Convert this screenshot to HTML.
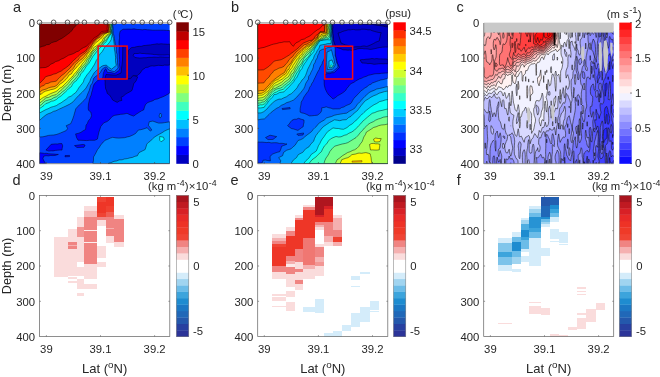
<!DOCTYPE html><html><head><meta charset="utf-8"><title>fig</title><style>html,body{margin:0;padding:0;background:#fff}svg{display:block;will-change:transform}</style></head><body><svg width="660" height="377" viewBox="0 0 660 377" font-family="'Liberation Sans', sans-serif" fill="#262626"><rect width="660" height="377" fill="#fff"/><g><clipPath id="ca"><rect x="39.5" y="23.0" width="130.3" height="140.5"/></clipPath><g clip-path="url(#ca)"><rect x="39.5" y="23.0" width="130.3" height="140.5" fill="#0040ff"/><path d="M169.8 30.6 166.6 30.4 163.7 30.2 160.8 30.2 157.9 30.2 155.4 30.2 152.6 30.2 149.9 29.9 147.6 29.8 144.8 29.4 142.5 29.8 139.5 29.5 137.1 29.5 134 28.8 131.3 29.2 128.4 29.1 126.1 29.2 123.1 29.2 120.1 31.2 119.4 34.7 119.6 38.1 119.1 41.1 119 43.8 119.4 46.6 119.2 49.1 119.1 52 119.3 54.3 119.5 56.8 119.6 59.4 119.7 62.4 119.5 64.8 119.9 67.4 119.6 70 117.2 71.7 114.6 73.5 111.2 72.6 107.4 72.5 105.8 68.8 104.6 69.9 103.3 73.5 102.8 78 101.2 79.4 97.9 80.2 96 82.3 94.1 84.1 93 87.3 92.5 90 91.7 92.3 91.2 95 90 97.6 89.4 100 88.5 103.9 88.2 108.1 88.5 110.3 90.8 112 91.6 115.7 90.5 118.4 88.3 120.9 87.4 123.4 86 125.3 85.6 129.4 83 130.9 80.8 132.4 78.2 133.4 75.6 133.9 76.5 137.4 78 140.2 81 140.3 83.9 140.4 86.7 140.6 89.4 140.3 91.9 140.3 94.7 140.3 97.4 139.1 98.1 135.8 98.9 132.1 100 129 100.7 126.6 103.8 122.8 107 121.6 109.2 119.9 112.3 116.4 114.8 115.3 117.5 114.9 120.7 114.3 123.7 114.1 127 113.3 130.3 114.9 133.7 116.1 136.1 114.3 139.2 112.3 141.6 110.8 143.7 109.9 144.5 107 145.6 104.4 147.8 102.5 150.4 101.6 153 100.7 154.9 99.4 157.8 98.9 160.4 97.7 162.9 96.8 165 95.8 167.5 94.4 169.8 93Z" fill="#0000ff" stroke="#000" stroke-width="0.45" stroke-linejoin="round" /><path d="M51.2 144.3 53.3 144.1 55.4 143.9 57.4 144 59.6 143.6 61.9 143.6 62.7 145.9 62.2 148.2 62 150.1 59.9 150 57.6 150.2 55.4 150.4 53.1 150.9 51.1 150.8 48.9 151.1 45.9 150.1Z" fill="#0000ff" stroke="#000" stroke-width="0.45" stroke-linejoin="round" /><path d="M39.5 152.8 41.7 153 44.4 153.4 46.3 153.3 48.6 153.7 51 153.9 53.7 154 56.2 154.3 58.4 154.4 55.3 155.4 53 155.6 50.7 155.5 48.5 155.9 46 155.7 43.7 156.2 42.9 158.7 44.5 162 45.8 163.5 43.8 163.7 41.6 163.6 39.5 163.7Z" fill="#0000ff" stroke="#000" stroke-width="0.45" stroke-linejoin="round" /><path d="M74.5 145.6 83 144.4 85.1 145 84 147.3 77 147.5Z" fill="#0000ff" stroke="#000" stroke-width="0.45" stroke-linejoin="round" /><path d="M65 155.6 69.5 155.4 69.5 156.6 65 156.8Z" fill="#0000ff" stroke="#000" stroke-width="0.45" stroke-linejoin="round" /><path d="M104.8 79.5 105.2 82 105.1 84 105.4 86.2 105.6 88.7 106.6 90.8 107.3 93.5 109.6 95.1 111.1 97.3 112.7 100.1 115 101.3 117.2 102.4 119.2 101.1 121.9 100.4 121.1 97.3 123.4 96.1 125.7 94.1 127.6 93 130 91.7 132 90.4 132.6 88.2 133.3 85.8 133.6 83.9 136.1 80.9 136.8 79.1 137.7 76.9 135.4 76 133.2 75.1 131.3 74.5 129.2 75 127.2 75.4 127.1 79.3 125.2 79.5 122.9 79.1 120.7 79.1 118.7 79.5 116.4 79.4 113.9 79.3 112 79.3Z" fill="#0000bf" stroke="#000" stroke-width="0.45" stroke-linejoin="round" /><path d="M105.2 77.5 106 74.5 110 74.8 116 75.2 121 73 122.5 60 122.8 46 127.1 46 127.1 79 105 79Z" fill="#0000bf" stroke="#000" stroke-width="0.45" stroke-linejoin="round" /><path d="M169.8 44 167.5 44.3 165.5 44.1 163.6 44 161.1 43.8 158.9 44.1 157 43.8 155 44.2 152.5 44.5 150.5 44.9 148.3 45.1 145.9 45.4 143.6 45.6 141.1 46.4 139.3 46.3 136.4 46.7 134.5 47.3 131.7 47.5 130 48.8 128.6 50.3 128 52.2 127.9 54.3 127 56 127.6 58.1 127.5 60.3 127.5 62.3 127 64.2 127.1 66.4 127.6 68.8 127.5 70.9 127.4 73.1 127.6 75.3 127.5 76.9 127.2 79 131 78.2 132.7 75.8 134.9 75.7 137.2 75.7 138.6 74.4 140.1 73.3 142.3 69.8 144.2 68.7 145.8 67.4 148 67.3 149.9 66.2 152.2 65.8 154 66.1 156 65.7 158.2 65.3 160 65.4 162.7 65.6 164.6 65.1 167.3 65.2 169.8 65Z" fill="#0000bf" stroke="#000" stroke-width="0.45" stroke-linejoin="round" /><path d="M169.8 55 167.5 54.8 164.7 55 162.5 55 159.9 55 158 54.9 156 54.6 154.1 54.6 152.1 54.2 150.2 54.1 147.8 53.9 146.1 53.8 144.1 53.5 141.8 53.5 140 53.1 138.1 53.5 135.9 53.5 134 53.6 133.2 55.4 134.9 57.5 137.4 57.8 139.6 58 142 57.9 144.1 57.7 146 57.8 148.1 57.4 149.9 57.3 151.9 57.3 153.9 57.1 156.1 57.2 158.2 57.3 160.1 56.9 162.5 57 164.9 57.2 167.5 57.2 169.8 57.2Z" fill="#0000ff" stroke="#000" stroke-width="0.45" stroke-linejoin="round" /><path d="M39.5 23 112.6 23 112.7 25.8 113.2 28.4 113 30.7 113.4 33.6 114.1 36.4 114.4 38.6 114.9 41.7 115.3 44.1 116.3 46.4 116.3 49.6 116.4 52 117.1 54.4 117.1 57.5 117.5 59.9 117.5 62.6 117.8 65.2 118.1 68.1 116.4 69.7 114.3 71.7 111.5 70.9 108.8 70 106.3 66.8 103.6 68.1 101.8 69.6 100.4 72.5 98.6 74.5 95.9 76.2 93.8 78.1 93 80.6 92.3 83.1 90.7 85.2 90.1 87.5 89.3 90.3 87.7 94 86.2 98.1 83.9 100.4 82.1 102.5 79.3 104.9 77.6 106.8 75.8 108.8 74.5 113.2 73.9 115.5 73 118.2 72 120.8 70.7 123.7 66.2 125.7 67.6 128.5 66.2 130.6 63.3 131.8 60.7 132.9 58.7 133.7 56.1 134.6 53.7 135 50.7 135.2 48.5 135.4 46 136.1 42.9 136.8 39.5 137Z" fill="#0080ff" stroke="#000" stroke-width="0.45" stroke-linejoin="round" /><path d="M92.8 163.5 93.5 160.4 93.5 157 94.9 154.7 96.2 152.3 97.4 149.8 99.4 147.2 101.1 144.3 102.9 142.7 104.9 140.3 107.7 139.3 110.3 138.1 112.7 137.3 115.9 137.9 118.9 138.1 121.7 137.9 124.5 137.7 127.4 136.9 129.7 136.4 132.9 135 135.5 133.5 138.4 130 140.8 129.7 143.8 128.9 147.1 127.7 150.3 131.1 151.8 130.1 150.1 127.4 148.3 125.3 149.3 121.7 152.9 121.1 155.9 122.2 158.7 123.1 162 123 164.8 122.6 169.8 121.8 169.8 163.5Z" fill="#0080ff" stroke="#000" stroke-width="0.45" stroke-linejoin="round" /><path d="M160.3 113 161.6 114.5 161.3 117 160 118 159 116Z" fill="#0080ff" stroke="#000" stroke-width="0.45" stroke-linejoin="round" /><path d="M39.5 23 112.2 23 112.3 25.4 112.1 28.2 112.4 30.8 112.5 33.5 112.8 36.5 113.6 38.6 113.8 41.5 114.2 44.2 114.3 46.8 114.5 49.5 115 52.1 115.3 55 115.6 57.3 115.5 60.5 115.8 63.1 116.3 65.4 113.6 67.5 111.7 69.2 108.6 67.3 106.4 65.1 103.1 65.6 100.6 67 99 68.6 96.8 70.2 94.1 72.9 92.5 75.6 90.7 78.8 89.9 81.3 88.3 83.9 86 88.1 84.2 90.1 82.2 92.2 78.9 95.3 75.9 98.5 73 101.9 69.8 104.1 65.8 106.1 63.4 107.2 61 108.3 58.6 109.4 55.9 110.8 53.3 111.4 51.1 112.8 48.3 113.7 46 114.9 43.6 116.8 41.7 118.4 39.5 120.5Z" fill="#00bfff" stroke="#000" stroke-width="0.45" stroke-linejoin="round" /><path d="M108 163.5 111.1 162.6 114 161.3 116.5 161 119.1 159.9 122.1 159.8 124.3 159 127.3 158.6 129.8 157.9 132.5 157.4 134.9 156.3 137.3 155.8 139 152.6 142.1 151.1 145.1 149.6 146 146.9 146.8 144.1 148.3 142.5 150.3 141.2 152.5 138.8 155 136.7 157.2 135.4 159.6 134.1 161.9 132.8 164.5 131.1 167.1 129.8 169.8 128.8 169.8 163.5Z" fill="#00bfff" stroke="#000" stroke-width="0.45" stroke-linejoin="round" /><path d="M39.5 23 111.8 23 111.8 25.9 111.7 28.3 111.4 31 112 34.3 111.7 36.6 111.1 39.8 109.7 42.1 107.6 44.7 104.8 47.2 102.2 51.6 100.5 53.4 99 55.4 98.2 58.1 96.3 60.3 95.2 62.9 94.2 64.9 92.4 67.7 91.2 69.6 89 72.5 87.2 74.6 85.6 77 84.2 79.2 83.4 81.9 82 83.8 80.4 85.8 78.6 88.1 77.6 89.9 75.6 92.7 73.3 94.3 71.2 96.1 68.4 97.2 66.3 99.2 63.6 101 61.1 102.8 58.4 104.2 56.4 105.6 53.6 106.5 51 107.2 48.1 108.7 46 109.5 43 111.1 39.5 113Z" fill="#00ffff" stroke="#000" stroke-width="0.45" stroke-linejoin="round" /><path d="M159.7 136.5 163.5 137.2 164.3 139.5 161.2 141.8 159.7 140.3Z" fill="#00ffff" stroke="#000" stroke-width="0.45" stroke-linejoin="round" /><path d="M39.5 23 111.4 23 111.6 26.3 111.7 28.7 111.2 32 111 33.7 108.2 38 105.8 42.2 103.8 43.6 102.4 45.9 100.1 47.7 98.1 50 96.4 51.9 94.4 54.6 92.9 56.4 91.4 59 90.1 61.3 89 63.2 87.1 65.3 85.8 67 84.4 69.4 82.7 72.1 80.6 73.8 79.8 76.5 78.1 78 76.3 80.8 74.1 82.1 72.4 84.6 71.4 86.6 69.1 88.2 67.3 90.1 65.7 91.7 63.1 94 61.4 95.7 58.4 97.6 56.4 99.5 53.4 100.9 51.3 101.2 48.9 102.6 45.8 103.6 44 105.4 41.5 107.3 39.5 108.5Z" fill="#40ffbf" stroke="#000" stroke-width="0.45" stroke-linejoin="round" /><path d="M39.5 23 110.9 23 111 25.9 110.6 28.6 111 30.5 110.8 33.4 108.3 36.8 105.7 40.3 103.5 41.9 101.9 44.5 99.7 45.9 97.6 47.9 96.3 49.7 93.6 52.2 92.1 54.6 90.7 57 88.9 59.7 87.9 62.4 86.2 64.5 84.3 66.8 82.3 68.5 81.4 71.1 79 72.7 78 75.7 76.2 77.4 74.5 79.8 72.5 81.4 71 83.5 69.7 85 67.8 86.7 66.4 88.5 64.1 90.6 62.4 91.7 60.2 93.9 58.4 95.1 56.4 96.8 53.9 97.6 51.2 99.3 48.6 100 45.6 100.9 43.6 102.3 41.6 104.6 39.5 105.8Z" fill="#80ff80" stroke="#000" stroke-width="0.45" stroke-linejoin="round" /><path d="M39.5 23 110.5 23 110.1 25.4 110.6 28 110 30.8 110.6 33.4 107.2 35.9 104.8 38.1 103.9 41.1 101.8 42.7 99.9 44.6 97.8 46.2 96.3 47.9 94.3 49.9 92.2 51.6 91 54.2 89.4 57.4 87.2 59.5 86.3 61.7 84.6 64.3 82.8 65.8 80.6 68.4 79.1 70.8 77.7 72 76.2 74.6 74.4 76.4 72.1 78.8 70.2 80.9 68.4 83.4 66.3 85.4 63.6 87.6 62.1 89.5 60.4 90.8 58.2 92.6 56.2 94.6 53.8 95.2 51.4 96 48.7 97.4 45.6 97.9 43.7 100.1 41.5 101.6 39.5 103.3Z" fill="#bfff40" stroke="#000" stroke-width="0.45" stroke-linejoin="round" /><path d="M39.5 23 110 23 109.5 26.4 109.8 29.4 110 32.9 107.2 34.7 104.3 37.2 102.9 39.2 102.1 41.3 99.1 43.6 97 45.6 93.6 47.7 92.7 50.2 90.8 52.3 89.4 54.6 87.9 57 85.7 59.6 84.3 61.7 82.3 63.8 81 66 79.3 67.7 77.6 70.3 75.8 72.4 74 74.3 73 76.1 70.8 77.9 69.6 79.2 67.5 81.4 66.3 82.8 63.9 85 62.2 87 59.7 88.2 58 90 56 91.6 53.9 92.3 50.7 93.6 48.5 94.7 46.3 96 43.4 97.4 41.6 98.6 39.5 100.3Z" fill="#ffff00" stroke="#000" stroke-width="0.45" stroke-linejoin="round" /><path d="M39.5 23 109.6 23 109.7 25.8 109.9 29 109.9 32 107.1 32.9 104.2 34.5 102 37.7 100.4 38.9 97.7 41.4 95.8 42.5 94.1 44.7 92.6 46.6 91.2 49.3 89.3 51.9 87.2 54.5 86.3 56.9 84 59.2 81.9 61.6 79.9 63.7 77.8 65.7 75.8 68.2 74.1 69.7 72.6 71.8 71.4 73.9 69 75 67.9 77.1 65.9 79.5 64.3 81 62.3 82.7 59.6 84.4 58 86.6 55.8 88.2 53.8 89.1 50.8 89.7 48.6 90.4 45.7 91.1 43.8 92 41.2 94.1 39.5 95Z" fill="#ffbf00" stroke="#000" stroke-width="0.45" stroke-linejoin="round" /><path d="M39.5 23 109.1 23 109.3 26.4 108.8 28.7 109.4 31.6 104.6 33.5 101.6 35.4 100.2 37.2 97.6 38.7 96 40.4 93.8 42.9 92.2 44.7 90.7 47.7 89.2 49.6 87.5 52.7 85.7 54.5 84.2 56.6 82 58.9 79.6 60.5 78 62.3 75.6 64.3 74.2 67 73 68.7 71 70.7 69.1 71.9 67.4 74.1 65.8 75.8 63.6 78 62.2 79.8 59.7 81.6 58.2 83.7 55.9 86 53.8 86.7 50.9 87.2 48.5 87.9 46.3 89 42.4 90.2 39.5 92Z" fill="#ff8000" stroke="#000" stroke-width="0.45" stroke-linejoin="round" /><path d="M39.5 23 108.6 23 108.6 26.3 108.7 29.2 108.1 32.2 105.1 32.9 101.6 33.9 100.1 35.7 98 37.7 96.1 38.8 94.1 41.2 92.8 42.9 91.2 45.5 89.2 48.2 87.3 50.2 85.7 52.6 83.6 54.2 81.7 55.8 79.6 57.6 78.2 59.9 76.2 61.3 74 63.6 71.8 65.7 70.4 67.8 67.9 70.1 66.3 71.6 63.8 74.1 62 75.2 59.9 77.2 58.1 79 56.4 81.1 53.2 81.7 50.9 82 48.1 83.4 45.9 83.6 43.9 85.4 41.5 86.3 39.5 88Z" fill="#ff4000" stroke="#000" stroke-width="0.45" stroke-linejoin="round" /><path d="M39.5 23 108.2 23 108.1 25.7 108.4 28.4 107.6 32 105.2 32.2 102.4 32.7 99.6 34.5 97.7 36.9 96.3 38.3 93.9 40.1 92.6 41.8 90.9 43.7 88.9 45.6 88 47.5 86.1 50.1 84.4 51.9 82 53.1 79.9 54.6 78.1 56.3 75.8 58.6 73.9 60.1 72.2 61.8 70 64.4 68.2 65.9 65.8 67.8 63.6 69.2 61.3 71 58.1 72.4 56.1 73.6 53.4 74.2 51.2 75.2 48.4 75.9 45.6 76.7 44.2 78.7 42 81 39.5 83.5Z" fill="#ff0000" stroke="#000" stroke-width="0.45" stroke-linejoin="round" /><path d="M39.5 23 107.7 23 107.3 25.9 107.1 28.9 107.4 31 104.5 31.2 101.6 31.5 100.3 33.3 98.3 35.2 95.8 37 93.8 38.2 92.2 40.5 90.1 42.5 88.4 44.3 86.4 46.4 83.4 47.7 80.7 49.3 78.9 51 76.3 51.9 73.8 53.5 71.3 54.4 68.4 55.3 66.4 56.6 63.3 58.4 61.1 59.2 58.8 60.7 55.6 61.6 53.6 63 50.8 64.2 48.6 66.2 45.7 67.5 42.4 67.7 39.5 68Z" fill="#bf0000" stroke="#000" stroke-width="0.45" stroke-linejoin="round" /><path d="M39.5 23 79.8 23 76.8 24.4 75.4 26.2 73.4 28.2 71.6 30.9 69.9 32.6 67.2 34.6 63.8 37.1 61.3 38.7 59.3 39.6 56.3 41.4 54 41.9 51.4 42.8 49.2 44.5 46.7 44.7 44.5 45.9 42.2 46.4 39.5 47.5Z" fill="#800000" stroke="#000" stroke-width="0.45" stroke-linejoin="round" /></g><rect x="98.1" y="46.1" width="29" height="32.9" fill="none" stroke="#f80810" stroke-width="1.5"/><rect x="39.0" y="21.5" width="131.3" height="2.4" fill="#fff"/><path d="M39.5 22.9H169.8" stroke="#3a3a3a" stroke-width="0.6"/><circle cx="39.5" cy="22.3" r="2.3" fill="none" stroke="#333" stroke-width="0.8"/><circle cx="53.6" cy="22.3" r="2.3" fill="none" stroke="#333" stroke-width="0.8"/><circle cx="67.5" cy="22.3" r="2.3" fill="none" stroke="#333" stroke-width="0.8"/><circle cx="76.8" cy="22.3" r="2.3" fill="none" stroke="#333" stroke-width="0.8"/><circle cx="84.4" cy="22.3" r="2.3" fill="none" stroke="#333" stroke-width="0.8"/><circle cx="97.0" cy="22.3" r="2.3" fill="none" stroke="#333" stroke-width="0.8"/><circle cx="105.8" cy="22.3" r="2.3" fill="none" stroke="#333" stroke-width="0.8"/><circle cx="114.3" cy="22.3" r="2.3" fill="none" stroke="#333" stroke-width="0.8"/><circle cx="123.8" cy="22.3" r="2.3" fill="none" stroke="#333" stroke-width="0.8"/><circle cx="133.2" cy="22.3" r="2.3" fill="none" stroke="#333" stroke-width="0.8"/><circle cx="142.2" cy="22.3" r="2.3" fill="none" stroke="#333" stroke-width="0.8"/><circle cx="151.5" cy="22.3" r="2.3" fill="none" stroke="#333" stroke-width="0.8"/><circle cx="160.4" cy="22.3" r="2.3" fill="none" stroke="#333" stroke-width="0.8"/><circle cx="169.7" cy="22.3" r="2.3" fill="none" stroke="#333" stroke-width="0.8"/></g><g><clipPath id="cb"><rect x="257.7" y="23.0" width="130.10000000000002" height="140.5"/></clipPath><g clip-path="url(#cb)"><rect x="257.7" y="23.0" width="130.10000000000002" height="140.5" fill="#0066ff"/><path d="M331.8 23 331.5 25 331.6 27 331.7 29.2 331.8 31.4 331.9 33.6 331.7 35.8 331.7 37.8 331.9 39.8 331.8 41.7 332.2 44.3 330.8 46.1 330.1 48.2 328.5 49.7 327.5 52.2 326.4 54 325.8 56 324.6 57.9 323.7 60.1 322.4 62 322.1 63.9 320.8 65.9 319.8 67.6 319.2 69.6 317.9 71.6 316.7 74 315.8 75.9 315 77.6 314 79.6 313.1 81.8 311.8 83.5 311.1 85.4 309.7 87.3 309.1 89.2 308.3 91.1 306.9 92.8 305.1 95.3 303.9 97 302.8 99.5 301.2 102.1 301 104.1 300.7 105.9 300.2 108.2 300.1 110.3 300.1 112.1 301.8 112.9 304 113.3 306.6 114.4 309.5 115.9 311.6 115.8 314.5 115.5 317.4 115.2 319.4 113.7 320.9 112.3 321.7 110.3 321.7 107.8 324.5 107.4 326.2 106.8 328.9 107.8 331.1 108.2 332.9 109 335.1 108.9 337.8 108.9 339.8 108.8 341.6 107.5 343.9 107 346 105.6 348.1 104.8 350.2 103.9 351.6 102.4 352.7 100.3 353.8 98.6 355.1 96.9 356.6 95.7 358.2 93.8 359.3 92.8 361 90.8 362.8 89.6 364.8 88 367.2 86.7 368.7 85 370.9 84.3 372.5 82.9 374.4 82.3 376.6 81.4 378.4 80.8 380.9 79.9 383.2 79.6 385.6 78.9 387.5 78.4 387.9 76.3 388 74.1 387.7 72.5 387.6 70.4 387.8 68.5 387.7 65.9 387.9 64.3 388 62.3 387.5 59.8 387.9 58.2 388.1 55.9 388 53.9 387.7 51.8 387.9 49.8 388.1 47.9 387.7 45.9 387.6 43.3 387.6 41.5 387.5 39.7 388 37.1 387.6 35.2 387.6 33.5 387.7 31.5 387.8 29.4 388 27.4 387.8 25.1 387.8 23Z" fill="#0030ff" stroke="#000" stroke-width="0.45" stroke-linejoin="round" /><path d="M332.2 23 332.4 25.1 332.5 27.2 332.5 29.5 332.7 31.4 333.1 33.7 333 35.8 333.2 38.1 333.7 40.1 333.9 42 333.8 44.1 334 46.3 334.1 48.6 334.5 50.3 334.8 52.5 335.2 54.4 335.7 56.6 335.9 58.5 336.9 60.9 337.3 63.3 338.6 65.5 339.3 67.7 337.5 69.3 335.7 71.1 334.1 72.8 332 72.7 329.8 73.6 327.7 73.6 325.5 74 325 77.4 324 80 324.2 81.8 324.2 84.1 324.5 85.9 325.1 88.3 326 90.4 327.1 92.6 328.7 94.9 330 96 331.7 97.7 333.1 99.1 335.5 97.5 337.8 95.6 339.9 94.5 342.4 93 344.2 91.7 345.8 90.2 346.9 88.3 348.5 86.5 349.6 84.8 351.8 83.2 353.8 82.4 355.6 81.1 357.1 80.2 359.5 78.9 361.5 78.3 363.8 77.1 366.1 76.4 368.4 75.3 370.7 74.8 373 74.2 375 73.8 377 73.7 379 73.7 381.3 73.3 383.3 73.2 385.5 73 387.8 73 388 71.3 387.5 68.8 387.9 66.8 388 64.8 387.9 63.1 388 60.7 387.6 59.1 387.6 56.7 387.7 55.1 387.5 52.7 387.5 50.9 387.9 48.8 388 47 387.9 44.9 387.9 43.3 387.8 40.8 387.8 39 387.8 37 387.5 34.8 387.8 33.1 388 31.2 387.8 29.3 387.7 27 387.9 25.2 387.8 23Z" fill="#0000ff" stroke="#000" stroke-width="0.45" stroke-linejoin="round" /><path d="M332.6 23 332.6 25.1 333.1 27.5 332.7 29.2 332.8 31.5 332.9 33.6 333.4 35.6 333.5 37.9 333.2 40 334.2 42.3 335 44.8 336 46.8 338.4 48 340.6 48.5 342.9 49.8 345.6 49.9 347.9 50.2 349.9 50 352.4 50.5 354.1 49.8 356.1 49.4 357.9 48.7 360 48.5 362.1 48.4 363.9 48.8 365.8 48.8 368 49 370 49.4 372.1 49.2 374.1 48.8 375.9 48.4 377.9 47.9 379.9 47.5 382.3 47.2 385.5 47 387.9 47.1 387.9 45 387.9 42.7 387.5 40.8 387.6 38.8 387.6 37 387.6 35.3 387.9 33 387.9 30.9 388.1 29.2 387.9 27 388 25.1 387.8 23Z" fill="#0000c8" stroke="#000" stroke-width="0.45" stroke-linejoin="round" /><path d="M338 33 340.4 32.6 342.2 31.6 344.4 30.9 345.8 30.6 348.2 29.8 350.3 29.9 351.7 29.6 353.6 29.4 355.6 29.9 357.9 29.9 360.2 29.8 361.7 29.2 364.1 29.2 366.2 29.4 368 29.9 370.2 29.8 372.1 30.7 374.5 31.4 376.6 32 378.8 32.5 381.2 32.7 380.4 35 380.1 36.8 379.5 39.1 379.3 40.9 377.3 41.6 375.3 42.4 373.8 43.4 371.9 44.3 370.2 45.1 367.9 46.1 366.3 46.4 364.1 45.9 362.1 46.2 360.2 46.8 358 46.7 355.7 46.8 353.7 47 351.9 47.2 349.4 45.9 347.7 45.4 345.5 44.9 343.2 44 341 43Z" fill="#0000e6" stroke="#000" stroke-width="0.45" stroke-linejoin="round" /><path d="M358 24 359.9 24.2 362 24.2 364.1 24.2 365.9 24.2 367.8 24.5 370 24.3 372.2 24.4 374.2 24.8 376.6 25.2 378.8 25.5 380.9 25.8 383.2 26.1 385.4 26.8 388 26.9 387.6 24.9 387.9 23.1 385.5 23 383.3 23 381.5 23.2 379.2 23.1 377.3 23.2 374.8 23 373.1 23 370.9 23 368.8 23 366.3 22.8 364.2 22.9 362.4 23.1 360.3 23 358 23Z" fill="#00008c" stroke="#000" stroke-width="0.45" stroke-linejoin="round" /><path d="M360 60 362.2 59.5 363.8 59.6 366 59.2 367.9 59.1 370 58.9 372 58.5 374.3 58.9 376.7 58.6 379 58.9 380.8 58.9 383.5 59 385.7 59 387.6 59.3 387.7 61.1 387.9 63.8 385.4 63.7 383.3 63.8 381.2 63.7 378.5 63.8 376.4 64.1 373.9 64.3 372 63.8 370.1 63.4 367.9 63.7 366.2 63.2 363.8 63.1 362 63Z" fill="#0000c8" stroke="#000" stroke-width="0.45" stroke-linejoin="round" /><path d="M325.5 46.5 327.8 46.6 330.5 46.5 332.6 46.2 334.9 46.5 335.2 49 335.1 50.8 335.2 53.6 335.2 55.7 335.8 57.7 336.2 60.5 336.6 62.5 337.6 64.5 338 67.2 336.4 68.5 334.5 70 332.9 71.5 330.6 72 328.5 72.1 326 72.4 325.8 70.3 325.8 68.3 325.5 66.4 325.3 64.4 325 62.2 325 60Z" fill="#0066ff" stroke="#000" stroke-width="0.45" stroke-linejoin="round" /><path d="M327 52 329.5 51 331.3 49.7 332 51.9 332.5 54 333 56 333.7 58.1 334.2 60.3 334.7 63 335.4 64.8 333.7 67.5 332.3 69.4 329.7 69.3 327.4 69.7 327.2 67.4 326.7 64.7 326.7 62.5 326.5 60Z" fill="#009cff" stroke="#000" stroke-width="0.45" stroke-linejoin="round" /><path d="M329 61 332 59.9 332.9 62.4 334 64.9 331.8 67.9 329 67.5Z" fill="#00d2ff" stroke="#000" stroke-width="0.45" stroke-linejoin="round" /><circle cx="331.3" cy="66" r="1.1" fill="#3fffc0" stroke="#000" stroke-width="0.3"/><path d="M287.6 125.7 289.2 124 290.7 121.8 292 120.3 294.2 119.3 296.6 119.2 298.4 118.3 301.5 119.3 304 120 304 122.4 303.5 124.2 303.2 126.7 301.4 127.8 299.7 129.1 297.9 130.4 295.8 129.7 293.7 129 291.3 128.5Z" fill="#0030ff" stroke="#000" stroke-width="0.45" stroke-linejoin="round" /><path d="M257.7 141.9 259.9 142.2 262.1 142.1 264.1 142.3 266.9 142.6 268.9 142.3 271.1 142.9 272.8 142.8 274.8 142.7 277.1 142.8 279.4 143.4 281.1 143.3 283 143.4 285.4 143.9 287 144 285.3 144.9 283.6 145.5 281.5 146.4 281 148.7 279.7 151.7 277.3 152.3 275 153.1 272.7 154 270 156.4 270.2 158.6 270.4 160.9 267.8 160.6 265.8 160.1 263.1 160.2 262.3 162.7 260.2 163.1 257.7 163Z" fill="#0030ff" stroke="#000" stroke-width="0.45" stroke-linejoin="round" /><path d="M265.5 137.6 270 135.2 276.7 136.6 273 139.4 268 139.6Z" fill="#0030ff" stroke="#000" stroke-width="0.45" stroke-linejoin="round" /><path d="M296.8 134 303.7 133 303 135 298 135.4Z" fill="#0030ff" stroke="#000" stroke-width="0.45" stroke-linejoin="round" /><path d="M282 108.5 290 107.5 290.2 108.8 282.5 109.6Z" fill="#0030ff" stroke="#000" stroke-width="0.45" stroke-linejoin="round" /><path d="M279.9 163.5 280.8 160.8 278.7 157.6 282.6 155.7 283.6 152.4 286.7 150.2 291 148.9 292.9 147 295.1 145.2 296.5 143 298 140.5 300.4 139.8 303 138.5 304.7 136.9 307 135 309.1 133.5 311.6 131.5 313.1 129.5 315 127.6 317.1 125.7 318.5 123.6 321.3 121.7 324.2 120.1 326.4 118 328.9 117.2 331.6 116.5 334.2 115.3 337.2 114.6 340.4 114.1 343.6 113.5 346.5 113.2 349.4 111.2 352.1 109.8 354.5 108.4 356.2 106.1 357.5 104.1 359.5 102.1 361.2 100.5 362.8 98.5 364.9 96.4 366.8 94.7 369.1 92.6 371.3 91.4 374 90.4 376.7 89 379.4 88.5 382.1 87.9 385.2 87.1 387.8 86.5 387.8 163.5Z" fill="#009cff" stroke="#000" stroke-width="0.45" stroke-linejoin="round" /><path d="M291 163.5 293.3 160.1 296.5 157.6 298.3 154.6 302.8 152.3 305.6 148.8 308.9 146.9 311 143.8 313.6 141.3 314.6 138.3 316 135.5 318.2 132.6 320.2 130.3 322 128 324 126.2 326.6 124.5 329.4 122.6 331.7 121.4 334.4 119.8 337.2 120.2 339.8 120.7 342.7 119.9 346.3 119.7 348.6 117.5 350.9 116.4 352.8 114.4 354.9 112.6 357.5 110.5 359.2 108.2 361.2 105.6 363.4 102.9 365.5 100.6 368.6 98.8 370.9 97.2 374 95.6 376.3 94.8 379.2 93.2 382 92.4 384.6 91.6 387.8 91 387.8 163.5Z" fill="#00d2ff" stroke="#000" stroke-width="0.45" stroke-linejoin="round" /><path d="M303.7 163.5 305.9 160.7 308.9 158.1 311.3 154.4 313.7 152.8 316.2 151.1 317.4 148.6 318.4 145.8 319.8 143.6 321 141 322.3 138.9 324.1 136.6 325.6 134.3 327.7 131.6 330.5 129.7 333 127.9 336.1 128.4 338.6 128.5 341.1 129.1 343.5 129.3 347 127.6 349.5 125.4 352.4 123.8 354.8 121.3 357.2 119.5 359.1 117.1 361.4 115 363.9 112.5 366.2 110.4 368.9 108.3 371.2 106.6 374.1 104.7 376.7 103.5 379.6 101.6 382.5 100.9 385.2 100 387.8 99.5 387.8 163.5Z" fill="#09fff6" stroke="#000" stroke-width="0.45" stroke-linejoin="round" /><path d="M309 163.5 312 159.8 316.2 156.8 318.3 154.4 321.3 151.8 322.6 149.1 324.5 145.8 326.8 143.7 328.4 141 330.4 139 333 137.7 336 136.5 338.6 137 341 136.8 344.3 135.3 346.7 134.7 348.8 133.3 351.8 132 354.5 130.1 357.2 127.4 358.7 125.7 360.7 123.8 362.7 121.3 364.7 119.6 367.3 117.3 369.6 115.4 372.2 113.3 374.7 112.6 377.1 111.5 379.2 110.9 382.2 110.4 385.3 109.5 387.8 109 387.8 163.5Z" fill="#3fffc0" stroke="#000" stroke-width="0.45" stroke-linejoin="round" /><path d="M324 163.5 324.7 160.9 326 158 327.5 156 328.8 153.8 329.8 151.6 332 148.8 334.6 146.2 337 145.5 340 144.6 342.2 144 345.4 143.4 347.9 142.6 350.8 140.8 353.6 139.1 356 137.6 358.4 135.1 360.3 132.6 362.7 130.2 364.5 127.9 366.4 126.3 368.2 124.3 370.5 122.9 373.5 121.6 375.5 120.2 378.3 119 380.5 118.4 383.3 117.2 387.8 116.5 387.8 163.5Z" fill="#75ff8a" stroke="#000" stroke-width="0.45" stroke-linejoin="round" /><path d="M335.3 163.5 337.1 159.8 339.8 157.9 342.3 155.8 345 154.2 347.7 152.5 350.2 151.7 352.8 150.3 354.6 149.8 356.9 148.3 358.7 146.5 360.3 143.9 362 141.9 363 139.4 363.8 137 365.5 134.4 366.4 132 368.8 130.6 371.2 129.1 373.7 127.4 376.1 126.8 378.6 125.7 381.2 125 384.8 124.7 387.8 124 387.8 163.5Z" fill="#abff54" stroke="#000" stroke-width="0.45" stroke-linejoin="round" /><path d="M340 163.5 341.2 161.2 341.7 159.7 343.9 158.9 345.8 158.2 347.9 157.7 350.2 156.2 351.9 154.6 354.1 154.3 355.7 154 358 153.2 359.7 153.1 361.7 153.3 363.7 152.9 365.9 152.6 368.3 153.2 370.2 153.8 370.6 155.6 371.1 157.7 371.4 160.7 372 163.5Z" fill="#fbfb04" stroke="#000" stroke-width="0.45" stroke-linejoin="round" /><path d="M369.5 144.5 371.5 143.5 373.8 143.4 375.7 143.8 377.6 143.8 379.9 144.3 379.7 146.1 379.4 147.8 379.3 149.8 377.1 150.1 375 150.1 372.6 149.9 370.5 150Z" fill="#fbfb04" stroke="#000" stroke-width="0.45" stroke-linejoin="round" /><path d="M373.5 139.2 375.7 138 378.4 138.5 381.2 138.6 380 141.6 377 142 374.5 141.8Z" fill="#fbfb04" stroke="#000" stroke-width="0.45" stroke-linejoin="round" /><path d="M352 161 362 160.6 362 162 352 162.2Z" fill="#ffb600" stroke="#000" stroke-width="0.3" stroke-linejoin="round" /><path d="M257.7 23 257.7 120 261 119.2 264.4 118.9 266.9 116.5 269.1 114.4 271.2 112.3 274 110.2 276.9 108.1 278.7 107.4 281.3 105.3 284.1 104.2 286.7 102.6 289.4 101.8 291.6 100.9 293.6 100 296.8 97.1 299 94.5 300.6 92.8 302.2 90.7 303.8 88.6 304.8 86.5 305.7 83.6 306.9 81.5 308.4 79.3 308.7 76.3 310.3 74.2 310.9 72.4 312.3 69.8 313.3 67.2 313.6 64.7 315 62.6 315.8 60 317.3 57.8 317.8 55.4 319.1 53.1 319.7 50.8 322.5 49.3 324.6 48.9 328.3 47.4 331.9 46.9 332.4 44.4 332 41.8 332.4 39.1 331.6 36 331.7 33.4 331.7 31 331.4 28.6 331.4 25.7 331.8 23Z" fill="#009cff" stroke="#000" stroke-width="0.45" stroke-linejoin="round" /><path d="M257.7 23 257.7 113 261.1 112.9 263.7 111.7 266.9 109.1 268.6 107 271.1 104.2 274.2 101.5 276.1 100.3 279 99.1 281.3 99.1 283.8 97.8 286.4 96.8 289 94.8 291.4 93.7 293.7 91.4 295.8 89.3 297.3 87.4 298.6 84.8 300.7 82.3 302 80 303.8 78.4 305.6 75.4 306.6 72.7 307.8 69.1 309 66.8 310.5 63.9 311.6 61.4 313.5 58.4 314.4 55.5 316.2 52.9 317.2 50.7 319 48.2 319.9 45.3 322.5 44.7 325.3 44.3 327.6 43.6 330.9 43.6 331.2 41 331 38 330.8 36.1 331 33.2 331.6 30.6 331.4 27.7 331.4 25.5 331.5 23Z" fill="#00d2ff" stroke="#000" stroke-width="0.45" stroke-linejoin="round" /><path d="M257.7 23 257.7 108 260.9 107.9 264.2 107.3 265.3 105.4 267.4 103.1 268.6 100.9 270.8 98.9 272.4 97.2 274.1 94.6 276.6 94.2 279.4 92.6 281.9 92.2 284 91.9 286.2 89.4 288.7 87.3 291.1 84.5 293.7 81.8 294.8 79.5 296.7 77.8 297.9 75.1 299 73 300.1 70.8 301.9 68.7 302.7 66.7 304.3 63.9 305.8 61.9 308 58.6 309.9 56.2 312.1 53.6 313.8 51.6 314.3 49.3 315.9 46.6 317.6 44.3 319.9 40.7 324.1 40.1 327 39.7 330.5 39.9 330.5 37.1 330.5 34.4 330.7 31.8 331 28.9 330.7 25.6 331 23Z" fill="#09fff6" stroke="#000" stroke-width="0.45" stroke-linejoin="round" /><path d="M257.7 23 257.7 105.6 260.3 104.8 262.2 104.9 264.3 104 266.6 101.9 267.6 99.9 269.1 98.1 270.9 96 272.7 94.3 274.5 92.7 276.5 92 278.6 90.7 280.7 90 283.2 89.3 284.8 87.9 286.6 85.7 288.6 84.5 290.9 82.4 292.2 81.2 293.9 78.7 294.7 77 295.9 74.7 297 72.4 298.8 70.8 299.4 68.1 301 66.6 302.3 64.3 303.4 61.9 304.8 60.3 307 58.4 308.4 56.7 309.9 54.7 310.8 52.4 312.3 50.5 313.9 48.5 315.2 46.7 316.6 44.7 318 42.4 319.4 40.9 322 40.1 323.7 39.1 326.4 39.4 328.3 38.7 329.8 37.5 329.9 35.5 330 32.8 330.1 30 330.2 27.9 330.6 25.1 330.3 23Z" fill="#3fffc0" stroke="#000" stroke-width="0.45" stroke-linejoin="round" /><path d="M257.7 23 257.7 103.2 260.3 102.9 262.1 102.1 264.1 101.9 266.2 99.9 267.2 98.4 269.5 95.9 270.5 94 272.1 92.5 273.9 90.6 276.1 89.4 278 88.6 280.4 88.1 282.4 87 284.5 85.1 286.4 83.7 287.6 82.7 290.1 80.8 291.1 78.4 292.8 76.8 293.5 74.8 294.6 73.1 296.1 70.9 297.3 68.7 298.8 66.3 300.4 64.8 301.7 62.9 302.7 61 303.8 58.5 305.2 56.8 307.1 54.9 309 53.1 310.1 51.6 311.4 50 312.8 48.3 314.9 45.8 315.6 44.5 317.7 42.5 319.2 40.1 321 39.2 323.5 38.9 325.1 37.8 327.3 37.8 328.7 36.7 329.5 34.8 329 32.8 329.7 30.2 329.7 27.8 329.6 25.3 329.6 23Z" fill="#75ff8a" stroke="#000" stroke-width="0.45" stroke-linejoin="round" /><path d="M257.7 23 257.7 100.8 259.7 100.2 262.1 100.3 264.5 99.3 265.5 97.7 267.4 96 268.8 93.6 270.9 92 272 90.3 273.3 89.1 275.9 88 277.6 87 279.8 85.8 281.6 85.1 283.6 83.1 285.1 81.9 287.3 80.4 289.2 78.9 290.7 76.8 291.3 74.6 293.3 72.8 294.4 71 295.4 68.6 296.9 66.6 297.6 65.3 299.2 62.9 300.4 60.9 301.9 59 303.3 57.5 304.8 55.6 306 53.5 308 51.9 309.6 50.3 310.6 48.7 312.3 46.9 314.1 45.3 315.7 44 317.1 41.6 318.9 40.2 320.7 38.9 322.3 38.6 324.5 36.9 326.2 36.8 327.1 35.9 328 34.5 329 32.7 329.2 30.2 328.5 27.6 329.2 25.1 328.9 23Z" fill="#abff54" stroke="#000" stroke-width="0.45" stroke-linejoin="round" /><path d="M257.7 23 257.7 98.4 260.2 97.9 262.1 97.7 264.2 96.8 265.8 95.5 267.8 93.5 268.8 91.6 270.2 90.6 272.3 88.8 273.6 86.6 275.4 85.2 277.2 84.8 279.1 83.6 281.6 82.2 283.2 80.8 284.6 79.3 286.3 78.1 288.3 76.9 289.7 74.5 290.8 72.4 292.1 70.5 293.5 69.1 294.6 67.2 295.7 65.4 297.1 62.8 298 61.3 299 59.1 301.2 57.4 302.6 55.6 303.4 54.1 305.1 52.5 306.7 50.9 308.2 49.7 309.9 48.3 312.1 46 313.7 45.1 314.5 43.1 316.5 41.7 318.1 40.1 320.1 38.9 321.5 37.2 323 36.8 324.5 35.7 326.1 35.5 327.3 34.1 328 32.4 328 30.2 328 27.6 327.8 25.4 328.3 23Z" fill="#e0ff1f" stroke="#000" stroke-width="0.45" stroke-linejoin="round" /><path d="M257.7 23 257.7 96 259.7 95.2 262 95.2 263.7 94.3 265.3 93.1 267.5 91.5 269.2 89.8 270.3 87.9 272.1 86.6 273.1 84.6 274.9 83.1 276.5 82.3 278.5 81.2 280.9 79.9 282.8 78.7 284.4 77.2 285.9 76 287.5 74.1 288.5 72.6 289.6 70.4 291.2 68.7 292.5 67 293 65.5 294.8 62.9 296.1 61 296.8 59.3 298.8 58 299.6 55.9 301.7 54.6 302.7 52.5 304.3 51 305.7 49.8 307.9 48.4 309.1 46.9 310.7 45.4 312.7 44.8 314.7 42.6 315.7 41.4 317.8 39.9 318.6 38 320 36.8 322.1 35.6 324.2 35.2 325.8 34.6 326.7 34.1 327.5 31.5 327.5 29.9 327.2 27.9 327.8 25.2 327.6 23Z" fill="#ffec00" stroke="#000" stroke-width="0.45" stroke-linejoin="round" /><path d="M257.7 23 257.7 93.6 259.6 93.4 261.8 93.2 263.6 92.3 265.9 90.8 267.1 88.9 268.5 87.9 270.4 85.9 271.1 84.7 272.8 82.9 274 81.2 275.9 80.1 277.9 79.6 279.9 77.8 281.5 76.7 283.1 75.3 284.9 74.5 286.5 72.6 287.2 70.2 289 69.2 289.6 67.3 290.8 65.3 292 63.1 293.3 61.2 294.4 59.7 295.7 58.2 297.2 56 298.8 54.4 300.7 52.6 301.6 51.7 303.1 50.3 305 48.4 306.3 47.3 309 46 310.2 45.3 312.3 43.8 313.5 42.6 315.3 40.9 316.9 39.2 318.4 37.5 319.4 36.3 321 34.7 322.6 34.1 324.2 33.4 326.5 33.1 326.4 31.4 326.9 29.1 326.4 27.5 327 25.2 326.9 23Z" fill="#ffb600" stroke="#000" stroke-width="0.45" stroke-linejoin="round" /><path d="M257.7 23 257.7 91.2 260.6 90.5 263.9 90.4 266.4 87.7 269.2 84.8 270.5 83 272 81.6 274.4 79.4 276.3 78 279.2 75.9 281.5 74.3 284.4 72.6 285.8 69.6 287.2 67.1 288.7 65.4 291.1 62.7 292.5 60 294.4 57.5 295.8 55.9 297.4 53.6 299.2 52.3 301.8 49.6 304.4 47.6 306.9 45.5 309.7 44.3 311.8 43.1 314.5 40.5 317.3 38.2 318.3 35.9 320 32.6 322.7 32.7 326 33 326.5 30.6 326.1 28.4 326.5 25.3 326.2 23Z" fill="#ff8000" stroke="#000" stroke-width="0.45" stroke-linejoin="round" /><path d="M257.7 23 257.7 83.2 260.7 83 263.8 82.9 266.2 79.6 269.1 77 270.4 74.7 272.5 72.8 273.9 70.6 276.3 69.6 279 68.1 281.7 67.5 284.1 66.2 285.7 64.1 287.6 62.3 288.9 59.8 290.8 58 292.7 56.5 293.9 54.7 296.1 51.9 298.7 49.8 301.2 47.5 304.3 44.7 306.5 44.2 309.5 42.5 311.9 41.2 314.2 39 317.3 37.2 318.1 34.5 320.1 31.9 322.2 32.3 324.8 31.9 324.7 28.6 325 25.6 325.3 23Z" fill="#ff4a00" stroke="#000" stroke-width="0.45" stroke-linejoin="round" /><path d="M257.7 23 257.7 70 260.6 70 263.6 69.8 266.1 68.3 269.4 66 271.6 63.8 274.2 61.1 276.7 60.5 279.4 60.1 281.4 59.6 283.9 58.3 286.3 56.8 289.2 55.1 291.2 53.4 294.3 51.1 296.5 49.4 299 47.2 301.1 45 303.9 42.8 307 41.6 309.3 40.6 312 40.3 313.9 38.4 315.7 35.7 318.3 33.9 320.2 31.5 324.5 31.4 324.4 28.4 324.7 25.6 324.6 23Z" fill="#ff1800" stroke="#000" stroke-width="0.45" stroke-linejoin="round" /><path d="M257.7 23 257.7 48.8 260.8 48 264.1 47.4 266.8 46.4 269 45.7 271.2 44.8 273.6 44.1 276.4 43.6 279.4 42.7 281.4 42.5 284.1 41.8 287 41.9 289.7 41.7 291.4 44.6 293.4 46.3 294.5 44.5 295.9 42.9 299 41.5 301.2 39.7 304.4 39 306.4 37.6 309.1 36.4 311.8 34.4 314.1 32.3 317.2 29.9 319.8 28.7 322.3 25.6 324.5 25.2 324.3 23Z" fill="#ff0000" stroke="#000" stroke-width="0.45" stroke-linejoin="round" /></g><rect x="324.8" y="46.2" width="27.8" height="32.8" fill="none" stroke="#f80810" stroke-width="1.5"/><rect x="257.2" y="21.5" width="131.10000000000002" height="2.4" fill="#fff"/><path d="M257.7 22.9H387.8" stroke="#3a3a3a" stroke-width="0.6"/><circle cx="257.7" cy="22.3" r="2.3" fill="none" stroke="#333" stroke-width="0.8"/><circle cx="271.8" cy="22.3" r="2.3" fill="none" stroke="#333" stroke-width="0.8"/><circle cx="285.7" cy="22.3" r="2.3" fill="none" stroke="#333" stroke-width="0.8"/><circle cx="295.0" cy="22.3" r="2.3" fill="none" stroke="#333" stroke-width="0.8"/><circle cx="302.6" cy="22.3" r="2.3" fill="none" stroke="#333" stroke-width="0.8"/><circle cx="315.2" cy="22.3" r="2.3" fill="none" stroke="#333" stroke-width="0.8"/><circle cx="324.0" cy="22.3" r="2.3" fill="none" stroke="#333" stroke-width="0.8"/><circle cx="332.5" cy="22.3" r="2.3" fill="none" stroke="#333" stroke-width="0.8"/><circle cx="342.0" cy="22.3" r="2.3" fill="none" stroke="#333" stroke-width="0.8"/><circle cx="351.4" cy="22.3" r="2.3" fill="none" stroke="#333" stroke-width="0.8"/><circle cx="360.4" cy="22.3" r="2.3" fill="none" stroke="#333" stroke-width="0.8"/><circle cx="369.7" cy="22.3" r="2.3" fill="none" stroke="#333" stroke-width="0.8"/><circle cx="378.6" cy="22.3" r="2.3" fill="none" stroke="#333" stroke-width="0.8"/><circle cx="387.9" cy="22.3" r="2.3" fill="none" stroke="#333" stroke-width="0.8"/></g><g><clipPath id="cc"><rect x="483.7" y="22.6" width="130.00000000000006" height="140.9"/></clipPath><g clip-path="url(#cc)"><rect x="483.7" y="22.6" width="130.00000000000006" height="140.9" fill="#c9c9c9"/><path d="M609.7 61.5 609.7 61.6 609.9 63.1 610 64.6 610 66.1 609.9 67.6 609.8 69.1 609.7 69.6 609.7 69.1 609.6 67.6 609.5 66.1 609.5 64.6 609.5 63.1 609.7 61.6 609.7 61.5ZM608.2 76.8 608.3 78.1 608.2 79.5 608 78.1 608.2 76.8ZM605.2 83.9 606.7 83 606.9 84.1 606.9 85.6 606.9 87.1 606.8 88.6 606.7 89.4 606.3 90.1 605.8 91.6 605.6 93.1 605.5 94.6 605.2 96.1 605.2 96.2 605.2 96.1 605 94.6 604.9 93.1 604.9 91.6 605 90.1 605 88.6 605 87.1 605 85.6 605.1 84.1 605.2 83.9ZM606.7 106.4 606.8 106.6 607.4 108.1 607.8 109.6 608 111.1 608.2 112 608.3 112.6 608.7 114.1 609.2 115.6 609.5 117.1 609.7 118.6 609.6 120.1 609.4 121.6 609 123.1 608.2 124.4 607.3 123.1 607.2 121.6 607.2 120.1 607.2 118.6 607.2 117.1 607.2 115.6 606.7 114.4 606.3 115.6 606.1 117.1 606 118.6 605.9 120.1 605.7 121.6 605.4 123.1 605.2 123.7 605.1 123.1 604.8 121.6 604.6 120.1 604.5 118.6 604.4 117.1 604.4 115.6 604.3 114.1 604.4 112.6 604.4 111.1 604.6 109.6 605 108.1 605.2 107.6 606.4 106.6 606.7 106.4ZM614.2 109 614.2 109.6 614.2 111.1 614.2 112.6 614.2 113.2 614 112.6 613.9 111.1 614 109.6 614.2 109ZM605.2 128.7 606.7 127.9 606.8 129.1 607 130.6 607.1 132.1 607.1 133.6 607.1 135.1 607 136.6 606.8 138.1 606.7 138.3 605.2 139.4 605.1 139.6 604.4 141.1 603.7 142.6 603.7 142.7 603.7 142.6 603.5 141.1 603.4 139.6 603.3 138.1 603.3 136.6 603.4 135.1 603.5 133.6 603.6 132.1 603.7 130.6 603.7 130 604.8 129.1 605.2 128.7ZM612.7 134.4 612.7 135.1 612.7 136.6 612.7 137.6 612.6 136.6 612.6 135.1 612.7 134.4ZM612.7 142 612.7 142.6 612.8 144.1 612.7 144.5 612.7 144.1 612.7 142.6 612.7 142ZM609.7 157.5 609.7 157.6 609.9 159.1 610.1 160.6 610.6 162.1 611.2 163 612.1 163.6 611.2 163.6 609.7 163.6 609.4 163.6 609.4 162.1 609.4 160.6 609.5 159.1 609.7 157.6 609.7 157.5ZM614.2 160.2 614.2 160.6 614.2 162.1 614.2 163.6 612.8 163.6 612.9 162.1 613.5 160.6 614.2 160.2Z" fill="#2626ff" fill-rule="evenodd" stroke="#2626ff" stroke-width="0.3"/><path d="M600.7 31.6 600.7 31.6 600.7 31.9 600.6 31.6 600.7 31.6ZM612.7 46.8 612.8 48.1 612.8 49.6 612.7 50.2 612.5 49.6 612.5 48.1 612.7 46.8ZM609.7 53.6 609.8 54.1 610.2 55.6 610.5 57.1 610.8 58.6 611 60.1 611.2 61 611.3 61.6 611.5 63.1 611.8 64.6 612.2 66.1 612.5 67.6 612.7 68.6 612.8 67.6 613.1 66.1 613.6 64.6 614.2 63.2 614.2 64.6 614.2 66.1 614.2 67.6 614.2 69.1 614.2 70.6 614.2 72.1 614.2 73.6 614.2 75.1 614.2 76.6 614.2 78.1 614.2 79.6 614.2 81.1 614.2 82.6 614.2 84.1 614.2 85.6 614.2 87.1 614.2 88.6 614.2 90.1 614.2 91.6 614.2 93.1 614.2 94.6 614.2 96.1 614.2 97.6 614.2 99.1 614.2 100.6 614.2 102.1 614.2 103.6 614.2 105.1 614.2 106.6 614.2 108.1 614.2 109 614 109.6 613.9 111.1 614 112.6 614.2 113.2 614.2 114.1 614.2 115.6 614.2 117.1 614.2 117.8 613.7 117.1 613.1 115.6 612.7 114.1 612.5 114.1 611.6 112.6 611.5 111.1 611.4 109.6 611.3 108.1 611.3 106.6 611.2 105.3 611.2 106.6 611.1 108.1 611 109.6 610.9 111.1 610.9 112.6 611.1 114.1 611.2 115.1 611.3 115.6 611.6 117.1 611.8 118.6 612 120.1 612.4 121.6 612.7 122.3 612.9 123.1 613.2 124.6 613.3 126.1 613.4 127.6 613.4 129.1 613.4 130.6 613.5 132.1 613.7 133.6 613.9 135.1 614.2 136.3 614.2 136.6 614.2 138.1 614.2 139.6 614.2 141.1 614.2 142.6 614.2 144.1 614.2 145.6 614.2 146.4 614 147.1 613.5 148.6 612.7 150.1 612.7 150.2 612.5 150.1 611.5 148.6 611.4 147.1 611.4 145.6 611.4 144.1 611.4 142.6 611.3 141.1 611.2 140.7 610.4 141.1 609.7 141.5 609.4 141.1 609 139.6 608.9 138.1 608.9 136.6 609 135.1 609.2 133.6 609.3 132.1 609.2 130.6 609 129.1 608.2 127.7 607.9 129.1 607.9 130.6 607.9 132.1 608 133.6 608 135.1 608 136.6 608 138.1 607.9 139.6 607.9 141.1 607.7 142.6 606.9 144.1 606.7 144.2 605.4 145.6 605.4 147.1 605.6 148.6 605.7 150.1 605.7 151.6 605.6 153.1 605.5 154.6 605.3 156.1 605.2 157.6 605.2 159.1 605.3 160.6 605.3 162.1 605.4 163.6 605.2 163.6 603.7 163.6 602.2 163.6 600.7 163.6 599.4 163.6 599.3 162.1 599.2 161.2 599.1 160.6 598.6 159.1 598.1 157.6 597.9 156.1 598 154.6 598.2 153.1 598.4 151.6 598.6 150.1 598.7 148.6 598.7 147.1 598.8 145.6 598.8 144.1 598.9 142.6 599 141.1 599 139.6 599 138.1 599 136.6 598.9 135.1 598.8 133.6 598.7 132.1 598.6 130.6 598.4 129.1 598.3 127.6 597.8 126.1 597.7 126 597.6 126.1 596.8 127.6 596.4 129.1 596.2 129.7 596.1 129.1 595.9 127.6 595.7 126.1 595.4 124.6 595.1 123.1 594.7 121.8 594.7 121.6 594.7 120.1 594.7 119.7 596.2 120.1 596.4 118.6 596.4 117.1 596.3 115.6 596.2 115.3 595.9 114.1 595.8 112.6 595.9 111.1 596.1 109.6 596.2 109.2 596.3 109.6 596.6 111.1 597 112.6 597.7 113.6 598 114.1 598.7 115.6 599 117.1 599.2 118.5 599.5 117.1 600 115.6 600.6 114.1 600.7 113.7 601 112.6 600.8 111.1 600.7 110.9 600.5 109.6 600.3 108.1 600.2 106.6 600.1 105.1 600.3 103.6 600.7 103.2 601.5 103.6 602.2 104.3 602.8 103.6 603.7 102.1 603.7 102.1 603.9 100.6 603.9 99.1 603.8 97.6 603.7 96.1 603.7 95.4 603.6 94.6 603.4 93.1 603.1 91.6 602.8 90.1 602.5 88.6 602.4 87.1 602.6 85.6 603 84.1 603.3 82.6 603.6 81.1 603.7 80.6 604.2 79.6 605.2 78.1 605.2 78.1 605.6 76.6 605.9 75.1 606.3 73.6 606.7 72.8 607.1 72.1 608.2 71.1 608.3 70.6 608.5 69.1 608.5 67.6 608.5 66.1 608.3 64.6 608.2 63.7 607.3 64.6 606.9 66.1 606.7 66.6 606.6 67.6 606.4 69.1 606.1 70.6 605.2 71.9 604.9 70.6 604.6 69.1 604.5 67.6 604.4 66.1 604.4 64.6 604.4 63.1 604.4 61.6 604.4 60.1 604.4 58.6 604.6 57.1 605.2 55.7 606.1 57.1 606.4 58.6 606.5 60.1 606.7 61.6 606.7 61.7 606.7 61.6 607 60.1 607.1 58.6 607.4 57.1 608.2 55.6 608.2 55.6 609.5 54.1 609.7 53.6ZM609.7 61.6 609.5 63.1 609.5 64.6 609.5 66.1 609.6 67.6 609.7 69.1 609.7 69.6 609.8 69.1 609.9 67.6 610 66.1 610 64.6 609.9 63.1 609.7 61.6 609.7 61.5 609.7 61.6ZM612.6 76.6 612.5 78.1 612.5 79.6 612.6 81.1 612.7 81.7 612.8 81.1 613.1 79.6 613.1 78.1 613 76.6 612.7 75.2 612.6 76.6ZM608 78.1 608.2 79.5 608.3 78.1 608.2 76.8 608 78.1ZM609.5 82.6 609.2 84.1 609 85.6 608.9 87.1 608.8 88.6 608.7 90.1 608.6 91.6 608.5 93.1 608.5 94.6 608.4 96.1 608.3 97.6 608.2 98.7 608 99.1 608.2 99.4 609.7 99.9 610.1 99.1 610.3 97.6 610.3 96.1 610.4 94.6 610.4 93.1 610.5 91.6 610.5 90.1 610.5 88.6 610.4 87.1 610.4 85.6 610.2 84.1 610 82.6 609.7 81.5 609.5 82.6ZM605.1 84.1 605 85.6 605 87.1 605 88.6 605 90.1 604.9 91.6 604.9 93.1 605 94.6 605.2 96.1 605.2 96.2 605.2 96.1 605.5 94.6 605.6 93.1 605.8 91.6 606.3 90.1 606.7 89.4 606.8 88.6 606.9 87.1 606.9 85.6 606.9 84.1 606.7 83 605.2 83.9 605.1 84.1ZM612.5 94.6 612.2 96.1 612 97.6 611.8 99.1 611.6 100.6 611.4 102.1 611.3 103.6 611.3 105.1 612.7 105.5 612.9 105.1 613.3 103.6 613.5 102.1 613.5 100.6 613.4 99.1 613.3 97.6 613.1 96.1 612.9 94.6 612.7 93.8 612.5 94.6ZM606.4 106.6 605.2 107.6 605 108.1 604.6 109.6 604.4 111.1 604.4 112.6 604.3 114.1 604.4 115.6 604.4 117.1 604.5 118.6 604.6 120.1 604.8 121.6 605.1 123.1 605.2 123.7 605.4 123.1 605.7 121.6 605.9 120.1 606 118.6 606.1 117.1 606.3 115.6 606.7 114.4 607.2 115.6 607.2 117.1 607.2 118.6 607.2 120.1 607.2 121.6 607.3 123.1 608.2 124.4 609 123.1 609.4 121.6 609.6 120.1 609.7 118.6 609.5 117.1 609.2 115.6 608.7 114.1 608.3 112.6 608.2 112 608 111.1 607.8 109.6 607.4 108.1 606.8 106.6 606.7 106.4 606.4 106.6ZM601.9 121.6 601.4 123.1 601 124.6 600.7 126 600.6 126.1 600.3 127.6 600.3 129.1 600.2 130.6 600.2 132.1 600.3 133.6 600.3 135.1 600.3 136.6 600.2 138.1 600 139.6 599.9 141.1 599.8 142.6 599.7 144.1 599.7 145.6 599.7 147.1 599.7 148.6 599.7 150.1 599.7 151.6 599.7 153.1 599.8 154.6 599.8 156.1 600 157.6 600.7 158.8 602.2 158.1 602.5 157.6 603.2 156.1 603.5 154.6 603.7 153.7 603.9 153.1 604.2 151.6 604.4 150.1 604.5 148.6 603.7 147.3 603.7 147.1 603.5 145.6 603.3 144.1 603.1 142.6 602.9 141.1 602.7 139.6 602.5 138.1 602.4 136.6 602.5 135.1 602.6 133.6 602.7 132.1 602.8 130.6 602.9 129.1 602.9 127.6 602.9 126.1 602.9 124.6 602.8 123.1 602.5 121.6 602.2 120.9 601.9 121.6ZM611.2 124.6 610.7 126.1 610.4 127.6 610.2 129.1 610.2 130.6 610.3 132.1 611.2 133.2 611.5 132.1 611.7 130.6 611.9 129.1 612 127.6 611.9 126.1 611.3 124.6 611.2 124.4 611.2 124.6ZM604.8 129.1 603.7 130 603.7 130.6 603.6 132.1 603.5 133.6 603.4 135.1 603.3 136.6 603.3 138.1 603.4 139.6 603.5 141.1 603.7 142.6 603.7 142.7 603.7 142.6 604.4 141.1 605.1 139.6 605.2 139.4 606.7 138.3 606.8 138.1 607 136.6 607.1 135.1 607.1 133.6 607.1 132.1 607 130.6 606.8 129.1 606.7 127.9 605.2 128.7 604.8 129.1ZM612.6 135.1 612.6 136.6 612.7 137.6 612.7 136.6 612.7 135.1 612.7 134.4 612.6 135.1ZM612.7 142.6 612.7 144.1 612.7 144.5 612.8 144.1 612.7 142.6 612.7 142 612.7 142.6ZM599.2 68.4 599.3 69.1 599.5 70.6 599.6 72.1 599.8 73.6 599.9 75.1 600 76.6 599.4 78.1 599.2 78.2 598.5 79.6 598.1 81.1 597.8 82.6 597.7 83.2 597.6 82.6 597.4 81.1 597.3 79.6 597.2 78.1 597.2 76.6 597.7 75.7 598 75.1 598.4 73.6 598.6 72.1 598.7 70.6 599 69.1 599.2 68.4ZM599.2 93.5 599.4 94.6 599.6 96.1 599.7 97.6 599.7 99.1 599.6 100.6 599.3 102.1 599.2 102.2 599.1 102.1 598.7 100.6 598.6 99.1 598.7 97.6 598.8 96.1 599 94.6 599.2 93.5ZM609.7 150.7 610.5 151.6 610.8 153.1 610.9 154.6 611 156.1 611.2 157 611.9 156.1 612.7 155.5 613.5 156.1 614.2 156.5 614.2 157.6 614.2 159.1 614.2 160.2 613.5 160.6 612.9 162.1 612.8 163.6 612.7 163.6 612.1 163.6 611.2 163 610.6 162.1 610.1 160.6 609.9 159.1 609.7 157.6 609.7 157.5 609.7 157.6 609.5 159.1 609.4 160.6 609.4 162.1 609.4 163.6 608.2 163.6 607.8 163.6 607.8 162.1 607.9 160.6 608 159.1 608.1 157.6 608.2 156.8 608.3 156.1 608.6 154.6 608.8 153.1 609.3 151.6 609.7 150.7ZM587.2 156.2 587.5 157.6 587.6 159.1 587.7 160.6 587.7 162.1 587.7 163.6 587.2 163.6 586.1 163.6 586.2 162.1 586.3 160.6 586.5 159.1 586.8 157.6 587.2 156.2ZM593.2 160.1 593.3 160.6 593.6 162.1 593.9 163.6 593.2 163.6 592.9 163.6 592.9 162.1 593.1 160.6 593.2 160.1ZM584.2 161.7 584.3 162.1 584.6 163.6 584.2 163.6 584.1 163.6 584.2 162.1 584.2 161.7ZM596.2 162.4 596.3 163.6 596.2 163.6 595.9 163.6 596.2 162.4Z" fill="#4040ff" fill-rule="evenodd" stroke="#4040ff" stroke-width="0.3"/><path d="M599.2 32.6 599.2 31.6 600.6 31.6 600.7 31.9 600.7 31.6 601.2 31.6 601.2 33.1 601 34.6 600.8 36.1 600.7 36.4 599.2 37.1 599.2 36.1 599.2 34.6 599.2 33.1 599.2 32.6ZM603.7 31.6 604.8 31.6 604.8 33.1 604.9 34.6 605.2 35.6 605.2 36.1 605.4 37.6 605.6 39.1 606.1 40.6 606.7 41.7 606.9 42.1 607.3 43.6 607.5 45.1 607.8 46.6 608.1 48.1 608.2 48.3 608.3 48.1 608.7 46.6 609 45.1 609.1 43.6 609.2 42.1 609.1 40.6 609.1 39.1 609.3 37.6 609.7 36.4 610.3 37.6 611 39.1 611.2 39.7 612.7 39.5 612.8 40.6 613.2 42.1 613.6 43.6 614.1 45.1 614.2 45.5 614.2 46.6 614.2 48.1 614.2 49.6 614.2 51.1 614.2 52.6 614.2 53.2 613.9 54.1 613.3 55.6 612.7 56.5 612.5 57.1 612.4 58.6 612.5 60.1 612.7 61.3 613.3 60.1 614.2 58.8 614.2 60.1 614.2 61.6 614.2 63.1 614.2 63.2 613.6 64.6 613.1 66.1 612.8 67.6 612.7 68.6 612.5 67.6 612.2 66.1 611.8 64.6 611.5 63.1 611.3 61.6 611.2 61 611 60.1 610.8 58.6 610.5 57.1 610.2 55.6 609.8 54.1 609.7 53.6 609.5 54.1 608.2 55.6 608.2 55.6 607.4 57.1 607.1 58.6 607 60.1 606.7 61.6 606.7 61.7 606.7 61.6 606.5 60.1 606.4 58.6 606.1 57.1 605.2 55.7 604.6 57.1 604.4 58.6 604.4 60.1 604.4 61.6 604.4 63.1 604.4 64.6 604.4 66.1 604.5 67.6 604.6 69.1 604.9 70.6 605.2 71.9 606.1 70.6 606.4 69.1 606.6 67.6 606.7 66.6 606.9 66.1 607.3 64.6 608.2 63.7 608.3 64.6 608.5 66.1 608.5 67.6 608.5 69.1 608.3 70.6 608.2 71.1 607.1 72.1 606.7 72.8 606.3 73.6 605.9 75.1 605.6 76.6 605.2 78.1 605.2 78.1 604.2 79.6 603.7 80.6 603.6 81.1 603.3 82.6 603 84.1 602.6 85.6 602.4 87.1 602.5 88.6 602.8 90.1 603.1 91.6 603.4 93.1 603.6 94.6 603.7 95.4 603.7 96.1 603.8 97.6 603.9 99.1 603.9 100.6 603.7 102.1 603.7 102.1 602.8 103.6 602.2 104.3 601.5 103.6 600.7 103.2 600.3 103.6 600.1 105.1 600.2 106.6 600.3 108.1 600.5 109.6 600.7 110.9 600.8 111.1 601 112.6 600.7 113.7 600.6 114.1 600 115.6 599.5 117.1 599.2 118.5 599 117.1 598.7 115.6 598 114.1 597.7 113.6 597 112.6 596.6 111.1 596.3 109.6 596.2 109.2 596.1 109.6 595.9 111.1 595.8 112.6 595.9 114.1 596.2 115.3 596.3 115.6 596.4 117.1 596.4 118.6 596.2 120.1 594.7 119.7 594.7 120.1 594.7 121.6 594.7 121.8 595.1 123.1 595.4 124.6 595.7 126.1 595.9 127.6 596.1 129.1 596.2 129.7 596.4 129.1 596.8 127.6 597.6 126.1 597.7 126 597.8 126.1 598.3 127.6 598.4 129.1 598.6 130.6 598.7 132.1 598.8 133.6 598.9 135.1 599 136.6 599 138.1 599 139.6 599 141.1 598.9 142.6 598.8 144.1 598.8 145.6 598.7 147.1 598.7 148.6 598.6 150.1 598.4 151.6 598.2 153.1 598 154.6 597.9 156.1 598.1 157.6 598.6 159.1 599.1 160.6 599.2 161.2 599.3 162.1 599.4 163.6 599.2 163.6 597.7 163.6 596.3 163.6 596.2 162.4 595.9 163.6 594.7 163.6 593.9 163.6 593.6 162.1 593.3 160.6 593.2 160.1 593.1 160.6 592.9 162.1 592.9 163.6 591.7 163.6 590.2 163.6 590 163.6 589.9 162.1 589.5 160.6 588.8 159.1 588.7 159 588.7 159.1 588.4 160.6 588.3 162.1 588.3 163.6 587.7 163.6 587.7 162.1 587.7 160.6 587.6 159.1 587.5 157.6 587.2 156.2 586.8 157.6 586.5 159.1 586.3 160.6 586.2 162.1 586.1 163.6 585.7 163.6 584.6 163.6 584.3 162.1 584.2 161.7 584.2 162.1 584.1 163.6 583.6 163.6 583.6 162.1 583.6 160.6 583.6 159.1 583.7 157.6 583.7 156.1 583.8 154.6 584.2 153.1 584.2 153.1 585.7 151.7 585.8 151.6 587.2 150.2 588.3 151.6 588.7 152.2 589.1 151.6 589.6 150.1 589.8 148.6 589.9 147.1 590 145.6 590.1 144.1 590.1 142.6 590.1 141.1 590 139.6 589.9 138.1 589.7 136.6 589.5 135.1 589.3 133.6 589.2 132.1 589.2 130.6 589.3 129.1 589.8 127.6 590.2 127.1 590.5 127.6 590.9 129.1 591.2 130.6 591.3 132.1 591.3 133.6 591.2 135.1 591 136.6 590.8 138.1 590.7 139.6 590.9 141.1 591.7 142.1 592 141.1 592.3 139.6 592.4 138.1 592.5 136.6 592.5 135.1 592.5 133.6 592.7 132.1 593 130.6 593.2 129.1 593.2 127.6 593 126.1 592.9 124.6 592.8 123.1 592.8 121.6 593 120.1 593.2 119.7 593.4 118.6 593.6 117.1 593.8 115.6 593.8 114.1 593.7 112.6 593.2 111.7 592.8 112.6 592.5 114.1 592.3 115.6 591.8 117.1 591.7 117.3 591.6 117.1 591.2 115.6 590.7 114.1 590.4 112.6 590.2 111.2 590.2 111.1 590.1 109.6 590.2 108.1 590.2 107 590.4 106.6 591.7 106.3 592 105.1 592.2 103.6 592.4 102.1 592.6 100.6 592.7 99.1 592.7 97.6 592.4 96.1 591.7 95.4 590.8 94.6 590.5 93.1 590.4 91.6 590.4 90.1 590.5 88.6 590.9 87.1 591.6 85.6 591.7 85.4 592.9 84.1 593.2 83.9 593.3 84.1 593.7 85.6 593.8 87.1 594 88.6 594.4 90.1 594.7 90.5 595.2 90.1 595.4 88.6 595.4 87.1 595.5 85.6 595.6 84.1 595.7 82.6 595.5 81.1 595 79.6 594.8 78.1 594.7 76.6 594.7 75.1 594.7 74.9 594.7 73.6 594.5 72.1 594.2 70.6 593.9 69.1 593.9 67.6 594 66.1 594.2 64.6 594.5 63.1 594.7 62.5 594.9 63.1 595.2 64.6 595.4 66.1 595.6 67.6 596.1 69.1 596.2 69.2 596.3 69.1 597.1 67.6 597.4 66.1 597.6 64.6 597.7 63.8 599.2 64.2 599.5 64.6 600 66.1 600.2 67.6 600.3 69.1 600.5 70.6 600.7 71.6 602.2 71.9 602.3 70.6 602.4 69.1 602.6 67.6 602.8 66.1 602.9 64.6 603 63.1 603 61.6 602.9 60.1 602.9 58.6 603 57.1 603.1 55.6 603.2 54.1 603.5 52.6 603.7 51.6 604 51.1 604.6 49.6 604.7 48.1 604.7 46.6 604.6 45.1 604.6 43.6 604.5 42.1 604.5 40.6 604.4 39.1 604.3 37.6 603.7 36.8 603.6 36.1 603.4 34.6 603.3 33.1 603.2 31.6 603.7 31.6ZM612.5 48.1 612.5 49.6 612.7 50.2 612.8 49.6 612.8 48.1 612.7 46.8 612.5 48.1ZM599 69.1 598.7 70.6 598.6 72.1 598.4 73.6 598 75.1 597.7 75.7 597.2 76.6 597.2 78.1 597.3 79.6 597.4 81.1 597.6 82.6 597.7 83.2 597.8 82.6 598.1 81.1 598.5 79.6 599.2 78.2 599.4 78.1 600 76.6 599.9 75.1 599.8 73.6 599.6 72.1 599.5 70.6 599.3 69.1 599.2 68.4 599 69.1ZM602.1 73.6 602 75.1 601.9 76.6 602 78.1 602.1 79.6 602.2 80.2 602.3 79.6 602.5 78.1 602.5 76.6 602.5 75.1 602.3 73.6 602.2 72.2 602.1 73.6ZM599.1 84.1 598.8 85.6 598.7 87.1 598.8 88.6 599.2 89.2 599.6 90.1 600.2 91.6 600.5 93.1 600.6 94.6 600.6 96.1 600.7 97.6 600.7 97.7 600.7 97.6 601 96.1 601 94.6 601 93.1 601.1 91.6 601.2 90.1 601.3 88.6 601.3 87.1 601.2 85.6 601.1 84.1 600.7 83.2 599.2 83.5 599.1 84.1ZM595.6 91.6 595.6 93.1 595.7 94.6 595.8 96.1 596.2 97.3 597.7 96.9 597.8 96.1 598 94.6 598 93.1 598 91.6 597.7 90.5 596.2 90.9 595.6 91.6ZM599 94.6 598.8 96.1 598.7 97.6 598.6 99.1 598.7 100.6 599.1 102.1 599.2 102.2 599.3 102.1 599.6 100.6 599.7 99.1 599.7 97.6 599.6 96.1 599.4 94.6 599.2 93.5 599 94.6ZM593.2 129.1 593.6 130.6 594.7 132.1 594.9 130.6 594.8 129.1 594.7 128.3 593.2 129.1ZM597.6 130.6 597.1 132.1 596.7 133.6 596.2 135.1 596.2 135.2 595.8 136.6 595.5 138.1 595.2 139.6 594.7 140.8 594.6 141.1 594.4 142.6 594.2 144.1 594 145.6 593.7 147.1 593.5 148.6 593.3 150.1 593.4 151.6 593.5 153.1 593.6 154.6 593.7 156.1 593.9 157.6 594.3 159.1 594.7 160.3 595.2 159.1 595.6 157.6 595.8 156.1 595.8 154.6 595.7 153.1 595.7 151.6 595.6 150.1 595.5 148.6 595.7 147.1 596.1 145.6 596.2 145.5 596.5 145.6 597.6 147.1 597.7 147.3 597.7 147.1 597.8 145.6 597.8 144.1 597.9 142.6 598 141.1 598.1 139.6 598.2 138.1 598.2 136.6 598.2 135.1 598.1 133.6 597.9 132.1 597.7 130.6 597.7 130.4 597.6 130.6ZM612.7 31.6 614.2 31.6 614.2 33.1 614.2 34.2 612.7 34 612.6 33.1 612.6 31.6 612.7 31.6ZM591.7 66 591.7 66.1 592.1 67.6 592.3 69.1 592.2 70.6 592 72.1 591.7 73.6 591.7 73.7 591.7 73.6 591.6 72.1 591.5 70.6 591.5 69.1 591.6 67.6 591.7 66.1 591.7 66ZM612.7 75.2 613 76.6 613.1 78.1 613.1 79.6 612.8 81.1 612.7 81.7 612.6 81.1 612.5 79.6 612.5 78.1 612.6 76.6 612.7 75.2ZM609.7 81.5 610 82.6 610.2 84.1 610.4 85.6 610.4 87.1 610.5 88.6 610.5 90.1 610.5 91.6 610.4 93.1 610.4 94.6 610.3 96.1 610.3 97.6 610.1 99.1 609.7 99.9 608.2 99.4 608 99.1 608.2 98.7 608.3 97.6 608.4 96.1 608.5 94.6 608.5 93.1 608.6 91.6 608.7 90.1 608.8 88.6 608.9 87.1 609 85.6 609.2 84.1 609.5 82.6 609.7 81.5ZM612.7 93.8 612.9 94.6 613.1 96.1 613.3 97.6 613.4 99.1 613.5 100.6 613.5 102.1 613.3 103.6 612.9 105.1 612.7 105.5 611.3 105.1 611.3 103.6 611.4 102.1 611.6 100.6 611.8 99.1 612 97.6 612.2 96.1 612.5 94.6 612.7 93.8ZM611.2 105.3 611.3 106.6 611.3 108.1 611.4 109.6 611.5 111.1 611.6 112.6 612.5 114.1 612.7 114.1 613.1 115.6 613.7 117.1 614.2 117.8 614.2 118.6 614.2 120.1 614.2 121.6 614.2 123.1 614.2 124.6 614.2 126.1 614.2 127.6 614.2 129.1 614.2 130.6 614.2 132.1 614.2 133.6 614.2 135.1 614.2 136.3 613.9 135.1 613.7 133.6 613.5 132.1 613.4 130.6 613.4 129.1 613.4 127.6 613.3 126.1 613.2 124.6 612.9 123.1 612.7 122.3 612.4 121.6 612 120.1 611.8 118.6 611.6 117.1 611.3 115.6 611.2 115.1 611.1 114.1 610.9 112.6 610.9 111.1 611 109.6 611.1 108.1 611.2 106.6 611.2 105.3ZM602.2 120.9 602.5 121.6 602.8 123.1 602.9 124.6 602.9 126.1 602.9 127.6 602.9 129.1 602.8 130.6 602.7 132.1 602.6 133.6 602.5 135.1 602.4 136.6 602.5 138.1 602.7 139.6 602.9 141.1 603.1 142.6 603.3 144.1 603.5 145.6 603.7 147.1 603.7 147.3 604.5 148.6 604.4 150.1 604.2 151.6 603.9 153.1 603.7 153.7 603.5 154.6 603.2 156.1 602.5 157.6 602.2 158.1 600.7 158.8 600 157.6 599.8 156.1 599.8 154.6 599.7 153.1 599.7 151.6 599.7 150.1 599.7 148.6 599.7 147.1 599.7 145.6 599.7 144.1 599.8 142.6 599.9 141.1 600 139.6 600.2 138.1 600.3 136.6 600.3 135.1 600.3 133.6 600.2 132.1 600.2 130.6 600.3 129.1 600.3 127.6 600.6 126.1 600.7 126 601 124.6 601.4 123.1 601.9 121.6 602.2 120.9ZM602.1 141.1 601.5 142.6 601.1 144.1 600.9 145.6 600.7 147.1 600.7 147.7 600.7 148.6 600.7 150.1 600.7 151.6 600.7 151.8 601 153.1 602.2 154.2 602.6 153.1 602.9 151.6 603.1 150.1 603.1 148.6 603 147.1 602.9 145.6 602.7 144.1 602.5 142.6 602.2 141.1 602.2 141 602.1 141.1ZM587.2 121.7 587.4 123.1 587.4 124.6 587.2 126.1 587.2 126.2 587.2 126.1 587 124.6 586.9 123.1 587.2 121.7ZM611.2 124.4 611.3 124.6 611.9 126.1 612 127.6 611.9 129.1 611.7 130.6 611.5 132.1 611.2 133.2 610.3 132.1 610.2 130.6 610.2 129.1 610.4 127.6 610.7 126.1 611.2 124.6 611.2 124.4ZM608.2 127.7 609 129.1 609.2 130.6 609.3 132.1 609.2 133.6 609 135.1 608.9 136.6 608.9 138.1 609 139.6 609.4 141.1 609.7 141.5 610.4 141.1 611.2 140.7 611.3 141.1 611.4 142.6 611.4 144.1 611.4 145.6 611.4 147.1 611.5 148.6 612.5 150.1 612.7 150.2 612.7 150.1 613.5 148.6 614 147.1 614.2 146.4 614.2 147.1 614.2 148.6 614.2 150.1 614.2 151.6 614.2 153.1 614.2 154.6 614.2 156.1 614.2 156.5 613.5 156.1 612.7 155.5 611.9 156.1 611.2 157 611 156.1 610.9 154.6 610.8 153.1 610.5 151.6 609.7 150.7 609.3 151.6 608.8 153.1 608.6 154.6 608.3 156.1 608.2 156.8 608.1 157.6 608 159.1 607.9 160.6 607.8 162.1 607.8 163.6 607 163.6 607 162.1 607 160.6 607 159.1 607 157.6 607 156.1 606.9 154.6 606.7 153.1 606.7 153 606.7 153.1 606.6 154.6 606.4 156.1 606.4 157.6 606.3 159.1 606.3 160.6 606.3 162.1 606.3 163.6 605.4 163.6 605.3 162.1 605.3 160.6 605.2 159.1 605.2 157.6 605.3 156.1 605.5 154.6 605.6 153.1 605.7 151.6 605.7 150.1 605.6 148.6 605.4 147.1 605.4 145.6 606.7 144.2 606.9 144.1 607.7 142.6 607.9 141.1 607.9 139.6 608 138.1 608 136.6 608 135.1 608 133.6 607.9 132.1 607.9 130.6 607.9 129.1 608.2 127.7ZM564.7 157.2 564.7 157.6 564.9 159.1 564.9 160.6 565 162.1 565 163.6 564.7 163.6 564.4 163.6 564.4 162.1 564.5 160.6 564.6 159.1 564.7 157.6 564.7 157.2ZM576.7 159.5 576.9 160.6 577.2 162.1 577.3 163.6 576.7 163.6 575.2 163.6 575 163.6 575.2 162.1 575.2 161.8 576.1 160.6 576.7 159.5Z" fill="#5959ff" fill-rule="evenodd" stroke="#5959ff" stroke-width="0.3"/><path d="M588.7 31.6 588.8 31.6 588.7 33.1 588.7 33.6 588.7 33.1 588.7 31.6 588.7 31.6ZM596.2 31.6 596.9 31.6 596.9 33.1 596.8 34.6 596.7 36.1 596.2 37.5 595.8 36.1 595.6 34.6 595.5 33.1 595.5 31.6 596.2 31.6ZM599.2 31.6 599.2 31.6 599.2 32.6 599.2 33.1 599.2 34.6 599.2 36.1 599.2 37.1 600.7 36.4 600.8 36.1 601 34.6 601.2 33.1 601.2 31.6 601.8 31.6 601.7 33.1 601.6 34.6 601.5 36.1 601.4 37.6 601.2 39.1 601 40.6 600.9 42.1 600.7 43.6 600.7 43.6 600.6 43.6 599.2 43.6 599.2 43.6 598.5 45.1 598.4 46.6 598.4 48.1 598.5 49.6 598.5 51.1 598.5 52.6 598.5 54.1 598.5 55.6 598.7 57.1 598.9 58.6 599.2 59.8 599.7 58.6 600.3 57.1 600.7 56 601 55.6 601.6 54.1 602 52.6 602.2 51.8 602.2 51.1 602.5 49.6 602.7 48.1 603 46.6 603.1 45.1 603.1 43.6 603.1 42.1 603.1 40.6 603 39.1 602.9 37.6 602.9 36.1 602.8 34.6 602.7 33.1 602.7 31.6 603.2 31.6 603.3 33.1 603.4 34.6 603.6 36.1 603.7 36.8 604.3 37.6 604.4 39.1 604.5 40.6 604.5 42.1 604.6 43.6 604.6 45.1 604.7 46.6 604.7 48.1 604.6 49.6 604 51.1 603.7 51.6 603.5 52.6 603.2 54.1 603.1 55.6 603 57.1 602.9 58.6 602.9 60.1 603 61.6 603 63.1 602.9 64.6 602.8 66.1 602.6 67.6 602.4 69.1 602.3 70.6 602.2 71.9 600.7 71.6 600.5 70.6 600.3 69.1 600.2 67.6 600 66.1 599.5 64.6 599.2 64.2 597.7 63.8 597.6 64.6 597.4 66.1 597.1 67.6 596.3 69.1 596.2 69.2 596.1 69.1 595.6 67.6 595.4 66.1 595.2 64.6 594.9 63.1 594.7 62.5 594.5 63.1 594.2 64.6 594 66.1 593.9 67.6 593.9 69.1 594.2 70.6 594.5 72.1 594.7 73.6 594.7 74.9 594.7 75.1 594.7 76.6 594.8 78.1 595 79.6 595.5 81.1 595.7 82.6 595.6 84.1 595.5 85.6 595.4 87.1 595.4 88.6 595.2 90.1 594.7 90.5 594.4 90.1 594 88.6 593.8 87.1 593.7 85.6 593.3 84.1 593.2 83.9 592.9 84.1 591.7 85.4 591.6 85.6 590.9 87.1 590.5 88.6 590.4 90.1 590.4 91.6 590.5 93.1 590.8 94.6 591.7 95.4 592.4 96.1 592.7 97.6 592.7 99.1 592.6 100.6 592.4 102.1 592.2 103.6 592 105.1 591.7 106.3 590.4 106.6 590.2 107 590.2 108.1 590.1 109.6 590.2 111.1 590.2 111.2 590.4 112.6 590.7 114.1 591.2 115.6 591.6 117.1 591.7 117.3 591.8 117.1 592.3 115.6 592.5 114.1 592.8 112.6 593.2 111.7 593.7 112.6 593.8 114.1 593.8 115.6 593.6 117.1 593.4 118.6 593.2 119.7 593 120.1 592.8 121.6 592.8 123.1 592.9 124.6 593 126.1 593.2 127.6 593.2 129.1 593 130.6 592.7 132.1 592.5 133.6 592.5 135.1 592.5 136.6 592.4 138.1 592.3 139.6 592 141.1 591.7 142.1 590.9 141.1 590.7 139.6 590.8 138.1 591 136.6 591.2 135.1 591.3 133.6 591.3 132.1 591.2 130.6 590.9 129.1 590.5 127.6 590.2 127.1 589.8 127.6 589.3 129.1 589.2 130.6 589.2 132.1 589.3 133.6 589.5 135.1 589.7 136.6 589.9 138.1 590 139.6 590.1 141.1 590.1 142.6 590.1 144.1 590 145.6 589.9 147.1 589.8 148.6 589.6 150.1 589.1 151.6 588.7 152.2 588.3 151.6 587.2 150.2 585.8 151.6 585.7 151.7 584.2 153.1 584.2 153.1 583.8 154.6 583.7 156.1 583.7 157.6 583.6 159.1 583.6 160.6 583.6 162.1 583.6 163.6 583 163.6 583 162.1 582.9 160.6 582.8 159.1 582.7 158.1 582.5 157.6 582.2 156.1 582.2 154.6 582.1 153.1 582.1 151.6 582 150.1 581.7 148.6 581.2 147.7 580.9 148.6 580.6 150.1 580.4 151.6 580 153.1 579.7 153.9 578.4 154.6 578.2 155.3 578.1 156.1 578.2 157.6 578.2 157.9 578.3 159.1 578.5 160.6 578.6 162.1 578.7 163.6 578.2 163.6 577.3 163.6 577.2 162.1 576.9 160.6 576.7 159.5 576.1 160.6 575.2 161.8 575.2 162.1 575 163.6 573.9 163.6 573.9 162.1 573.9 160.6 574 159.1 574.1 157.6 574.1 156.1 574.1 154.6 574 153.1 573.8 151.6 573.7 150.9 572.8 151.6 572.8 153.1 572.9 154.6 573.1 156.1 573.3 157.6 573.4 159.1 573.5 160.6 573.5 162.1 573.5 163.6 572.2 163.6 570.7 163.6 569.2 163.6 567.7 163.6 566.2 163.6 565 163.6 565 162.1 564.9 160.6 564.9 159.1 564.7 157.6 564.7 157.2 564.7 157.6 564.6 159.1 564.5 160.6 564.4 162.1 564.4 163.6 563.2 163.6 561.7 163.6 561.1 163.6 561.2 162.1 561.4 160.6 561.6 159.1 561.7 158.5 562.2 159.1 563.1 160.6 563.2 160.9 563.2 160.6 563.4 159.1 563.6 157.6 563.8 156.1 563.9 154.6 564 153.1 564.1 151.6 564.2 150.1 564.2 148.6 564.2 147.1 564.3 145.6 564.6 144.1 564.7 143.7 564.8 144.1 565 145.6 565.2 147.1 565.4 148.6 565.8 150.1 566.2 151.6 566.2 151.8 566.4 153.1 566.6 154.6 567 156.1 567.7 156.7 568 157.6 568.7 159.1 569.2 159.9 570.7 160.6 570.9 159.1 571.1 157.6 571.4 156.1 571.7 154.6 571.9 153.1 572.1 151.6 572.2 150.6 572.5 150.1 572.7 148.6 572.9 147.1 573 145.6 573.2 144.1 573.4 142.6 573.6 141.1 573.7 140.4 574.4 139.6 574.9 138.1 575.2 136.7 575.4 138.1 575.5 139.6 575.6 141.1 575.7 142.6 575.8 144.1 576 145.6 576.3 147.1 576.7 148.1 577 147.1 577.4 145.6 577.6 144.1 577.7 142.6 577.7 141.1 577.7 139.6 577.7 138.1 577.7 136.6 577.7 135.1 577.8 133.6 577.8 132.1 577.9 130.6 577.9 129.1 578 127.6 578.1 126.1 578.2 124.8 578.3 126.1 578.4 127.6 578.4 129.1 578.5 130.6 578.5 132.1 578.6 133.6 578.6 135.1 578.6 136.6 578.7 138.1 578.8 139.6 579 141.1 579.6 142.6 579.7 142.8 579.8 142.6 580.6 141.1 581.1 139.6 581.2 139.4 581.5 138.1 581.6 136.6 581.5 135.1 581.4 133.6 581.2 132.4 581.2 132.1 581 130.6 580.9 129.1 580.8 127.6 580.8 126.1 580.8 124.6 580.7 123.1 580.7 121.6 580.7 120.1 580.7 118.6 580.6 117.1 580.6 115.6 580.6 114.1 580.7 112.6 581.2 111.4 581.4 112.6 581.6 114.1 581.8 115.6 582.1 117.1 582.6 118.6 582.7 119.3 583 120.1 583.5 121.6 584.2 121.9 584.3 121.6 584.6 120.1 584.8 118.6 584.9 117.1 584.9 115.6 585 114.1 585.1 112.6 585.2 111.1 585.6 109.6 585.7 109 586.3 108.1 586.6 106.6 586.7 105.1 586.5 103.6 586.3 102.1 586.1 100.6 586 99.1 586 97.6 586 96.1 586 94.6 586 93.1 586 91.6 585.9 90.1 585.9 88.6 585.9 87.1 586 85.6 586.1 84.1 586.2 82.6 586.3 81.1 586.4 79.6 586.8 78.1 587.2 77.2 588.7 77.3 589.5 78.1 590.2 79.4 590.4 78.1 590.6 76.6 590.6 75.1 590.7 73.6 590.7 72.1 590.6 70.6 590.7 69.1 590.7 67.6 590.7 66.1 590.7 64.6 590.8 63.1 591 61.6 591.7 61 592.1 61.6 592.9 63.1 593.2 63.9 593.4 63.1 593.7 61.6 594 60.1 594.3 58.6 594.6 57.1 594.2 55.6 593.6 54.1 593.3 52.6 593.2 52.2 592.7 51.1 591.7 50 591.6 49.6 591.5 48.1 591.5 46.6 591.6 45.1 591.7 44.2 591.9 43.6 592.3 42.1 592.7 40.6 593.2 39.1 593.2 39 593.3 39.1 594.2 40.6 594.7 41.9 594.8 42.1 595.1 43.6 595.3 45.1 595.4 46.6 595.5 48.1 595.5 49.6 595.5 51.1 595.4 52.6 595.3 54.1 595 55.6 594.9 57.1 595.5 58.6 596 60.1 596.2 61.6 596.2 62.3 596.2 61.6 596.3 60.1 596.4 58.6 596.6 57.1 596.8 55.6 597 54.1 597.1 52.6 597.2 51.1 597.2 49.6 597.2 48.1 597.3 46.6 597.3 45.1 597.4 43.6 597.5 42.1 597.7 40.9 597.8 40.6 598 39.1 598.1 37.6 598.3 36.1 598.4 34.6 598.4 33.1 598.5 31.6 599.2 31.6ZM591.7 66.1 591.6 67.6 591.5 69.1 591.5 70.6 591.6 72.1 591.7 73.6 591.7 73.7 591.7 73.6 592 72.1 592.2 70.6 592.3 69.1 592.1 67.6 591.7 66.1 591.7 66 591.7 66.1ZM593.1 75.1 593.1 76.6 593.2 77.7 593.3 76.6 593.3 75.1 593.2 74.6 593.1 75.1ZM588.7 115.6 588.7 116.9 588.7 115.6 588.7 115.1 588.7 115.6ZM582.7 123.1 582.5 124.6 582.4 126.1 582.4 127.6 582.7 129.1 582.9 127.6 583 126.1 583 124.6 582.8 123.1 582.7 122.9 582.7 123.1ZM586.9 123.1 587 124.6 587.2 126.1 587.2 126.2 587.2 126.1 587.4 124.6 587.4 123.1 587.2 121.7 586.9 123.1ZM585.6 130.6 585.4 132.1 585.3 133.6 585.3 135.1 585.3 136.6 585.4 138.1 585.7 139.5 585.8 139.6 586.4 141.1 586.7 142.6 586.9 144.1 587.2 145 587.4 145.6 588.3 147.1 588.7 147.7 588.8 147.1 589 145.6 589.1 144.1 589.2 142.6 589.1 141.1 589 139.6 588.8 138.1 588.7 137.3 587.2 137.9 586.7 136.6 586.5 135.1 586.3 133.6 586.1 132.1 585.8 130.6 585.7 130.1 585.6 130.6ZM605.2 31.6 605.7 31.6 605.8 33.1 605.9 34.6 606.1 36.1 606.5 37.6 606.7 38.1 607 37.6 607.4 36.1 607.5 34.6 607.6 33.1 607.6 31.6 608.2 31.6 609.7 31.6 610.9 31.6 611.2 33.1 611.2 33.1 611.2 33.1 611.3 31.6 612.6 31.6 612.6 33.1 612.7 34 614.2 34.2 614.2 34.6 614.2 36.1 614.2 37.5 614.2 37.6 614 39.1 614.1 40.6 614.2 41.1 614.2 42.1 614.2 43.6 614.2 45.1 614.2 45.5 614.1 45.1 613.6 43.6 613.2 42.1 612.8 40.6 612.7 39.5 611.2 39.7 611 39.1 610.3 37.6 609.7 36.4 609.3 37.6 609.1 39.1 609.1 40.6 609.2 42.1 609.1 43.6 609 45.1 608.7 46.6 608.3 48.1 608.2 48.3 608.1 48.1 607.8 46.6 607.5 45.1 607.3 43.6 606.9 42.1 606.7 41.7 606.1 40.6 605.6 39.1 605.4 37.6 605.2 36.1 605.2 35.6 604.9 34.6 604.8 33.1 604.8 31.6 605.2 31.6ZM614.2 53.2 614.2 54.1 614.2 55.6 614.2 57.1 614.2 58.6 614.2 58.8 613.3 60.1 612.7 61.3 612.5 60.1 612.4 58.6 612.5 57.1 612.7 56.5 613.3 55.6 613.9 54.1 614.2 53.2ZM590.2 55.6 590.4 57.1 590.5 58.6 590.4 60.1 590.2 60.3 590.2 60.1 590 58.6 590 57.1 590.2 55.6ZM582.7 71.3 584 72.1 584.2 72.2 584.6 73.6 584.8 75.1 584.9 76.6 584.7 78.1 584.2 78.9 583.2 78.1 582.7 77.4 582.4 76.6 582.3 75.1 582.3 73.6 582.5 72.1 582.7 71.3ZM602.2 72.2 602.3 73.6 602.5 75.1 602.5 76.6 602.5 78.1 602.3 79.6 602.2 80.2 602.1 79.6 602 78.1 601.9 76.6 602 75.1 602.1 73.6 602.2 72.2ZM599.2 83.5 600.7 83.2 601.1 84.1 601.2 85.6 601.3 87.1 601.3 88.6 601.2 90.1 601.1 91.6 601 93.1 601 94.6 601 96.1 600.7 97.6 600.7 97.7 600.7 97.6 600.6 96.1 600.6 94.6 600.5 93.1 600.2 91.6 599.6 90.1 599.2 89.2 598.8 88.6 598.7 87.1 598.8 85.6 599.1 84.1 599.2 83.5ZM596.2 90.9 597.7 90.5 598 91.6 598 93.1 598 94.6 597.8 96.1 597.7 96.9 596.2 97.3 595.8 96.1 595.7 94.6 595.6 93.1 595.6 91.6 596.2 90.9ZM578.2 99.7 578.4 100.6 578.6 102.1 578.6 103.6 578.4 105.1 578.2 105.7 578 105.1 577.9 103.6 577.9 102.1 578.1 100.6 578.2 99.7ZM567.7 123.7 567.9 124.6 567.8 126.1 567.7 127.5 567.6 126.1 567.6 124.6 567.7 123.7ZM594.7 128.3 594.8 129.1 594.9 130.6 594.7 132.1 593.6 130.6 593.2 129.1 594.7 128.3ZM597.7 130.4 597.7 130.6 597.9 132.1 598.1 133.6 598.2 135.1 598.2 136.6 598.2 138.1 598.1 139.6 598 141.1 597.9 142.6 597.8 144.1 597.8 145.6 597.7 147.1 597.7 147.3 597.6 147.1 596.5 145.6 596.2 145.5 596.1 145.6 595.7 147.1 595.5 148.6 595.6 150.1 595.7 151.6 595.7 153.1 595.8 154.6 595.8 156.1 595.6 157.6 595.2 159.1 594.7 160.3 594.3 159.1 593.9 157.6 593.7 156.1 593.6 154.6 593.5 153.1 593.4 151.6 593.3 150.1 593.5 148.6 593.7 147.1 594 145.6 594.2 144.1 594.4 142.6 594.6 141.1 594.7 140.8 595.2 139.6 595.5 138.1 595.8 136.6 596.2 135.2 596.2 135.1 596.7 133.6 597.1 132.1 597.6 130.6 597.7 130.4ZM594.6 153.1 594.6 154.6 594.7 156 594.8 154.6 594.7 153.1 594.7 152.7 594.6 153.1ZM546.7 139.1 546.8 139.6 546.9 141.1 546.7 142.6 546.7 142.9 546.7 142.6 546.6 141.1 546.7 139.6 546.7 139.1ZM567.7 138.9 568 139.6 568.3 141.1 568.4 142.6 568.3 144.1 568.1 145.6 567.9 147.1 567.7 148.6 567.7 148.6 567.7 148.6 567.3 147.1 567.2 145.6 567.2 144.1 567.3 142.6 567.4 141.1 567.6 139.6 567.7 138.9ZM602.2 141 602.2 141.1 602.5 142.6 602.7 144.1 602.9 145.6 603 147.1 603.1 148.6 603.1 150.1 602.9 151.6 602.6 153.1 602.2 154.2 601 153.1 600.7 151.8 600.7 151.6 600.7 150.1 600.7 148.6 600.7 147.7 600.7 147.1 600.9 145.6 601.1 144.1 601.5 142.6 602.1 141.1 602.2 141ZM602 145.6 601.9 147.1 601.9 148.6 602.2 150 602.3 148.6 602.4 147.1 602.3 145.6 602.2 144.7 602 145.6ZM606.7 153 606.7 153.1 606.9 154.6 607 156.1 607 157.6 607 159.1 607 160.6 607 162.1 607 163.6 606.7 163.6 606.3 163.6 606.3 162.1 606.3 160.6 606.3 159.1 606.4 157.6 606.4 156.1 606.6 154.6 606.7 153.1 606.7 153ZM494.2 155.8 494.3 156.1 494.6 157.6 494.8 159.1 494.9 160.6 495 162.1 495 163.6 494.2 163.6 492.7 163.6 492.6 163.6 492.7 162.3 492.7 162.1 492.8 160.6 492.9 159.1 493 157.6 493.5 156.1 494.2 155.8ZM497.2 157 497.3 157.6 497.7 159.1 498.1 160.6 498.7 162.1 498.7 162.2 498.8 162.1 499.7 160.6 500.2 159.4 500.4 160.6 500.5 162.1 500.6 163.6 500.2 163.6 498.7 163.6 497.2 163.6 496.6 163.6 496.6 162.1 496.6 160.6 496.8 159.1 497 157.6 497.2 157ZM588.7 159 588.8 159.1 589.5 160.6 589.9 162.1 590 163.6 588.7 163.6 588.3 163.6 588.3 162.1 588.4 160.6 588.7 159.1 588.7 159ZM546.7 160.1 546.8 160.6 546.9 162.1 547 163.6 546.7 163.6 546.4 163.6 546.5 162.1 546.6 160.6 546.7 160.1ZM510.7 162.8 511 163.6 510.7 163.6 510.2 163.6 510.7 162.8Z" fill="#7373ff" fill-rule="evenodd" stroke="#7373ff" stroke-width="0.3"/><path d="M584.2 31.6 585.7 31.6 585.7 31.6 585.7 31.9 585.4 33.1 584.9 34.6 584.5 36.1 584.3 37.6 584.2 37.9 584.2 37.6 584 36.1 583.9 34.6 583.8 33.1 583.8 31.6 584.2 31.6ZM588.7 33.1 588.7 33.6 588.7 33.1 588.8 31.6 589.6 31.6 589.7 33.1 589.9 34.6 590.2 35.7 590.9 34.6 591.1 33.1 591.2 31.6 591.7 31.6 592.4 31.6 592.6 33.1 593.2 34.3 594.5 33.1 594.7 31.8 594.7 31.6 595.5 31.6 595.5 33.1 595.6 34.6 595.8 36.1 596.2 37.5 596.7 36.1 596.8 34.6 596.9 33.1 596.9 31.6 597.7 31.6 597.7 32.2 597.7 31.6 598.5 31.6 598.4 33.1 598.4 34.6 598.3 36.1 598.1 37.6 598 39.1 597.8 40.6 597.7 40.9 597.5 42.1 597.4 43.6 597.3 45.1 597.3 46.6 597.2 48.1 597.2 49.6 597.2 51.1 597.1 52.6 597 54.1 596.8 55.6 596.6 57.1 596.4 58.6 596.3 60.1 596.2 61.6 596.2 62.3 596.2 61.6 596 60.1 595.5 58.6 594.9 57.1 595 55.6 595.3 54.1 595.4 52.6 595.5 51.1 595.5 49.6 595.5 48.1 595.4 46.6 595.3 45.1 595.1 43.6 594.8 42.1 594.7 41.9 594.2 40.6 593.3 39.1 593.2 39 593.2 39.1 592.7 40.6 592.3 42.1 591.9 43.6 591.7 44.2 591.6 45.1 591.5 46.6 591.5 48.1 591.6 49.6 591.7 50 592.7 51.1 593.2 52.2 593.3 52.6 593.6 54.1 594.2 55.6 594.6 57.1 594.3 58.6 594 60.1 593.7 61.6 593.4 63.1 593.2 63.9 592.9 63.1 592.1 61.6 591.7 61 591 61.6 590.8 63.1 590.7 64.6 590.7 66.1 590.7 67.6 590.7 69.1 590.6 70.6 590.7 72.1 590.7 73.6 590.6 75.1 590.6 76.6 590.4 78.1 590.2 79.4 589.5 78.1 588.7 77.3 587.2 77.2 586.8 78.1 586.4 79.6 586.3 81.1 586.2 82.6 586.1 84.1 586 85.6 585.9 87.1 585.9 88.6 585.9 90.1 586 91.6 586 93.1 586 94.6 586 96.1 586 97.6 586 99.1 586.1 100.6 586.3 102.1 586.5 103.6 586.7 105.1 586.6 106.6 586.3 108.1 585.7 109 585.6 109.6 585.2 111.1 585.1 112.6 585 114.1 584.9 115.6 584.9 117.1 584.8 118.6 584.6 120.1 584.3 121.6 584.2 121.9 583.5 121.6 583 120.1 582.7 119.3 582.6 118.6 582.1 117.1 581.8 115.6 581.6 114.1 581.4 112.6 581.2 111.4 580.7 112.6 580.6 114.1 580.6 115.6 580.6 117.1 580.7 118.6 580.7 120.1 580.7 121.6 580.7 123.1 580.8 124.6 580.8 126.1 580.8 127.6 580.9 129.1 581 130.6 581.2 132.1 581.2 132.4 581.4 133.6 581.5 135.1 581.6 136.6 581.5 138.1 581.2 139.4 581.1 139.6 580.6 141.1 579.8 142.6 579.7 142.8 579.6 142.6 579 141.1 578.8 139.6 578.7 138.1 578.6 136.6 578.6 135.1 578.6 133.6 578.5 132.1 578.5 130.6 578.4 129.1 578.4 127.6 578.3 126.1 578.2 124.8 578.1 126.1 578 127.6 577.9 129.1 577.9 130.6 577.8 132.1 577.8 133.6 577.7 135.1 577.7 136.6 577.7 138.1 577.7 139.6 577.7 141.1 577.7 142.6 577.6 144.1 577.4 145.6 577 147.1 576.7 148.1 576.3 147.1 576 145.6 575.8 144.1 575.7 142.6 575.6 141.1 575.5 139.6 575.4 138.1 575.2 136.7 574.9 138.1 574.4 139.6 573.7 140.4 573.6 141.1 573.4 142.6 573.2 144.1 573 145.6 572.9 147.1 572.7 148.6 572.5 150.1 572.2 150.6 572.1 151.6 571.9 153.1 571.7 154.6 571.4 156.1 571.1 157.6 570.9 159.1 570.7 160.6 569.2 159.9 568.7 159.1 568 157.6 567.7 156.7 567 156.1 566.6 154.6 566.4 153.1 566.2 151.8 566.2 151.6 565.8 150.1 565.4 148.6 565.2 147.1 565 145.6 564.8 144.1 564.7 143.7 564.6 144.1 564.3 145.6 564.2 147.1 564.2 148.6 564.2 150.1 564.1 151.6 564 153.1 563.9 154.6 563.8 156.1 563.6 157.6 563.4 159.1 563.2 160.6 563.2 160.9 563.1 160.6 562.2 159.1 561.7 158.5 561.6 159.1 561.4 160.6 561.2 162.1 561.1 163.6 560.4 163.6 560.4 162.1 560.5 160.6 560.6 159.1 560.7 157.6 560.8 156.1 560.7 154.6 560.6 153.1 560.4 151.6 560.2 150.6 559.4 150.1 558.8 148.6 558.7 148.2 558.1 147.1 557.6 145.6 557.5 144.1 557.5 142.6 557.6 141.1 557.7 139.6 557.9 138.1 558.1 136.6 558.4 135.1 558.7 133.9 558.9 135.1 559.1 136.6 559.3 138.1 559.6 139.6 559.8 141.1 560.2 142.4 560.7 141.1 561.4 139.6 561.7 139.1 562.5 138.1 563.2 136.9 564.7 137.3 565.5 136.6 565.6 135.1 565.6 133.6 565.5 132.1 565.2 130.6 564.8 129.1 564.7 128.2 564.7 127.6 564.7 127.4 565.2 126.1 566.2 124.8 566.2 124.6 566.5 123.1 566.7 121.6 567 120.1 567.3 118.6 567.7 117.6 568.1 117.1 569.2 115.7 569.6 117.1 569.9 118.6 570.2 120.1 570.5 121.6 570.7 122.7 570.8 123.1 571.4 124.6 571.9 126.1 572.2 127.6 572.3 126.1 572.5 124.6 572.8 123.1 573 121.6 573.3 120.1 573.6 118.6 573.7 118.1 573.9 117.1 574.2 115.6 574.5 114.1 574.8 112.6 575.1 111.1 575.2 110.4 575.3 109.6 575.4 108.1 575.4 106.6 575.4 105.1 575.4 103.6 575.2 102.7 575.2 102.1 575.1 100.6 575.1 99.1 575.1 97.6 575.2 97.1 575.6 97.6 575.8 99.1 576 100.6 576.7 101.4 576.8 100.6 576.9 99.1 577 97.6 577.1 96.1 578 94.6 578.2 94.5 578.3 94.6 579.3 96.1 579.7 97.5 579.9 97.6 580.6 99.1 580.7 100.6 580.8 102.1 580.9 103.6 581.2 105 581.9 103.6 581.8 102.1 581.6 100.6 581.5 99.1 581.3 97.6 581.3 96.1 581.3 94.6 581.3 93.1 581.5 91.6 581.8 90.1 582.2 88.6 582.5 87.1 582 85.6 581.2 84.5 581 84.1 580.7 82.6 580.5 81.1 580.4 79.6 580.3 78.1 580.3 76.6 580.4 75.1 580.8 73.6 581.2 72.7 581.3 72.1 581.7 70.6 582 69.1 582.3 67.6 582.7 66.4 583.2 66.1 583.8 64.6 583.8 63.1 583.9 61.6 584.1 60.1 584.2 59.3 584.7 60.1 585.1 61.6 585.1 63.1 585 64.6 585 66.1 585.3 67.6 585.6 69.1 585.7 69.8 586.9 70.6 587.2 70.7 587.2 70.6 587.4 69.1 587.2 67.7 587.1 67.6 586.2 66.1 586 64.6 585.9 63.1 585.9 61.6 585.9 60.1 586 58.6 586.1 57.1 586.4 55.6 586.7 54.1 586.9 52.6 587.2 51.1 587.2 51 587.7 49.6 588 48.1 588.3 46.6 588.4 45.1 588.5 43.6 588.3 42.1 588.1 40.6 588 39.1 588 37.6 588 36.1 588 34.6 588 33.1 588 31.6 588.7 31.6 588.7 33.1ZM589.4 43.6 589.1 45.1 589.2 46.6 589.5 48.1 590.2 49.6 590.2 49.6 590.2 49.6 590.4 48.1 590.5 46.6 590.5 45.1 590.4 43.6 590.2 42.8 589.4 43.6ZM590 57.1 590 58.6 590.2 60.1 590.2 60.3 590.4 60.1 590.5 58.6 590.4 57.1 590.2 55.6 590 57.1ZM582.5 72.1 582.3 73.6 582.3 75.1 582.4 76.6 582.7 77.4 583.2 78.1 584.2 78.9 584.7 78.1 584.9 76.6 584.8 75.1 584.6 73.6 584.2 72.2 584 72.1 582.7 71.3 582.5 72.1ZM583.5 84.1 583 85.6 582.8 87.1 583.2 88.6 584.2 90 584.5 88.6 584.6 87.1 584.6 85.6 584.5 84.1 584.2 83.1 583.5 84.1ZM578.1 100.6 577.9 102.1 577.9 103.6 578 105.1 578.2 105.7 578.4 105.1 578.6 103.6 578.6 102.1 578.4 100.6 578.2 99.7 578.1 100.6ZM582.1 106.6 582.1 108.1 582.2 109.6 582.3 111.1 582.4 112.6 582.7 114 583.3 112.6 583.5 111.1 583.6 109.6 583.7 108.1 583.7 106.6 582.7 105.1 582.1 106.6ZM579.7 118.6 579.2 120.1 579.1 121.6 579.1 123.1 579.2 124.6 579.2 126.1 579.3 127.6 579.3 129.1 579.4 130.6 579.5 132.1 579.5 133.6 579.7 135.1 579.7 135.5 579.8 135.1 579.9 133.6 580 132.1 580 130.6 580.1 129.1 580.1 127.6 580.1 126.1 580.1 124.6 580.1 123.1 580 121.6 579.9 120.1 579.7 118.6 579.7 118.6 579.7 118.6ZM567.6 124.6 567.6 126.1 567.7 127.5 567.8 126.1 567.9 124.6 567.7 123.7 567.6 124.6ZM576.5 126.1 575.6 127.6 575.7 129.1 576 130.6 576.3 132.1 576.6 133.6 576.7 133.9 576.7 133.6 576.9 132.1 577 130.6 577 129.1 576.9 127.6 576.7 126.1 576.7 126 576.5 126.1ZM569.1 129.1 568.9 130.6 568.9 132.1 569.1 133.6 569.2 133.9 569.4 133.6 569.6 132.1 569.6 130.6 569.4 129.1 569.2 128.5 569.1 129.1ZM572.2 129.1 572 130.6 571.7 132.1 571.5 133.6 571.2 135.1 570.9 136.6 570.8 138.1 570.9 139.6 571.1 141.1 571.7 142.6 572.2 142.9 572.3 142.6 572.4 141.1 572.5 139.6 572.7 138.1 572.9 136.6 573.2 135.1 573.5 133.6 573.4 132.1 572.7 130.6 572.3 129.1 572.2 127.6 572.2 129.1ZM567.6 139.6 567.4 141.1 567.3 142.6 567.2 144.1 567.2 145.6 567.3 147.1 567.7 148.6 567.7 148.6 567.7 148.6 567.9 147.1 568.1 145.6 568.3 144.1 568.4 142.6 568.3 141.1 568 139.6 567.7 138.9 567.6 139.6ZM569 148.6 568.8 150.1 568.7 151.6 568.7 153.1 568.9 154.6 569.2 155.6 569.6 154.6 569.9 153.1 570 151.6 570 150.1 569.8 148.6 569.2 147.6 569 148.6ZM602.2 31.6 602.7 31.6 602.7 33.1 602.8 34.6 602.9 36.1 602.9 37.6 603 39.1 603.1 40.6 603.1 42.1 603.1 43.6 603.1 45.1 603 46.6 602.7 48.1 602.5 49.6 602.2 51.1 602.2 51.8 602 52.6 601.6 54.1 601 55.6 600.7 56 600.3 57.1 599.7 58.6 599.2 59.8 598.9 58.6 598.7 57.1 598.5 55.6 598.5 54.1 598.5 52.6 598.5 51.1 598.5 49.6 598.4 48.1 598.4 46.6 598.5 45.1 599.2 43.6 599.2 43.6 600.6 43.6 600.7 43.6 600.7 43.6 600.9 42.1 601 40.6 601.2 39.1 601.4 37.6 601.5 36.1 601.6 34.6 601.7 33.1 601.8 31.6 602.2 31.6ZM606.5 33.1 606.7 34.6 606.7 34.7 606.7 34.6 606.9 33.1 607 31.6 607.6 31.6 607.6 33.1 607.5 34.6 607.4 36.1 607 37.6 606.7 38.1 606.5 37.6 606.1 36.1 605.9 34.6 605.8 33.1 605.7 31.6 606.4 31.6 606.5 33.1ZM611.2 31.6 611.3 31.6 611.2 33.1 611.2 33.1 611.2 33.1 610.9 31.6 611.2 31.6ZM614.2 37.5 614.2 37.6 614.2 39.1 614.2 40.6 614.2 41.1 614.1 40.6 614 39.1 614.2 37.6 614.2 37.5ZM576.7 56.2 577 57.1 577.5 58.6 577.7 60.1 577.8 61.6 577.7 63.1 577.6 64.6 577.6 66.1 577.6 67.6 577.6 69.1 577.8 70.6 578.2 71.6 578.4 72.1 578.7 73.6 579 75.1 579 76.6 578.9 78.1 578.4 79.6 578.2 80 578.1 79.6 577.6 78.1 577.4 76.6 577.3 75.1 577.1 73.6 576.7 73 576.5 72.1 576.2 70.6 576.1 69.1 576 67.6 575.9 66.1 575.9 64.6 576 63.1 576.1 61.6 576.3 60.1 576.4 58.6 576.6 57.1 576.7 56.2ZM581.2 58.1 581.4 58.6 581.6 60.1 581.7 61.6 581.4 63.1 581.2 63.4 579.9 64.6 579.7 64.8 579.6 64.6 579.1 63.1 578.8 61.6 578.9 60.1 579.7 58.9 580.4 58.6 581.2 58.1ZM593.2 74.6 593.3 75.1 593.3 76.6 593.2 77.7 593.1 76.6 593.1 75.1 593.2 74.6ZM569.2 106.1 569.2 106.6 569.2 107.7 569.1 106.6 569.2 106.1ZM489.7 111 489.7 111.1 490 112.6 490.3 114.1 490.5 115.6 490.7 117.1 490.8 118.6 490.5 120.1 489.8 121.6 489.7 121.7 489.5 121.6 488.7 120.1 488.7 118.6 488.9 117.1 489 115.6 489.2 114.1 489.4 112.6 489.7 111.1 489.7 111ZM484 115.6 484.1 117.1 484.2 118.6 484.2 120.1 484.2 121.6 484.3 123.1 484.3 124.6 484.6 126.1 485.2 127.3 485.9 126.1 486.7 125 487 126.1 487.2 127.6 487.2 129.1 487.2 130.6 487.3 132.1 487.3 133.6 487.4 135.1 487.5 136.6 487.6 138.1 487.7 139.6 487.6 141.1 487.4 142.6 487.2 144.1 487.1 145.6 487 147.1 486.8 148.6 486.7 149.7 486.5 150.1 486.4 151.6 486.4 153.1 486.7 154.6 486.7 154.8 486.9 154.6 488.2 154.3 488.4 154.6 488.8 156.1 488.9 157.6 489 159.1 489.1 160.6 489.5 162.1 489.7 162.6 489.7 162.1 489.9 160.6 490 159.1 490 157.6 490 156.1 490 154.6 490 153.1 490 151.6 490.1 150.1 490.2 148.6 490.4 147.1 490.7 145.6 491.1 144.1 491.2 143.7 492 142.6 492.6 141.1 492.7 140.9 494.2 140.3 494.9 139.6 495 138.1 495.1 136.6 495.2 135.1 495.5 133.6 495.7 133 496.8 132.1 497.2 131 497.4 132.1 497.6 133.6 497.9 135.1 498.3 136.6 498.7 137.7 499.1 136.6 499.5 135.1 499.9 133.6 500.2 132.8 500.4 133.6 500.7 135.1 501 136.6 501.1 138.1 501.1 139.6 501 141.1 500.8 142.6 500.6 144.1 500.4 145.6 500.2 147.1 500.2 147.3 499.6 148.6 498.7 149.1 498.4 150.1 498.2 151.6 498.1 153.1 498.3 154.6 498.6 156.1 498.7 156.7 498.9 156.1 499.3 154.6 499.6 153.1 499.9 151.6 500.2 150.5 500.4 151.6 500.9 153.1 501.5 154.6 501.7 155.8 501.8 156.1 501.7 157.6 501.7 157.7 501.6 159.1 501.5 160.6 501.5 162.1 501.5 163.6 500.6 163.6 500.5 162.1 500.4 160.6 500.2 159.4 499.7 160.6 498.8 162.1 498.7 162.2 498.7 162.1 498.1 160.6 497.7 159.1 497.3 157.6 497.2 157 497 157.6 496.8 159.1 496.6 160.6 496.6 162.1 496.6 163.6 495.7 163.6 495 163.6 495 162.1 494.9 160.6 494.8 159.1 494.6 157.6 494.3 156.1 494.2 155.8 493.5 156.1 493 157.6 492.9 159.1 492.8 160.6 492.7 162.1 492.7 162.3 492.6 163.6 491.2 163.6 489.7 163.6 488.2 163.6 487.4 163.6 487.1 162.1 486.7 161.2 486.5 162.1 486.4 163.6 485.2 163.6 483.7 163.6 483.7 162.1 483.7 160.6 483.7 159.1 483.7 157.6 483.7 156.1 483.7 154.6 483.7 153.1 483.7 151.6 483.7 150.1 483.7 148.6 483.7 147.1 483.7 145.6 483.7 144.1 483.7 142.6 483.7 141.1 483.7 139.6 483.7 138.1 483.7 136.6 483.7 135.1 483.7 133.6 483.7 132.1 483.7 130.6 483.7 129.1 483.7 127.6 483.7 126.1 483.7 124.6 483.7 123.1 483.7 121.6 483.7 120.1 483.7 118.6 483.7 117.1 483.7 115.6 483.7 114.3 484 115.6ZM495.1 141.1 495 142.6 495 144.1 495.1 145.6 495.1 147.1 495.3 148.6 495.5 150.1 495.7 151.2 495.8 150.1 495.9 148.6 495.9 147.1 495.9 145.6 495.9 144.1 495.9 142.6 495.8 141.1 495.7 140.5 495.1 141.1ZM485 144.1 484.9 145.6 485 147.1 485.2 148.5 485.7 147.1 485.6 145.6 485.4 144.1 485.2 142.9 485 144.1ZM588.7 115.1 588.7 115.6 588.7 116.9 588.7 115.6 588.7 115.1ZM558.7 122.9 558.7 123.1 558.9 124.6 558.9 126.1 558.8 127.6 558.7 128.9 558.5 127.6 558.5 126.1 558.5 124.6 558.7 123.1 558.7 122.9ZM582.7 122.9 582.8 123.1 583 124.6 583 126.1 582.9 127.6 582.7 129.1 582.4 127.6 582.4 126.1 582.5 124.6 582.7 123.1 582.7 122.9ZM585.7 130.1 585.8 130.6 586.1 132.1 586.3 133.6 586.5 135.1 586.7 136.6 587.2 137.9 588.7 137.3 588.8 138.1 589 139.6 589.1 141.1 589.2 142.6 589.1 144.1 589 145.6 588.8 147.1 588.7 147.7 588.3 147.1 587.4 145.6 587.2 145 586.9 144.1 586.7 142.6 586.4 141.1 585.8 139.6 585.7 139.5 585.4 138.1 585.3 136.6 585.3 135.1 585.3 133.6 585.4 132.1 585.6 130.6 585.7 130.1ZM552.7 133.6 552.7 133.6 553.3 135.1 553.6 136.6 553.8 138.1 554.1 139.6 554.2 139.9 554.4 141.1 554.5 142.6 554.5 144.1 554.3 145.6 554.2 146.6 553.4 145.6 552.7 144.5 552.3 145.6 552.3 147.1 552.4 148.6 552.4 150.1 552.4 151.6 552.3 153.1 552.1 154.6 551.9 156.1 551.8 157.6 551.8 159.1 551.8 160.6 551.8 162.1 551.8 163.6 551.2 163.6 550.9 163.6 550.9 162.1 550.9 160.6 550.8 159.1 550.8 157.6 550.7 156.1 550.5 154.6 550.1 153.1 549.7 152.2 549.3 153.1 548.7 154.6 548.2 156.1 548.2 156.3 548 157.6 548 159.1 548.1 160.6 548.2 162.1 548.2 162.8 548.2 163.6 548.2 163.6 547 163.6 546.9 162.1 546.8 160.6 546.7 160.1 546.6 160.6 546.5 162.1 546.4 163.6 545.4 163.6 545.4 162.1 545.5 160.6 545.6 159.1 545.7 157.6 545.7 156.1 545.7 154.6 545.6 153.1 545.6 151.6 545.7 150.1 545.7 148.6 545.8 147.1 545.8 145.6 545.8 144.1 545.8 142.6 545.8 141.1 545.8 139.6 546 138.1 546.1 136.6 546.4 135.1 546.7 134.2 547.5 135.1 548.1 136.6 548.2 137.1 548.8 138.1 549.6 139.6 549.7 140 550 141.1 550.3 142.6 551.2 144 551.8 142.6 551.8 141.1 551.8 139.6 551.8 138.1 551.9 136.6 552.1 135.1 552.7 133.6 552.7 133.6ZM546.7 139.6 546.6 141.1 546.7 142.6 546.7 142.9 546.7 142.6 546.9 141.1 546.8 139.6 546.7 139.1 546.7 139.6ZM503.2 135.9 504.7 136.5 504.7 136.6 504.8 138.1 504.7 138.7 504.2 138.1 503.2 136.9 503.1 136.6 503.2 135.9ZM602.2 144.7 602.3 145.6 602.4 147.1 602.3 148.6 602.2 150 601.9 148.6 601.9 147.1 602 145.6 602.2 144.7ZM581.2 147.7 581.7 148.6 582 150.1 582.1 151.6 582.1 153.1 582.2 154.6 582.2 156.1 582.5 157.6 582.7 158.1 582.8 159.1 582.9 160.6 583 162.1 583 163.6 582.7 163.6 581.2 163.6 579.8 163.6 579.8 162.1 579.8 160.6 579.7 159.9 579.6 160.6 579.6 162.1 579.6 163.6 578.7 163.6 578.6 162.1 578.5 160.6 578.3 159.1 578.2 157.9 578.2 157.6 578.1 156.1 578.2 155.3 578.4 154.6 579.7 153.9 580 153.1 580.4 151.6 580.6 150.1 580.9 148.6 581.2 147.7ZM557.2 150.1 558.3 151.6 558.7 152.8 558.8 153.1 559 154.6 559.1 156.1 559.2 157.6 559.2 159.1 559.2 160.6 559.1 162.1 558.9 163.6 558.7 163.6 557.2 163.6 556.1 163.6 555.9 162.1 555.7 161 555.5 160.6 555.2 159.1 555.1 157.6 555.2 156.1 555.5 154.6 555.7 154 556.2 153.1 556.9 151.6 557.2 150.1ZM573.7 150.9 573.8 151.6 574 153.1 574.1 154.6 574.1 156.1 574.1 157.6 574 159.1 573.9 160.6 573.9 162.1 573.9 163.6 573.7 163.6 573.5 163.6 573.5 162.1 573.5 160.6 573.4 159.1 573.3 157.6 573.1 156.1 572.9 154.6 572.8 153.1 572.8 151.6 573.7 150.9ZM594.7 152.7 594.7 153.1 594.8 154.6 594.7 156 594.6 154.6 594.6 153.1 594.7 152.7ZM540.7 154.3 540.9 154.6 541.6 156.1 542.1 157.6 542.2 157.9 542.9 157.6 543.7 157.2 543.9 157.6 544.4 159.1 544.6 160.6 544.8 162.1 544.9 163.6 543.7 163.6 542.2 163.6 540.7 163.6 539.2 163.6 537.7 163.6 536.8 163.6 536.8 162.1 536.7 160.6 536.6 159.1 536.2 157.7 536.2 157.6 536.2 157.4 536.3 157.6 537.7 158 538.1 157.6 539.2 156.3 539.4 156.1 540.5 154.6 540.7 154.3ZM509.2 156 509.2 156.1 509.7 157.6 510.6 159.1 510.7 159.2 511 159.1 512.2 158.3 512.5 159.1 513.6 160.6 513.7 160.8 514 162.1 514.1 163.6 513.7 163.6 512.2 163.6 511 163.6 510.7 162.8 510.2 163.6 509.2 163.6 507.7 163.6 506.2 163.6 505.8 163.6 505.8 162.1 505.9 160.6 506.1 159.1 506.2 158.9 506.5 159.1 507.7 159.8 508.1 159.1 508.7 157.6 509.2 156.1 509.2 156Z" fill="#8c8cff" fill-rule="evenodd" stroke="#8c8cff" stroke-width="0.3"/><path d="M579.7 31.6 580.3 31.6 580.2 33.1 580.1 34.6 579.8 36.1 579.7 36.3 579.7 36.1 579.5 34.6 579.3 33.1 579.3 31.6 579.7 31.6ZM582.7 31.6 583.8 31.6 583.8 33.1 583.9 34.6 584 36.1 584.2 37.6 584.2 37.9 584.3 37.6 584.5 36.1 584.9 34.6 585.4 33.1 585.7 31.9 585.7 31.6 587 31.6 587.1 33.1 587.2 34.6 587.2 34.8 587.2 34.6 587.3 33.1 587.3 31.6 588 31.6 588 33.1 588 34.6 588 36.1 588 37.6 588 39.1 588.1 40.6 588.3 42.1 588.5 43.6 588.4 45.1 588.3 46.6 588 48.1 587.7 49.6 587.2 51 587.2 51.1 586.9 52.6 586.7 54.1 586.4 55.6 586.1 57.1 586 58.6 585.9 60.1 585.9 61.6 585.9 63.1 586 64.6 586.2 66.1 587.1 67.6 587.2 67.7 587.4 69.1 587.2 70.6 587.2 70.7 586.9 70.6 585.7 69.8 585.6 69.1 585.3 67.6 585 66.1 585 64.6 585.1 63.1 585.1 61.6 584.7 60.1 584.2 59.3 584.1 60.1 583.9 61.6 583.8 63.1 583.8 64.6 583.2 66.1 582.7 66.4 582.3 67.6 582 69.1 581.7 70.6 581.3 72.1 581.2 72.7 580.8 73.6 580.4 75.1 580.3 76.6 580.3 78.1 580.4 79.6 580.5 81.1 580.7 82.6 581 84.1 581.2 84.5 582 85.6 582.5 87.1 582.2 88.6 581.8 90.1 581.5 91.6 581.3 93.1 581.3 94.6 581.3 96.1 581.3 97.6 581.5 99.1 581.6 100.6 581.8 102.1 581.9 103.6 581.2 105 580.9 103.6 580.8 102.1 580.7 100.6 580.6 99.1 579.9 97.6 579.7 97.5 579.3 96.1 578.3 94.6 578.2 94.5 578 94.6 577.1 96.1 577 97.6 576.9 99.1 576.8 100.6 576.7 101.4 576 100.6 575.8 99.1 575.6 97.6 575.2 97.1 575.1 97.6 575.1 99.1 575.1 100.6 575.2 102.1 575.2 102.7 575.4 103.6 575.4 105.1 575.4 106.6 575.4 108.1 575.3 109.6 575.2 110.4 575.1 111.1 574.8 112.6 574.5 114.1 574.2 115.6 573.9 117.1 573.7 118.1 573.6 118.6 573.3 120.1 573 121.6 572.8 123.1 572.5 124.6 572.3 126.1 572.2 127.6 571.9 126.1 571.4 124.6 570.8 123.1 570.7 122.7 570.5 121.6 570.2 120.1 569.9 118.6 569.6 117.1 569.2 115.7 568.1 117.1 567.7 117.6 567.3 118.6 567 120.1 566.7 121.6 566.5 123.1 566.2 124.6 566.2 124.8 565.2 126.1 564.7 127.4 564.7 127.6 564.7 128.2 564.8 129.1 565.2 130.6 565.5 132.1 565.6 133.6 565.6 135.1 565.5 136.6 564.7 137.3 563.2 136.9 562.5 138.1 561.7 139.1 561.4 139.6 560.7 141.1 560.2 142.4 559.8 141.1 559.6 139.6 559.3 138.1 559.1 136.6 558.9 135.1 558.7 133.9 558.4 135.1 558.1 136.6 557.9 138.1 557.7 139.6 557.6 141.1 557.5 142.6 557.5 144.1 557.6 145.6 558.1 147.1 558.7 148.2 558.8 148.6 559.4 150.1 560.2 150.6 560.4 151.6 560.6 153.1 560.7 154.6 560.8 156.1 560.7 157.6 560.6 159.1 560.5 160.6 560.4 162.1 560.4 163.6 560.2 163.6 558.9 163.6 559.1 162.1 559.2 160.6 559.2 159.1 559.2 157.6 559.1 156.1 559 154.6 558.8 153.1 558.7 152.8 558.3 151.6 557.2 150.1 556.9 151.6 556.2 153.1 555.7 154 555.5 154.6 555.2 156.1 555.1 157.6 555.2 159.1 555.5 160.6 555.7 161 555.9 162.1 556.1 163.6 555.7 163.6 554.2 163.6 552.7 163.6 551.8 163.6 551.8 162.1 551.8 160.6 551.8 159.1 551.8 157.6 551.9 156.1 552.1 154.6 552.3 153.1 552.4 151.6 552.4 150.1 552.4 148.6 552.3 147.1 552.3 145.6 552.7 144.5 553.4 145.6 554.2 146.6 554.3 145.6 554.5 144.1 554.5 142.6 554.4 141.1 554.2 139.9 554.1 139.6 553.8 138.1 553.6 136.6 553.3 135.1 552.7 133.6 552.7 133.6 552.7 133.6 552.1 135.1 551.9 136.6 551.8 138.1 551.8 139.6 551.8 141.1 551.8 142.6 551.2 144 550.3 142.6 550 141.1 549.7 140 549.6 139.6 548.8 138.1 548.2 137.1 548.1 136.6 547.5 135.1 546.7 134.2 546.4 135.1 546.1 136.6 546 138.1 545.8 139.6 545.8 141.1 545.8 142.6 545.8 144.1 545.8 145.6 545.8 147.1 545.7 148.6 545.7 150.1 545.6 151.6 545.6 153.1 545.7 154.6 545.7 156.1 545.7 157.6 545.6 159.1 545.5 160.6 545.4 162.1 545.4 163.6 545.2 163.6 544.9 163.6 544.8 162.1 544.6 160.6 544.4 159.1 543.9 157.6 543.7 157.2 542.9 157.6 542.2 157.9 542.1 157.6 541.6 156.1 540.9 154.6 540.7 154.3 540.5 154.6 539.4 156.1 539.2 156.3 538.1 157.6 537.7 158 536.3 157.6 536.2 157.4 536.2 157.6 536.2 157.7 536.6 159.1 536.7 160.6 536.8 162.1 536.8 163.6 536.2 163.6 535.3 163.6 535.1 162.1 535 160.6 534.9 159.1 534.9 157.6 535 156.1 535.1 154.6 535.3 153.1 535.7 151.6 536.2 150.4 537 150.1 537.5 148.6 537.7 147.7 537.8 148.6 537.9 150.1 538.7 151.6 539.2 151.7 539.3 151.6 539.8 150.1 540.1 148.6 540.1 147.1 539.7 145.6 539.2 145 538.7 144.1 538.6 142.6 538.7 141.1 538.8 139.6 539.1 138.1 539.2 137.8 540.7 138 541.2 136.6 541.7 135.1 542.2 133.8 542.3 133.6 543.2 132.1 543.7 131.4 544.3 132.1 544.7 133.6 545 135.1 545.2 136.6 545.2 136.7 545.2 136.6 545.3 135.1 545.5 133.6 545.8 132.1 546.7 130.7 548.2 131 548.8 130.6 549.5 129.1 549.7 128.2 550.1 129.1 551.2 129.9 552.7 130.1 553.6 129.1 554.1 127.6 554.2 127.1 554.4 127.6 554.8 129.1 555.1 130.6 555.3 132.1 555.5 133.6 555.7 135 556 133.6 556.1 132.1 556.3 130.6 556.4 129.1 556.6 127.6 556.8 126.1 557.2 125.2 557.3 124.6 557.4 123.1 557.6 121.6 557.7 120.1 557.9 118.6 558.1 117.1 558.7 115.6 558.7 115.5 559.1 114.1 559.2 112.6 559.3 111.1 559.5 109.6 559.9 108.1 560.2 107.7 561.2 106.6 561.7 105.5 561.9 105.1 562.7 103.6 563.2 102.7 564.7 103.3 565.1 102.1 565.5 100.6 565.7 99.1 565.8 97.6 565.9 96.1 566.1 94.6 566.2 93.5 567.3 94.6 567.7 95 568.1 96.1 568.6 97.6 569.2 99.1 569.2 99.1 569.9 100.6 570.3 102.1 570.5 103.6 570.5 105.1 570.4 106.6 570.4 108.1 570.5 109.6 570.5 111.1 570.7 112.6 570.7 112.8 570.7 112.6 570.9 111.1 571.1 109.6 571.1 108.1 571.2 106.6 571.2 105.1 571.2 103.6 571.5 102.1 572 100.6 572.1 99.1 572 97.6 571.8 96.1 571.6 94.6 571.5 93.1 571.4 91.6 571.3 90.1 571.2 88.6 571.2 87.1 571.2 85.6 571.2 84.1 571.1 82.6 571.1 81.1 571.3 79.6 572.2 78.8 572.5 78.1 572.8 76.6 572.9 75.1 573 73.6 573 72.1 573.7 70.6 573.7 70.6 574.4 69.1 574.6 67.6 574.7 66.1 574.7 64.6 574.7 63.1 574.8 61.6 575.2 60.4 575.2 60.1 575.5 58.6 575.7 57.1 575.9 55.6 576 54.1 576.2 52.6 576.4 51.1 576.6 49.6 576.7 48.1 576.7 46.6 576.7 45.1 576.7 44.1 576.7 45.1 576.7 46.6 576.8 48.1 577.6 49.6 578.2 50.7 578.2 51.1 578.4 52.6 578.8 54.1 579.7 55.3 580.2 54.1 580.6 52.6 580.8 51.1 580.9 49.6 580.8 48.1 580.6 46.6 580.3 45.1 580.2 43.6 580.1 42.1 580.3 40.6 580.8 39.1 581.2 38.8 582 37.6 582.5 36.1 582.6 34.6 582.6 33.1 582.6 31.6 582.7 31.6ZM585.6 43.6 585.6 45.1 585.6 46.6 585.6 48.1 585.7 49 585.8 48.1 585.9 46.6 585.9 45.1 585.8 43.6 585.7 43 585.6 43.6ZM576.6 57.1 576.4 58.6 576.3 60.1 576.1 61.6 576 63.1 575.9 64.6 575.9 66.1 576 67.6 576.1 69.1 576.2 70.6 576.5 72.1 576.7 73 577.1 73.6 577.3 75.1 577.4 76.6 577.6 78.1 578.1 79.6 578.2 80 578.4 79.6 578.9 78.1 579 76.6 579 75.1 578.7 73.6 578.4 72.1 578.2 71.6 577.8 70.6 577.6 69.1 577.6 67.6 577.6 66.1 577.6 64.6 577.7 63.1 577.8 61.6 577.7 60.1 577.5 58.6 577 57.1 576.7 56.2 576.6 57.1ZM580.4 58.6 579.7 58.9 578.9 60.1 578.8 61.6 579.1 63.1 579.6 64.6 579.7 64.8 579.9 64.6 581.2 63.4 581.4 63.1 581.7 61.6 581.6 60.1 581.4 58.6 581.2 58.1 580.4 58.6ZM574.9 75.1 574.6 76.6 574.5 78.1 574.4 79.6 574.5 81.1 574.6 82.6 575 84.1 575.2 84.5 575.3 84.1 575.6 82.6 575.8 81.1 575.8 79.6 575.7 78.1 575.6 76.6 575.3 75.1 575.2 74.3 574.9 75.1ZM573.6 88.6 573.5 90.1 573.5 91.6 573.4 93.1 573.4 94.6 573.3 96.1 573.5 97.6 573.7 97.9 573.7 97.6 573.8 96.1 573.9 94.6 574 93.1 574.2 91.6 574.4 90.1 574.4 88.6 573.7 87.4 573.6 88.6ZM564.6 106.6 564.2 108.1 563.8 109.6 563.3 111.1 563.2 111.5 561.9 112.6 561.7 112.8 561.2 114.1 560.7 115.6 560.2 116.9 560 117.1 559.8 118.6 559.8 120.1 560 121.6 560 123.1 560.1 124.6 560.1 126.1 560.1 127.6 560.2 129.1 560.2 129.2 560.2 129.1 560.5 127.6 560.7 126.1 561.7 124.7 562.6 126.1 562.8 127.6 563.1 129.1 563.2 129.5 563.2 129.1 563.3 127.6 563.3 126.1 563.3 124.6 563.3 123.1 563.5 121.6 564 120.1 564.7 119 564.8 118.6 564.9 117.1 565.1 115.6 565.2 114.1 565.4 112.6 565.5 111.1 565.5 109.6 565.3 108.1 564.8 106.6 564.7 106.2 564.6 106.6ZM569.1 106.6 569.2 107.7 569.2 106.6 569.2 106.1 569.1 106.6ZM558.7 123.1 558.5 124.6 558.5 126.1 558.5 127.6 558.7 128.9 558.8 127.6 558.9 126.1 558.9 124.6 558.7 123.1 558.7 122.9 558.7 123.1ZM590.2 31.6 591.2 31.6 591.1 33.1 590.9 34.6 590.2 35.7 589.9 34.6 589.7 33.1 589.6 31.6 590.2 31.6ZM593.2 31.6 594.7 31.6 594.7 31.6 594.7 31.8 594.5 33.1 593.2 34.3 592.6 33.1 592.4 31.6 593.2 31.6ZM597.7 31.6 597.7 31.6 597.7 32.2 597.7 31.6 597.7 31.6ZM606.7 31.6 607 31.6 606.9 33.1 606.7 34.6 606.7 34.7 606.7 34.6 606.5 33.1 606.4 31.6 606.7 31.6ZM590.2 42.8 590.4 43.6 590.5 45.1 590.5 46.6 590.4 48.1 590.2 49.6 590.2 49.6 590.2 49.6 589.5 48.1 589.2 46.6 589.1 45.1 589.4 43.6 590.2 42.8ZM572.2 64.8 572.5 66.1 572.6 67.6 572.6 69.1 572.2 70.1 571.9 69.1 571.7 67.6 571.8 66.1 572.2 64.8ZM584.2 83.1 584.5 84.1 584.6 85.6 584.6 87.1 584.5 88.6 584.2 90 583.2 88.6 582.8 87.1 583 85.6 583.5 84.1 584.2 83.1ZM489.7 99.5 490.1 100.6 490.3 102.1 490.4 103.6 490.5 105.1 490.7 106.6 491 108.1 491.2 109.6 491.2 109.6 491.4 111.1 491.8 112.6 492.2 114.1 492.6 115.6 492.7 116.8 492.9 115.6 493.4 114.1 494.2 112.7 494.9 114.1 495.4 115.6 495.7 116.6 495.9 115.6 496.1 114.1 496.3 112.6 496.6 111.1 496.8 109.6 497 108.1 497.2 106.6 497.2 106.2 497.8 105.1 498.1 103.6 498.5 102.1 498.7 101.7 498.8 102.1 498.9 103.6 498.9 105.1 498.7 106.6 498.7 106.7 498 108.1 498.1 109.6 498.1 111.1 498.3 112.6 498.4 114.1 498.5 115.6 498.6 117.1 498.7 118 498.8 118.6 499 120.1 500.1 121.6 500.2 121.7 500.7 123.1 501.1 124.6 501.4 126.1 501.7 127.4 501.8 127.6 502.6 129.1 503.2 129.6 503.8 129.1 504.3 127.6 504.4 126.1 504.5 124.6 504.7 123.8 504.8 124.6 504.8 126.1 504.9 127.6 505 129.1 505.3 130.6 505.7 132.1 506.1 133.6 506.2 133.9 507.6 135.1 507.6 136.6 507.4 138.1 507.1 139.6 506.5 141.1 506.2 141.4 505.8 142.6 505.2 144.1 504.8 145.6 504.7 147.1 504.9 148.6 505.2 150.1 505.6 151.6 506.2 152.8 507.7 152.9 508.1 151.6 508.8 150.1 509.2 149.2 509.3 150.1 509.6 151.6 509.8 153.1 510.2 154.6 510.7 156.1 510.7 156.2 510.8 156.1 511.4 154.6 511.7 153.1 512 151.6 512.2 150.5 512.3 150.1 512.6 148.6 512.6 147.1 512.3 145.6 512.2 145.2 511.9 144.1 511.5 142.6 511.3 141.1 511.1 139.6 510.9 138.1 510.7 136.7 510.5 136.6 509.2 135.2 508.7 135.1 509.2 134.8 510.7 134.6 511.3 133.6 512.2 132.8 512.5 133.6 513.4 135.1 513.7 135.6 513.9 136.6 514.3 138.1 514.5 139.6 514.7 141.1 514.6 142.6 514.5 144.1 514.4 145.6 514.3 147.1 514.2 148.6 514.2 150.1 514.3 151.6 514.3 153.1 514.5 154.6 515.2 156 515.2 156.1 515.7 157.6 516.7 159 517 159.1 517.9 160.6 518 162.1 518 163.6 516.7 163.6 515.2 163.6 514.1 163.6 514 162.1 513.7 160.8 513.6 160.6 512.5 159.1 512.2 158.3 511 159.1 510.7 159.2 510.6 159.1 509.7 157.6 509.2 156.1 509.2 156 509.2 156.1 508.7 157.6 508.1 159.1 507.7 159.8 506.5 159.1 506.2 158.9 506.1 159.1 505.9 160.6 505.8 162.1 505.8 163.6 504.8 163.6 504.8 162.1 504.8 160.6 504.7 159.1 504.7 158.7 504.7 159.1 504.6 160.6 504.5 162.1 504.5 163.6 503.2 163.6 501.7 163.6 501.5 163.6 501.5 162.1 501.5 160.6 501.6 159.1 501.7 157.7 501.7 157.6 501.8 156.1 501.7 155.8 501.5 154.6 500.9 153.1 500.4 151.6 500.2 150.5 499.9 151.6 499.6 153.1 499.3 154.6 498.9 156.1 498.7 156.7 498.6 156.1 498.3 154.6 498.1 153.1 498.2 151.6 498.4 150.1 498.7 149.1 499.6 148.6 500.2 147.3 500.2 147.1 500.4 145.6 500.6 144.1 500.8 142.6 501 141.1 501.1 139.6 501.1 138.1 501 136.6 500.7 135.1 500.4 133.6 500.2 132.8 499.9 133.6 499.5 135.1 499.1 136.6 498.7 137.7 498.3 136.6 497.9 135.1 497.6 133.6 497.4 132.1 497.2 131 496.8 132.1 495.7 133 495.5 133.6 495.2 135.1 495.1 136.6 495 138.1 494.9 139.6 494.2 140.3 492.7 140.9 492.6 141.1 492 142.6 491.2 143.7 491.1 144.1 490.7 145.6 490.4 147.1 490.2 148.6 490.1 150.1 490 151.6 490 153.1 490 154.6 490 156.1 490 157.6 490 159.1 489.9 160.6 489.7 162.1 489.7 162.6 489.5 162.1 489.1 160.6 489 159.1 488.9 157.6 488.8 156.1 488.4 154.6 488.2 154.3 486.9 154.6 486.7 154.8 486.7 154.6 486.4 153.1 486.4 151.6 486.5 150.1 486.7 149.7 486.8 148.6 487 147.1 487.1 145.6 487.2 144.1 487.4 142.6 487.6 141.1 487.7 139.6 487.6 138.1 487.5 136.6 487.4 135.1 487.3 133.6 487.3 132.1 487.2 130.6 487.2 129.1 487.2 127.6 487 126.1 486.7 125 485.9 126.1 485.2 127.3 484.6 126.1 484.3 124.6 484.3 123.1 484.2 121.6 484.2 120.1 484.2 118.6 484.1 117.1 484 115.6 483.7 114.3 483.7 114.1 483.7 112.6 483.7 111.1 483.7 109.6 483.7 108.8 484.4 109.6 485.2 110.9 485.4 111.1 486.5 112.6 486.7 112.8 488.2 112.8 488.2 112.6 488.4 111.1 488.6 109.6 488.7 108.1 488.8 106.6 488.9 105.1 488.9 103.6 489.1 102.1 489.3 100.6 489.7 99.5ZM489.7 111.1 489.4 112.6 489.2 114.1 489 115.6 488.9 117.1 488.7 118.6 488.7 120.1 489.5 121.6 489.7 121.7 489.8 121.6 490.5 120.1 490.8 118.6 490.7 117.1 490.5 115.6 490.3 114.1 490 112.6 489.7 111.1 489.7 111 489.7 111.1ZM491 126.1 490.8 127.6 490.8 129.1 490.9 130.6 491.2 132.1 491.2 132.2 491.9 133.6 492.7 134.4 493.1 133.6 493.5 132.1 493.6 130.6 493.6 129.1 492.7 128.3 492.3 127.6 491.6 126.1 491.2 125.6 491 126.1ZM503.1 136.6 503.2 136.9 504.2 138.1 504.7 138.7 504.8 138.1 504.7 136.6 504.7 136.5 503.2 135.9 503.1 136.6ZM502.7 144.1 502.4 145.6 502.5 147.1 503.2 148.6 504.7 147.1 504.5 145.6 503.9 144.1 503.2 143 502.7 144.1ZM582.7 105.1 583.7 106.6 583.7 108.1 583.6 109.6 583.5 111.1 583.3 112.6 582.7 114 582.4 112.6 582.3 111.1 582.2 109.6 582.1 108.1 582.1 106.6 582.7 105.1ZM555.7 117 555.8 117.1 556.2 118.6 556.2 120.1 556.2 121.6 555.8 123.1 555.7 123.2 555.7 123.1 555.4 121.6 555.4 120.1 555.5 118.6 555.7 117.1 555.7 117ZM579.7 118.6 579.7 118.6 579.9 120.1 580 121.6 580.1 123.1 580.1 124.6 580.1 126.1 580.1 127.6 580.1 129.1 580 130.6 580 132.1 579.9 133.6 579.8 135.1 579.7 135.5 579.7 135.1 579.5 133.6 579.5 132.1 579.4 130.6 579.3 129.1 579.3 127.6 579.2 126.1 579.2 124.6 579.1 123.1 579.1 121.6 579.2 120.1 579.7 118.6 579.7 118.6ZM576.7 126 576.7 126.1 576.9 127.6 577 129.1 577 130.6 576.9 132.1 576.7 133.6 576.7 133.9 576.6 133.6 576.3 132.1 576 130.6 575.7 129.1 575.6 127.6 576.5 126.1 576.7 126ZM569.2 128.5 569.4 129.1 569.6 130.6 569.6 132.1 569.4 133.6 569.2 133.9 569.1 133.6 568.9 132.1 568.9 130.6 569.1 129.1 569.2 128.5ZM572.2 127.6 572.3 129.1 572.7 130.6 573.4 132.1 573.5 133.6 573.2 135.1 572.9 136.6 572.7 138.1 572.5 139.6 572.4 141.1 572.3 142.6 572.2 142.9 571.7 142.6 571.1 141.1 570.9 139.6 570.8 138.1 570.9 136.6 571.2 135.1 571.5 133.6 571.7 132.1 572 130.6 572.2 129.1 572.2 127.6ZM528.7 139.6 528.7 139.6 529 141.1 529.1 142.6 529.2 144.1 529.2 145.6 529.2 147.1 529.2 148.6 529.2 150.1 529.3 151.6 530.1 153.1 530.2 153.3 530.7 153.1 531.7 152.7 531.9 151.6 532 150.1 532.2 148.6 532.3 147.1 532.6 145.6 533.2 144.1 533.8 145.6 534 147.1 534.1 148.6 534.2 150.1 534.2 151.6 534.2 153.1 534.3 154.6 534.3 156.1 534.3 157.6 534.3 159.1 534.2 160.6 534.1 162.1 534 163.6 533.2 163.6 531.7 163.6 530.2 163.6 529.5 163.6 529.3 162.1 529 160.6 528.7 159.6 527.7 160.6 527.5 162.1 527.4 163.6 527.2 163.6 527 163.6 527 162.1 527 160.6 527 159.1 526.9 157.6 526.8 156.1 526.7 154.6 526.7 153.1 526.8 151.6 527 150.1 527.2 149.2 527.4 148.6 527.6 147.1 527.7 145.6 527.8 144.1 528 142.6 528.2 141.1 528.7 139.6 528.7 139.6ZM495.7 140.5 495.8 141.1 495.9 142.6 495.9 144.1 495.9 145.6 495.9 147.1 495.9 148.6 495.8 150.1 495.7 151.2 495.5 150.1 495.3 148.6 495.1 147.1 495.1 145.6 495 144.1 495 142.6 495.1 141.1 495.7 140.5ZM519.7 141.6 520.6 142.6 521.1 144.1 521 145.6 520.8 147.1 520.6 148.6 520.5 150.1 520.4 151.6 520.3 153.1 520.2 154.6 520.1 156.1 519.9 157.6 519.7 158.7 519 157.6 518.8 156.1 518.8 154.6 518.8 153.1 518.8 151.6 518.7 150.1 518.5 148.6 518.3 147.1 518.2 145.6 518.5 144.1 519 142.6 519.7 141.6ZM485.2 142.9 485.4 144.1 485.6 145.6 485.7 147.1 485.2 148.5 485 147.1 484.9 145.6 485 144.1 485.2 142.9ZM569.2 147.6 569.8 148.6 570 150.1 570 151.6 569.9 153.1 569.6 154.6 569.2 155.6 568.9 154.6 568.7 153.1 568.7 151.6 568.8 150.1 569 148.6 569.2 147.6ZM524.2 149.7 524.4 150.1 524.9 151.6 525.1 153.1 525.2 154.6 525.3 156.1 525.3 157.6 525.2 159.1 525.2 160.6 525.2 162.1 525.2 163.6 524.2 163.6 522.7 163.6 522.7 163.6 522.6 162.1 522.5 160.6 522.4 159.1 522.4 157.6 522.3 156.1 522.4 154.6 522.6 153.1 522.7 152.7 523.1 151.6 523.9 150.1 524.2 149.7ZM549.7 152.2 550.1 153.1 550.5 154.6 550.7 156.1 550.8 157.6 550.8 159.1 550.9 160.6 550.9 162.1 550.9 163.6 550.1 163.6 550 162.1 549.9 160.6 549.7 159.1 549.7 159 549.7 159.1 549.4 160.6 549.3 162.1 549.2 163.6 548.2 163.6 548.2 162.8 548.2 162.1 548.1 160.6 548 159.1 548 157.6 548.2 156.3 548.2 156.1 548.7 154.6 549.3 153.1 549.7 152.2ZM579.7 159.9 579.8 160.6 579.8 162.1 579.8 163.6 579.7 163.6 579.6 163.6 579.6 162.1 579.6 160.6 579.7 159.9ZM486.7 161.2 487.1 162.1 487.4 163.6 486.7 163.6 486.4 163.6 486.5 162.1 486.7 161.2Z" fill="#a6a6ff" fill-rule="evenodd" stroke="#a6a6ff" stroke-width="0.3"/><path d="M572.2 31.6 572.6 31.6 572.5 33.1 572.4 34.6 572.2 36.1 572.2 37.3 572.2 36.1 572.1 34.6 572 33.1 572 31.6 572.2 31.6ZM576.7 31.6 577.7 31.6 577.7 33.1 577.7 34.6 577.7 36.1 577.8 37.6 577.9 39.1 578.2 40.6 578.2 40.8 578.2 40.6 578.4 39.1 578.5 37.6 578.5 36.1 578.5 34.6 578.5 33.1 578.5 31.6 579.3 31.6 579.3 33.1 579.5 34.6 579.7 36.1 579.7 36.3 579.8 36.1 580.1 34.6 580.2 33.1 580.3 31.6 581.2 31.6 582.6 31.6 582.6 33.1 582.6 34.6 582.5 36.1 582 37.6 581.2 38.8 580.8 39.1 580.3 40.6 580.1 42.1 580.2 43.6 580.3 45.1 580.6 46.6 580.8 48.1 580.9 49.6 580.8 51.1 580.6 52.6 580.2 54.1 579.7 55.3 578.8 54.1 578.4 52.6 578.2 51.1 578.2 50.7 577.6 49.6 576.8 48.1 576.7 46.6 576.7 45.1 576.7 44.1 576.7 45.1 576.7 46.6 576.7 48.1 576.6 49.6 576.4 51.1 576.2 52.6 576 54.1 575.9 55.6 575.7 57.1 575.5 58.6 575.2 60.1 575.2 60.4 574.8 61.6 574.7 63.1 574.7 64.6 574.7 66.1 574.6 67.6 574.4 69.1 573.7 70.6 573.7 70.6 573 72.1 573 73.6 572.9 75.1 572.8 76.6 572.5 78.1 572.2 78.8 571.3 79.6 571.1 81.1 571.1 82.6 571.2 84.1 571.2 85.6 571.2 87.1 571.2 88.6 571.3 90.1 571.4 91.6 571.5 93.1 571.6 94.6 571.8 96.1 572 97.6 572.1 99.1 572 100.6 571.5 102.1 571.2 103.6 571.2 105.1 571.2 106.6 571.1 108.1 571.1 109.6 570.9 111.1 570.7 112.6 570.7 112.8 570.7 112.6 570.5 111.1 570.5 109.6 570.4 108.1 570.4 106.6 570.5 105.1 570.5 103.6 570.3 102.1 569.9 100.6 569.2 99.1 569.2 99.1 568.6 97.6 568.1 96.1 567.7 95 567.3 94.6 566.2 93.5 566.1 94.6 565.9 96.1 565.8 97.6 565.7 99.1 565.5 100.6 565.1 102.1 564.7 103.3 563.2 102.7 562.7 103.6 561.9 105.1 561.7 105.5 561.2 106.6 560.2 107.7 559.9 108.1 559.5 109.6 559.3 111.1 559.2 112.6 559.1 114.1 558.7 115.5 558.7 115.6 558.1 117.1 557.9 118.6 557.7 120.1 557.6 121.6 557.4 123.1 557.3 124.6 557.2 125.2 556.8 126.1 556.6 127.6 556.4 129.1 556.3 130.6 556.1 132.1 556 133.6 555.7 135 555.5 133.6 555.3 132.1 555.1 130.6 554.8 129.1 554.4 127.6 554.2 127.1 554.1 127.6 553.6 129.1 552.7 130.1 551.2 129.9 550.1 129.1 549.7 128.2 549.5 129.1 548.8 130.6 548.2 131 546.7 130.7 545.8 132.1 545.5 133.6 545.3 135.1 545.2 136.6 545.2 136.7 545.2 136.6 545 135.1 544.7 133.6 544.3 132.1 543.7 131.4 543.2 132.1 542.3 133.6 542.2 133.8 541.7 135.1 541.2 136.6 540.7 138 539.2 137.8 539.1 138.1 538.8 139.6 538.7 141.1 538.6 142.6 538.7 144.1 539.2 145 539.7 145.6 540.1 147.1 540.1 148.6 539.8 150.1 539.3 151.6 539.2 151.7 538.7 151.6 537.9 150.1 537.8 148.6 537.7 147.7 537.5 148.6 537 150.1 536.2 150.4 535.7 151.6 535.3 153.1 535.1 154.6 535 156.1 534.9 157.6 534.9 159.1 535 160.6 535.1 162.1 535.3 163.6 534.7 163.6 534 163.6 534.1 162.1 534.2 160.6 534.3 159.1 534.3 157.6 534.3 156.1 534.3 154.6 534.2 153.1 534.2 151.6 534.2 150.1 534.1 148.6 534 147.1 533.8 145.6 533.2 144.1 532.6 145.6 532.3 147.1 532.2 148.6 532 150.1 531.9 151.6 531.7 152.7 530.7 153.1 530.2 153.3 530.1 153.1 529.3 151.6 529.2 150.1 529.2 148.6 529.2 147.1 529.2 145.6 529.2 144.1 529.1 142.6 529 141.1 528.7 139.6 528.7 139.6 528.7 139.6 528.2 141.1 528 142.6 527.8 144.1 527.7 145.6 527.6 147.1 527.4 148.6 527.2 149.2 527 150.1 526.8 151.6 526.7 153.1 526.7 154.6 526.8 156.1 526.9 157.6 527 159.1 527 160.6 527 162.1 527 163.6 525.7 163.6 525.2 163.6 525.2 162.1 525.2 160.6 525.2 159.1 525.3 157.6 525.3 156.1 525.2 154.6 525.1 153.1 524.9 151.6 524.4 150.1 524.2 149.7 523.9 150.1 523.1 151.6 522.7 152.7 522.6 153.1 522.4 154.6 522.3 156.1 522.4 157.6 522.4 159.1 522.5 160.6 522.6 162.1 522.7 163.6 521.2 163.6 519.7 163.6 518.2 163.6 518 163.6 518 162.1 517.9 160.6 517 159.1 516.7 159 515.7 157.6 515.2 156.1 515.2 156 514.5 154.6 514.3 153.1 514.3 151.6 514.2 150.1 514.2 148.6 514.3 147.1 514.4 145.6 514.5 144.1 514.6 142.6 514.7 141.1 514.5 139.6 514.3 138.1 513.9 136.6 513.7 135.6 513.4 135.1 512.5 133.6 512.2 132.8 511.3 133.6 510.7 134.6 509.2 134.8 508.7 135.1 509.2 135.2 510.5 136.6 510.7 136.7 510.9 138.1 511.1 139.6 511.3 141.1 511.5 142.6 511.9 144.1 512.2 145.2 512.3 145.6 512.6 147.1 512.6 148.6 512.3 150.1 512.2 150.5 512 151.6 511.7 153.1 511.4 154.6 510.8 156.1 510.7 156.2 510.7 156.1 510.2 154.6 509.8 153.1 509.6 151.6 509.3 150.1 509.2 149.2 508.8 150.1 508.1 151.6 507.7 152.9 506.2 152.8 505.6 151.6 505.2 150.1 504.9 148.6 504.7 147.1 504.8 145.6 505.2 144.1 505.8 142.6 506.2 141.4 506.5 141.1 507.1 139.6 507.4 138.1 507.6 136.6 507.6 135.1 506.2 133.9 506.1 133.6 505.7 132.1 505.3 130.6 505 129.1 504.9 127.6 504.8 126.1 504.8 124.6 504.7 123.8 504.5 124.6 504.4 126.1 504.3 127.6 503.8 129.1 503.2 129.6 502.6 129.1 501.8 127.6 501.7 127.4 501.4 126.1 501.1 124.6 500.7 123.1 500.2 121.7 500.1 121.6 499 120.1 498.8 118.6 498.7 118 498.6 117.1 498.5 115.6 498.4 114.1 498.3 112.6 498.1 111.1 498.1 109.6 498 108.1 498.7 106.7 498.7 106.6 498.9 105.1 498.9 103.6 498.8 102.1 498.7 101.7 498.5 102.1 498.1 103.6 497.8 105.1 497.2 106.2 497.2 106.6 497 108.1 496.8 109.6 496.6 111.1 496.3 112.6 496.1 114.1 495.9 115.6 495.7 116.6 495.4 115.6 494.9 114.1 494.2 112.7 493.4 114.1 492.9 115.6 492.7 116.8 492.6 115.6 492.2 114.1 491.8 112.6 491.4 111.1 491.2 109.6 491.2 109.6 491 108.1 490.7 106.6 490.5 105.1 490.4 103.6 490.3 102.1 490.1 100.6 489.7 99.5 489.3 100.6 489.1 102.1 488.9 103.6 488.9 105.1 488.8 106.6 488.7 108.1 488.6 109.6 488.4 111.1 488.2 112.6 488.2 112.8 486.7 112.8 486.5 112.6 485.4 111.1 485.2 110.9 484.4 109.6 483.7 108.8 483.7 108.1 483.7 106.6 483.7 105.1 483.7 103.6 483.7 102.1 483.7 101.3 483.9 100.6 484.4 99.1 485 97.6 485.2 97.2 485.5 97.6 486.7 98.9 488.2 98.2 488.5 97.6 489.6 96.1 489.7 96 489.9 96.1 491.2 97.6 491.2 97.6 491.3 97.6 492.7 96.8 493.1 96.1 493.8 94.6 494.2 93.9 494.5 94.6 494.9 96.1 495.7 97.6 495.7 97.6 497.2 98.4 498 97.6 498.7 96.9 499.5 97.6 500.1 99.1 500.2 100.6 500.2 100.8 500.5 102.1 501 103.6 501.3 105.1 501.7 106.6 501.7 106.8 501.8 106.6 501.9 105.1 502 103.6 502.1 102.1 502.3 100.6 503.2 99.7 503.8 100.6 504 102.1 504.1 103.6 504.2 105.1 504.4 106.6 504.6 108.1 504.7 108.6 506.2 108.6 506.4 109.6 506.7 111.1 507 112.6 507.4 114.1 507.7 115.1 508.1 114.1 508.2 112.6 508.3 111.1 508.4 109.6 508.6 108.1 508.7 106.6 508.9 105.1 509.1 103.6 509.2 102.4 509.2 103.6 509.3 105.1 509.5 106.6 509.7 108.1 509.9 109.6 510.1 111.1 510.4 112.6 510.7 113.2 512 114.1 512.2 114.4 513.7 115 513.8 115.6 513.7 117.1 513.7 117.2 513.3 118.6 513 120.1 512.9 121.6 512.8 123.1 512.8 124.6 512.9 126.1 513.1 127.6 513.5 129.1 513.7 129.9 513.9 130.6 514.3 132.1 514.7 133.6 515.2 135.1 515.2 135.1 516.7 136.4 517.1 135.1 517.4 133.6 517.6 132.1 517.8 130.6 518.1 129.1 518.2 128.8 518.3 129.1 518.6 130.6 518.8 132.1 519 133.6 519.1 135.1 519.6 136.6 519.7 136.9 520.4 136.6 521.2 136 521.5 136.6 522.3 138.1 522.7 139.4 522.8 139.6 523.6 141.1 524.2 142.3 524.4 141.1 524.7 139.6 525.2 138.1 525.7 137.3 527.1 136.6 527.2 136.5 528.7 135.4 529.4 136.6 529.7 138.1 529.9 139.6 530 141.1 530.1 142.6 530.2 143.7 530.5 142.6 530.9 141.1 531.5 139.6 531.7 139.3 532.8 138.1 533.2 137.4 533.4 136.6 534 135.1 534.7 133.6 534.7 133.5 534.8 133.6 535.9 135.1 536.2 135.6 536.8 136.6 537.7 137.8 538 136.6 538.3 135.1 538.6 133.6 538.9 132.1 539.2 130.6 539.2 130.4 539.3 130.6 540.3 132.1 540.7 132.5 540.8 132.1 541.3 130.6 541.8 129.1 542.2 127.6 542.3 127.6 543.7 127.4 544.3 126.1 544.7 124.6 545 123.1 545.2 122.1 545.5 123.1 545.8 124.6 546.3 126.1 546.7 126.8 547.4 126.1 548.2 124.7 548.2 124.6 548.5 123.1 548.7 121.6 548.8 120.1 548.7 118.6 548.7 117.1 548.5 115.6 548.4 114.1 548.3 112.6 548.3 111.1 548.4 109.6 548.8 108.1 549.4 106.6 549.7 105.9 549.8 106.6 550.1 108.1 550.4 109.6 550.6 111.1 550.7 112.6 550.8 114.1 550.9 115.6 551 117.1 551.2 118.2 551.4 117.1 551.6 115.6 551.7 114.1 551.8 112.6 551.9 111.1 552 109.6 552.2 108.1 552.4 106.6 552.7 105.1 552.7 105.1 552.7 105.1 552.9 106.6 553.2 108.1 553.4 109.6 553.8 111.1 554.2 112.3 554.7 111.1 555.2 109.6 555.6 108.1 555.7 107.9 555.9 108.1 557.2 109.1 557.5 108.1 557.8 106.6 557.9 105.1 557.9 103.6 557.9 102.1 558 100.6 558.1 99.1 558.3 97.6 558.7 96.1 558.7 96.1 558.7 96.1 558.9 97.6 559.1 99.1 559.3 100.6 559.6 102.1 560.2 103.5 560.8 102.1 561.1 100.6 561.3 99.1 561.4 97.6 561.5 96.1 561.7 94.7 561.7 94.6 562.3 93.1 562.6 91.6 562.8 90.1 563 88.6 563.2 87.6 563.5 88.6 563.7 90.1 563.8 91.6 563.8 93.1 563.9 94.6 564.1 96.1 564.4 97.6 564.7 98.1 564.8 97.6 565 96.1 565.2 94.6 565.3 93.1 565.3 91.6 565.4 90.1 565.6 88.6 565.8 87.1 566.2 85.7 566.5 87.1 567.2 88.6 567.7 89.4 568.3 88.6 568.8 87.1 569.2 85.6 569.2 85.4 569.3 84.1 569.4 82.6 569.3 81.1 569.2 80.7 569 79.6 568.7 78.1 568.3 76.6 567.8 75.1 567.7 74.7 567.4 75.1 566.6 76.6 566.2 78.1 566 76.6 565.8 75.1 565.8 73.6 565.9 72.1 566.2 70.6 566.2 70.4 566.7 69.1 567.3 67.6 567.7 66.7 567.8 66.1 567.9 64.6 568 63.1 568 61.6 567.9 60.1 567.9 58.6 568 57.1 568.4 55.6 569.2 54.6 570 55.6 570.6 57.1 570.7 57.4 570.8 57.1 570.9 55.6 571 54.1 570.9 52.6 570.7 51.1 570.7 51.1 570.4 49.6 570.3 48.1 570.2 46.6 570.2 45.1 570.3 43.6 570.6 42.1 570.7 41.8 572.2 41.2 572.2 42.1 572.4 43.6 572.9 45.1 573.7 46.4 573.8 46.6 574.4 48.1 575 49.6 575.2 50.6 575.3 49.6 575.6 48.1 575.7 46.6 575.9 45.1 576 43.6 576 42.1 576 40.6 576 39.1 575.9 37.6 575.7 36.1 575.4 34.6 575.4 33.1 575.3 31.6 576.7 31.6ZM571.8 66.1 571.7 67.6 571.9 69.1 572.2 70.1 572.6 69.1 572.6 67.6 572.5 66.1 572.2 64.8 571.8 66.1ZM508.9 117.1 508.6 118.6 508.5 120.1 509.2 121.3 509.4 120.1 509.4 118.6 509.3 117.1 509.2 116.8 508.9 117.1ZM555.7 117.1 555.5 118.6 555.4 120.1 555.4 121.6 555.7 123.1 555.7 123.2 555.8 123.1 556.2 121.6 556.2 120.1 556.2 118.6 555.8 117.1 555.7 117 555.7 117.1ZM552.7 121.6 552.4 123.1 552.4 124.6 552.7 125.9 552.9 124.6 553 123.1 552.7 121.6 552.7 121.5 552.7 121.6ZM510.7 126.1 510.7 126.1 510.7 126.1 510.7 125.8 510.7 126.1ZM519 142.6 518.5 144.1 518.2 145.6 518.3 147.1 518.5 148.6 518.7 150.1 518.8 151.6 518.8 153.1 518.8 154.6 518.8 156.1 519 157.6 519.7 158.7 519.9 157.6 520.1 156.1 520.2 154.6 520.3 153.1 520.4 151.6 520.5 150.1 520.6 148.6 520.8 147.1 521 145.6 521.1 144.1 520.6 142.6 519.7 141.6 519 142.6ZM587.2 31.6 587.3 31.6 587.3 33.1 587.2 34.6 587.2 34.8 587.2 34.6 587.1 33.1 587 31.6 587.2 31.6ZM585.7 43 585.8 43.6 585.9 45.1 585.9 46.6 585.8 48.1 585.7 49 585.6 48.1 585.6 46.6 585.6 45.1 585.6 43.6 585.7 43ZM564.7 49 564.8 49.6 565.2 51.1 566.2 51.9 566.6 52.6 566.8 54.1 566.8 55.6 566.2 56.6 565.7 55.6 565.1 54.1 564.7 53 564.6 52.6 564.6 51.1 564.6 49.6 564.7 49ZM575.2 74.3 575.3 75.1 575.6 76.6 575.7 78.1 575.8 79.6 575.8 81.1 575.6 82.6 575.3 84.1 575.2 84.5 575 84.1 574.6 82.6 574.5 81.1 574.4 79.6 574.5 78.1 574.6 76.6 574.9 75.1 575.2 74.3ZM573.7 87.4 574.4 88.6 574.4 90.1 574.2 91.6 574 93.1 573.9 94.6 573.8 96.1 573.7 97.6 573.7 97.9 573.5 97.6 573.3 96.1 573.4 94.6 573.4 93.1 573.5 91.6 573.5 90.1 573.6 88.6 573.7 87.4ZM549.7 91.6 549.7 91.6 550 93.1 549.9 94.6 549.7 95.2 548.2 94.7 548.2 94.6 548.2 93.1 548.2 92.1 549.6 91.6 549.7 91.6ZM536.2 105.1 536.3 105.1 537.7 106.2 538 106.6 538.6 108.1 538.9 109.6 538.9 111.1 538.6 112.6 538.2 114.1 537.7 115.1 537.3 114.1 536.9 112.6 536.7 111.1 536.5 109.6 536.2 108.3 536.2 108.1 536.1 106.6 536.2 105.1 536.2 105.1ZM564.7 106.2 564.8 106.6 565.3 108.1 565.5 109.6 565.5 111.1 565.4 112.6 565.2 114.1 565.1 115.6 564.9 117.1 564.8 118.6 564.7 119 564 120.1 563.5 121.6 563.3 123.1 563.3 124.6 563.3 126.1 563.3 127.6 563.2 129.1 563.2 129.5 563.1 129.1 562.8 127.6 562.6 126.1 561.7 124.7 560.7 126.1 560.5 127.6 560.2 129.1 560.2 129.2 560.2 129.1 560.1 127.6 560.1 126.1 560.1 124.6 560 123.1 560 121.6 559.8 120.1 559.8 118.6 560 117.1 560.2 116.9 560.7 115.6 561.2 114.1 561.7 112.8 561.9 112.6 563.2 111.5 563.3 111.1 563.8 109.6 564.2 108.1 564.6 106.6 564.7 106.2ZM518.2 112.5 518.2 112.6 518.5 114.1 518.6 115.6 518.7 117.1 518.6 118.6 518.4 120.1 518.2 121.4 518 121.6 517.1 123.1 516.7 123.8 516.5 123.1 516.4 121.6 516.4 120.1 516.7 118.6 516.7 118.4 517.1 117.1 517.4 115.6 517.8 114.1 518.2 112.6 518.2 112.5ZM530.2 124.1 530.2 124.6 530.2 126.1 530.2 127.6 530.2 129.1 530.2 129.8 530.2 129.1 530.1 127.6 530.1 126.1 530.2 124.6 530.2 124.1ZM491.2 125.6 491.6 126.1 492.3 127.6 492.7 128.3 493.6 129.1 493.6 130.6 493.5 132.1 493.1 133.6 492.7 134.4 491.9 133.6 491.2 132.2 491.2 132.1 490.9 130.6 490.8 129.1 490.8 127.6 491 126.1 491.2 125.6ZM503.2 143 503.9 144.1 504.5 145.6 504.7 147.1 503.2 148.6 502.5 147.1 502.4 145.6 502.7 144.1 503.2 143ZM504.7 158.7 504.7 159.1 504.8 160.6 504.8 162.1 504.8 163.6 504.7 163.6 504.5 163.6 504.5 162.1 504.6 160.6 504.7 159.1 504.7 158.7ZM549.7 159 549.7 159.1 549.9 160.6 550 162.1 550.1 163.6 549.7 163.6 549.2 163.6 549.3 162.1 549.4 160.6 549.7 159.1 549.7 159ZM528.7 159.6 529 160.6 529.3 162.1 529.5 163.6 528.7 163.6 527.4 163.6 527.5 162.1 527.7 160.6 528.7 159.6Z" fill="#bfbfff" fill-rule="evenodd" stroke="#bfbfff" stroke-width="0.3"/><path d="M560.2 31.6 560.5 31.6 560.5 33.1 560.5 34.6 560.5 36.1 560.4 37.6 560.2 38.8 560 37.6 559.9 36.1 559.9 34.6 559.8 33.1 559.9 31.6 560.2 31.6ZM566.2 31.6 566.9 31.6 566.7 33.1 566.2 34.6 566.2 34.7 566.2 34.6 566.1 33.1 566.1 31.6 566.2 31.6ZM569.2 31.6 570.1 31.6 570 33.1 569.9 34.6 569.9 36.1 570.1 37.6 570.7 38.1 570.8 37.6 571.1 36.1 571.1 34.6 571.1 33.1 571.1 31.6 572 31.6 572 33.1 572.1 34.6 572.2 36.1 572.2 37.3 572.2 36.1 572.4 34.6 572.5 33.1 572.6 31.6 573.7 31.6 575.2 31.6 575.3 31.6 575.4 33.1 575.4 34.6 575.7 36.1 575.9 37.6 576 39.1 576 40.6 576 42.1 576 43.6 575.9 45.1 575.7 46.6 575.6 48.1 575.3 49.6 575.2 50.6 575 49.6 574.4 48.1 573.8 46.6 573.7 46.4 572.9 45.1 572.4 43.6 572.2 42.1 572.2 41.2 570.7 41.8 570.6 42.1 570.3 43.6 570.2 45.1 570.2 46.6 570.3 48.1 570.4 49.6 570.7 51.1 570.7 51.1 570.9 52.6 571 54.1 570.9 55.6 570.8 57.1 570.7 57.4 570.6 57.1 570 55.6 569.2 54.6 568.4 55.6 568 57.1 567.9 58.6 567.9 60.1 568 61.6 568 63.1 567.9 64.6 567.8 66.1 567.7 66.7 567.3 67.6 566.7 69.1 566.2 70.4 566.2 70.6 565.9 72.1 565.8 73.6 565.8 75.1 566 76.6 566.2 78.1 566.6 76.6 567.4 75.1 567.7 74.7 567.8 75.1 568.3 76.6 568.7 78.1 569 79.6 569.2 80.7 569.3 81.1 569.4 82.6 569.3 84.1 569.2 85.4 569.2 85.6 568.8 87.1 568.3 88.6 567.7 89.4 567.2 88.6 566.5 87.1 566.2 85.7 565.8 87.1 565.6 88.6 565.4 90.1 565.3 91.6 565.3 93.1 565.2 94.6 565 96.1 564.8 97.6 564.7 98.1 564.4 97.6 564.1 96.1 563.9 94.6 563.8 93.1 563.8 91.6 563.7 90.1 563.5 88.6 563.2 87.6 563 88.6 562.8 90.1 562.6 91.6 562.3 93.1 561.7 94.6 561.7 94.7 561.5 96.1 561.4 97.6 561.3 99.1 561.1 100.6 560.8 102.1 560.2 103.5 559.6 102.1 559.3 100.6 559.1 99.1 558.9 97.6 558.7 96.1 558.7 96.1 558.7 96.1 558.3 97.6 558.1 99.1 558 100.6 557.9 102.1 557.9 103.6 557.9 105.1 557.8 106.6 557.5 108.1 557.2 109.1 555.9 108.1 555.7 107.9 555.6 108.1 555.2 109.6 554.7 111.1 554.2 112.3 553.8 111.1 553.4 109.6 553.2 108.1 552.9 106.6 552.7 105.1 552.7 105.1 552.7 105.1 552.4 106.6 552.2 108.1 552 109.6 551.9 111.1 551.8 112.6 551.7 114.1 551.6 115.6 551.4 117.1 551.2 118.2 551 117.1 550.9 115.6 550.8 114.1 550.7 112.6 550.6 111.1 550.4 109.6 550.1 108.1 549.8 106.6 549.7 105.9 549.4 106.6 548.8 108.1 548.4 109.6 548.3 111.1 548.3 112.6 548.4 114.1 548.5 115.6 548.7 117.1 548.7 118.6 548.8 120.1 548.7 121.6 548.5 123.1 548.2 124.6 548.2 124.7 547.4 126.1 546.7 126.8 546.3 126.1 545.8 124.6 545.5 123.1 545.2 122.1 545 123.1 544.7 124.6 544.3 126.1 543.7 127.4 542.3 127.6 542.2 127.6 541.8 129.1 541.3 130.6 540.8 132.1 540.7 132.5 540.3 132.1 539.3 130.6 539.2 130.4 539.2 130.6 538.9 132.1 538.6 133.6 538.3 135.1 538 136.6 537.7 137.8 536.8 136.6 536.2 135.6 535.9 135.1 534.8 133.6 534.7 133.5 534.7 133.6 534 135.1 533.4 136.6 533.2 137.4 532.8 138.1 531.7 139.3 531.5 139.6 530.9 141.1 530.5 142.6 530.2 143.7 530.1 142.6 530 141.1 529.9 139.6 529.7 138.1 529.4 136.6 528.7 135.4 527.2 136.5 527.1 136.6 525.7 137.3 525.2 138.1 524.7 139.6 524.4 141.1 524.2 142.3 523.6 141.1 522.8 139.6 522.7 139.4 522.3 138.1 521.5 136.6 521.2 136 520.4 136.6 519.7 136.9 519.6 136.6 519.1 135.1 519 133.6 518.8 132.1 518.6 130.6 518.3 129.1 518.2 128.8 518.1 129.1 517.8 130.6 517.6 132.1 517.4 133.6 517.1 135.1 516.7 136.4 515.2 135.1 515.2 135.1 514.7 133.6 514.3 132.1 513.9 130.6 513.7 129.9 513.5 129.1 513.1 127.6 512.9 126.1 512.8 124.6 512.8 123.1 512.9 121.6 513 120.1 513.3 118.6 513.7 117.2 513.7 117.1 513.8 115.6 513.7 115 512.2 114.4 512 114.1 510.7 113.2 510.4 112.6 510.1 111.1 509.9 109.6 509.7 108.1 509.5 106.6 509.3 105.1 509.2 103.6 509.2 102.4 509.1 103.6 508.9 105.1 508.7 106.6 508.6 108.1 508.4 109.6 508.3 111.1 508.2 112.6 508.1 114.1 507.7 115.1 507.4 114.1 507 112.6 506.7 111.1 506.4 109.6 506.2 108.6 504.7 108.6 504.6 108.1 504.4 106.6 504.2 105.1 504.1 103.6 504 102.1 503.8 100.6 503.2 99.7 502.3 100.6 502.1 102.1 502 103.6 501.9 105.1 501.8 106.6 501.7 106.8 501.7 106.6 501.3 105.1 501 103.6 500.5 102.1 500.2 100.8 500.2 100.6 500.1 99.1 499.5 97.6 498.7 96.9 498 97.6 497.2 98.4 495.7 97.6 495.7 97.6 494.9 96.1 494.5 94.6 494.2 93.9 493.8 94.6 493.1 96.1 492.7 96.8 491.3 97.6 491.2 97.6 491.2 97.6 489.9 96.1 489.7 96 489.6 96.1 488.5 97.6 488.2 98.2 486.7 98.9 485.5 97.6 485.2 97.2 485 97.6 484.4 99.1 483.9 100.6 483.7 101.3 483.7 100.6 483.7 99.1 483.7 97.6 483.7 96.8 484 96.1 484.9 94.6 485.2 94.3 485.4 94.6 486.7 96 487.7 94.6 488.2 93.4 489.7 93.1 491.2 93.6 491.9 93.1 492.7 92.5 493.3 91.6 494.2 90.6 494.7 91.6 495.4 93.1 495.7 93.9 496.9 94.6 497.2 94.8 497.4 94.6 498.2 93.1 498.7 92 499.4 91.6 500.2 91.2 501.1 91.6 501.7 91.9 502.1 93.1 502.5 94.6 503.2 96 503.8 94.6 504.3 93.1 504.7 92.4 505.1 93.1 505.4 94.6 505.7 96.1 506 97.6 506.2 98.4 507.1 97.6 507.7 96.7 507.9 96.1 508.4 94.6 509.1 93.1 509.2 93 509.2 93.1 509.5 94.6 509.7 96.1 509.8 97.6 509.9 99.1 510 100.6 510.2 102.1 510.3 103.6 510.6 105.1 510.7 105.9 511.1 105.1 511.4 103.6 511.5 102.1 511.5 100.6 511.6 99.1 511.6 97.6 511.7 96.1 511.8 94.6 511.9 93.1 512 91.6 512.2 90.9 512.3 91.6 512.5 93.1 512.7 94.6 512.8 96.1 513 97.6 513.1 99.1 513.3 100.6 513.4 102.1 513.7 103.4 513.8 103.6 514.2 105.1 514.5 106.6 514.8 108.1 515.2 109.5 515.2 109.6 516.4 111.1 516.7 111.4 516.8 111.1 517.2 109.6 517.5 108.1 517.8 106.6 518.1 105.1 518.2 104.6 518.4 105.1 518.7 106.6 518.9 108.1 519.1 109.6 519.3 111.1 519.4 112.6 519.6 114.1 519.7 115.6 519.7 117.1 519.7 118.6 519.6 120.1 519.5 121.6 519.4 123.1 519.3 124.6 519.4 126.1 519.6 127.6 519.7 128.1 519.8 127.6 520.1 126.1 520.2 124.6 520.3 123.1 520.2 121.6 520.2 120.1 520 118.6 520.2 117.1 521.2 116.8 521.6 115.6 521.9 114.1 522.3 112.6 522.7 111.5 523.5 111.1 524.2 110.3 524.4 109.6 525 108.1 525.7 107.1 526.1 108.1 526.5 109.6 526.8 111.1 527.1 112.6 527.2 113.1 527.3 112.6 527.7 111.1 528.1 109.6 528.7 108.2 529.2 109.6 529.8 111.1 530.2 111.8 530.9 112.6 531.5 114.1 531.6 115.6 531.6 117.1 531.6 118.6 531.5 120.1 531.5 121.6 531.5 123.1 531.6 124.6 531.6 126.1 531.5 127.6 531.5 129.1 531.5 130.6 531.5 132.1 531.7 133.4 532.1 132.1 533.2 130.7 533.2 130.6 533.8 129.1 534.1 127.6 534.4 126.1 534.6 124.6 534.7 124.2 535 123.1 535.4 121.6 535.5 120.1 535.4 118.6 534.9 117.1 534.7 116.6 534.3 115.6 534 114.1 533.8 112.6 533.7 111.1 533.7 109.6 534 108.1 534.7 107.1 534.8 106.6 535 105.1 535.3 103.6 535.6 102.1 536.2 100.7 537 100.6 537.7 100.5 538 100.6 539.2 101.2 539.7 100.6 540.6 99.1 540.7 99 541.2 97.6 541.6 96.1 541.9 94.6 542.2 93.1 542.2 93 542.2 93.1 542.7 94.6 543 96.1 543.1 97.6 543.2 99.1 543.2 100.6 543.1 102.1 543.1 103.6 543 105.1 543 106.6 542.8 108.1 542.3 109.6 542.2 109.8 541.6 111.1 541.3 112.6 541.1 114.1 540.9 115.6 540.7 116.5 540.3 117.1 539.4 118.6 539.2 119.6 539.1 120.1 539.2 120.6 539.3 121.6 539.6 123.1 540.1 124.6 540.7 126.1 540.7 126.1 540.7 126.1 541 124.6 541.3 123.1 541.5 121.6 541.9 120.1 542.2 119.7 543 120.1 543.7 121.1 543.8 120.1 543.9 118.6 543.9 117.1 543.9 115.6 544 114.1 544.1 112.6 544.3 111.1 544.4 109.6 544.4 108.1 544.5 106.6 544.5 105.1 544.6 103.6 544.9 102.1 545.2 101 545.5 102.1 545.7 103.6 545.8 105.1 545.9 106.6 545.9 108.1 546 109.6 546.3 111.1 546.7 112.1 546.8 111.1 547 109.6 547.2 108.1 547.4 106.6 547.5 105.1 547.5 103.6 547.4 102.1 547.1 100.6 546.7 99.1 546.7 98.9 546.1 97.6 546.3 96.1 546.7 95.5 546.8 94.6 547.1 93.1 547.3 91.6 547.5 90.1 547.6 88.6 547.7 87.1 547.7 85.6 547.8 84.1 547.8 82.6 548 81.1 548.2 79.6 548.2 79.5 548.2 79.6 548.6 81.1 548.9 82.6 549.1 84.1 549.5 85.6 549.7 85.9 550.1 85.6 550.8 84.1 551 82.6 551.1 81.1 551.2 80.7 551.4 79.6 551.6 78.1 551.8 76.6 551.9 75.1 552.7 73.8 553.5 75.1 554.1 76.6 554.2 77 554.5 78.1 554.6 79.6 554.8 81.1 554.9 82.6 555 84.1 555.1 85.6 555.2 87.1 555.4 88.6 555.6 90.1 555.7 91.3 555.8 90.1 556 88.6 556.1 87.1 556.2 85.6 556.2 84.1 556.2 82.6 556.2 81.1 556.2 79.6 556.2 78.1 556.1 76.6 555.7 76.2 554.9 75.1 555 73.6 555.3 72.1 555.7 71 556.1 72.1 556.3 73.6 556.4 75.1 557.2 75.8 558 75.1 558.7 74.2 559 75.1 559.2 76.6 559.4 78.1 559.7 79.6 560 81.1 560.2 82.3 560.5 81.1 560.6 79.6 560.6 78.1 560.6 76.6 560.6 75.1 560.6 73.6 560.6 72.1 560.9 70.6 561.7 69.1 561.7 69.1 562.1 67.6 562.4 66.1 562.6 64.6 562.7 63.1 562.8 61.6 562.8 60.1 562.6 58.6 562.1 57.1 561.7 56.3 561.4 55.6 561.1 54.1 561 52.6 561 51.1 561.1 49.6 561.3 48.1 561.4 46.6 561.7 45.1 561.7 45 561.8 45.1 562.9 46.6 563.2 47.2 563.3 46.6 563.5 45.1 563.8 43.6 564.7 42.1 565.4 43.6 565.8 45.1 566.2 46.6 566.2 46.7 566.2 46.6 566.5 45.1 566.7 43.6 566.8 42.1 567.1 40.6 567.7 39.5 568.4 39.1 568.4 37.6 568.3 36.1 568.2 34.6 568 33.1 568 31.6 569.2 31.6ZM568.6 40.6 568.7 42.1 568.7 43.6 568.8 45.1 568.9 46.6 569 48.1 569.2 48.7 569.3 48.1 569.4 46.6 569.5 45.1 569.5 43.6 569.5 42.1 569.4 40.6 569.2 39.6 568.6 40.6ZM575 42.1 575.2 43.5 575.2 42.1 575.2 41.5 575 42.1ZM564.6 49.6 564.6 51.1 564.6 52.6 564.7 53 565.1 54.1 565.7 55.6 566.2 56.6 566.8 55.6 566.8 54.1 566.6 52.6 566.2 51.9 565.2 51.1 564.8 49.6 564.7 49 564.6 49.6ZM560.1 90.1 559.9 91.6 559.8 93.1 559.8 94.6 559.9 96.1 559.9 97.6 560.1 99.1 560.2 99.5 560.3 99.1 560.4 97.6 560.5 96.1 560.6 94.6 560.6 93.1 560.6 91.6 560.4 90.1 560.2 89.5 560.1 90.1ZM549.6 91.6 548.2 92.1 548.2 93.1 548.2 94.6 548.2 94.7 549.7 95.2 549.9 94.6 550 93.1 549.7 91.6 549.7 91.6 549.6 91.6ZM555.7 96.1 555.2 97.6 554.2 98.2 554 99.1 553.8 100.6 553.8 102.1 553.8 103.6 554 105.1 554.2 106.5 554.6 105.1 554.9 103.6 555.3 102.1 555.6 100.6 555.7 100.2 555.8 99.1 555.8 97.6 555.7 96.1 555.7 95.9 555.7 96.1ZM551 102.1 551 103.6 551.1 105.1 551.2 105.6 551.3 105.1 551.4 103.6 551.3 102.1 551.2 100.8 551 102.1ZM536.2 105.1 536.1 106.6 536.2 108.1 536.2 108.3 536.5 109.6 536.7 111.1 536.9 112.6 537.3 114.1 537.7 115.1 538.2 114.1 538.6 112.6 538.9 111.1 538.9 109.6 538.6 108.1 538 106.6 537.7 106.2 536.3 105.1 536.2 105.1 536.2 105.1ZM518.2 112.6 517.8 114.1 517.4 115.6 517.1 117.1 516.7 118.4 516.7 118.6 516.4 120.1 516.4 121.6 516.5 123.1 516.7 123.8 517.1 123.1 518 121.6 518.2 121.4 518.4 120.1 518.6 118.6 518.7 117.1 518.6 115.6 518.5 114.1 518.2 112.6 518.2 112.5 518.2 112.6ZM527 121.6 526.8 123.1 526.7 124.6 526.7 126.1 527 127.6 527.2 128.2 527.5 127.6 527.7 126.1 527.6 124.6 527.6 123.1 527.4 121.6 527.2 120.4 527 121.6ZM530.2 124.6 530.1 126.1 530.1 127.6 530.2 129.1 530.2 129.8 530.2 129.1 530.2 127.6 530.2 126.1 530.2 124.6 530.2 124.1 530.2 124.6ZM578.2 31.6 578.5 31.6 578.5 33.1 578.5 34.6 578.5 36.1 578.5 37.6 578.4 39.1 578.2 40.6 578.2 40.8 578.2 40.6 577.9 39.1 577.8 37.6 577.7 36.1 577.7 34.6 577.7 33.1 577.7 31.6 578.2 31.6ZM554.2 53.6 554.4 54.1 554.6 55.6 554.6 57.1 554.5 58.6 554.2 60 552.7 60.1 552.6 58.6 552.6 57.1 552.7 56.4 552.9 55.6 553.8 54.1 554.2 53.6ZM557.2 57 557.3 57.1 557.7 58.6 557.4 60.1 557.2 60.2 557.2 60.1 557.1 58.6 557.2 57.1 557.2 57ZM551.2 66.6 551.4 67.6 551.6 69.1 551.6 70.6 551.6 72.1 551.2 73.1 550.7 72.1 550.5 70.6 550.5 69.1 550.7 67.6 551.2 66.6ZM545.2 71.3 545.2 72.1 545.3 73.6 545.2 74.8 545.1 73.6 545.1 72.1 545.2 71.3ZM528.7 78.9 528.7 79.6 528.8 81.1 528.7 82.1 528.6 81.1 528.6 79.6 528.7 78.9ZM533.2 80.9 533.2 81.1 533.2 82.6 533.2 82.8 533.2 82.6 533.2 81.1 533.2 80.9ZM516.7 84.2 516.9 85.6 517 87.1 517.1 88.6 517.2 90.1 517.2 91.6 517.2 93.1 517 94.6 516.7 95.8 516.5 94.6 516.3 93.1 516.2 91.6 516.1 90.1 516 88.6 516.1 87.1 516.4 85.6 516.7 84.2ZM509.2 116.8 509.3 117.1 509.4 118.6 509.4 120.1 509.2 121.3 508.5 120.1 508.6 118.6 508.9 117.1 509.2 116.8ZM552.7 121.5 552.7 121.6 553 123.1 552.9 124.6 552.7 125.9 552.4 124.6 552.4 123.1 552.7 121.6 552.7 121.5ZM510.7 125.8 510.7 126.1 510.7 126.1 510.7 126.1 510.7 125.8Z" fill="#d9d9ff" fill-rule="evenodd" stroke="#d9d9ff" stroke-width="0.3"/><path d="M558.7 31.6 559.9 31.6 559.8 33.1 559.9 34.6 559.9 36.1 560 37.6 560.2 38.8 560.4 37.6 560.5 36.1 560.5 34.6 560.5 33.1 560.5 31.6 561.7 31.6 563.2 31.6 564.6 31.6 564.7 33.1 564.7 33.5 564.7 33.1 564.8 31.6 566.1 31.6 566.1 33.1 566.2 34.6 566.2 34.7 566.2 34.6 566.7 33.1 566.9 31.6 567.7 31.6 568 31.6 568 33.1 568.2 34.6 568.3 36.1 568.4 37.6 568.4 39.1 567.7 39.5 567.1 40.6 566.8 42.1 566.7 43.6 566.5 45.1 566.2 46.6 566.2 46.7 566.2 46.6 565.8 45.1 565.4 43.6 564.7 42.1 563.8 43.6 563.5 45.1 563.3 46.6 563.2 47.2 562.9 46.6 561.8 45.1 561.7 45 561.7 45.1 561.4 46.6 561.3 48.1 561.1 49.6 561 51.1 561 52.6 561.1 54.1 561.4 55.6 561.7 56.3 562.1 57.1 562.6 58.6 562.8 60.1 562.8 61.6 562.7 63.1 562.6 64.6 562.4 66.1 562.1 67.6 561.7 69.1 561.7 69.1 560.9 70.6 560.6 72.1 560.6 73.6 560.6 75.1 560.6 76.6 560.6 78.1 560.6 79.6 560.5 81.1 560.2 82.3 560 81.1 559.7 79.6 559.4 78.1 559.2 76.6 559 75.1 558.7 74.2 558 75.1 557.2 75.8 556.4 75.1 556.3 73.6 556.1 72.1 555.7 71 555.3 72.1 555 73.6 554.9 75.1 555.7 76.2 556.1 76.6 556.2 78.1 556.2 79.6 556.2 81.1 556.2 82.6 556.2 84.1 556.2 85.6 556.1 87.1 556 88.6 555.8 90.1 555.7 91.3 555.6 90.1 555.4 88.6 555.2 87.1 555.1 85.6 555 84.1 554.9 82.6 554.8 81.1 554.6 79.6 554.5 78.1 554.2 77 554.1 76.6 553.5 75.1 552.7 73.8 551.9 75.1 551.8 76.6 551.6 78.1 551.4 79.6 551.2 80.7 551.1 81.1 551 82.6 550.8 84.1 550.1 85.6 549.7 85.9 549.5 85.6 549.1 84.1 548.9 82.6 548.6 81.1 548.2 79.6 548.2 79.5 548.2 79.6 548 81.1 547.8 82.6 547.8 84.1 547.7 85.6 547.7 87.1 547.6 88.6 547.5 90.1 547.3 91.6 547.1 93.1 546.8 94.6 546.7 95.5 546.3 96.1 546.1 97.6 546.7 98.9 546.7 99.1 547.1 100.6 547.4 102.1 547.5 103.6 547.5 105.1 547.4 106.6 547.2 108.1 547 109.6 546.8 111.1 546.7 112.1 546.3 111.1 546 109.6 545.9 108.1 545.9 106.6 545.8 105.1 545.7 103.6 545.5 102.1 545.2 101 544.9 102.1 544.6 103.6 544.5 105.1 544.5 106.6 544.4 108.1 544.4 109.6 544.3 111.1 544.1 112.6 544 114.1 543.9 115.6 543.9 117.1 543.9 118.6 543.8 120.1 543.7 121.1 543 120.1 542.2 119.7 541.9 120.1 541.5 121.6 541.3 123.1 541 124.6 540.7 126.1 540.7 126.1 540.7 126.1 540.1 124.6 539.6 123.1 539.3 121.6 539.2 120.6 539.1 120.1 539.2 119.6 539.4 118.6 540.3 117.1 540.7 116.5 540.9 115.6 541.1 114.1 541.3 112.6 541.6 111.1 542.2 109.8 542.3 109.6 542.8 108.1 543 106.6 543 105.1 543.1 103.6 543.1 102.1 543.2 100.6 543.2 99.1 543.1 97.6 543 96.1 542.7 94.6 542.2 93.1 542.2 93 542.2 93.1 541.9 94.6 541.6 96.1 541.2 97.6 540.7 99 540.6 99.1 539.7 100.6 539.2 101.2 538 100.6 537.7 100.5 537 100.6 536.2 100.7 535.6 102.1 535.3 103.6 535 105.1 534.8 106.6 534.7 107.1 534 108.1 533.7 109.6 533.7 111.1 533.8 112.6 534 114.1 534.3 115.6 534.7 116.6 534.9 117.1 535.4 118.6 535.5 120.1 535.4 121.6 535 123.1 534.7 124.2 534.6 124.6 534.4 126.1 534.1 127.6 533.8 129.1 533.2 130.6 533.2 130.7 532.1 132.1 531.7 133.4 531.5 132.1 531.5 130.6 531.5 129.1 531.5 127.6 531.6 126.1 531.6 124.6 531.5 123.1 531.5 121.6 531.5 120.1 531.6 118.6 531.6 117.1 531.6 115.6 531.5 114.1 530.9 112.6 530.2 111.8 529.8 111.1 529.2 109.6 528.7 108.2 528.1 109.6 527.7 111.1 527.3 112.6 527.2 113.1 527.1 112.6 526.8 111.1 526.5 109.6 526.1 108.1 525.7 107.1 525 108.1 524.4 109.6 524.2 110.3 523.5 111.1 522.7 111.5 522.3 112.6 521.9 114.1 521.6 115.6 521.2 116.8 520.2 117.1 520 118.6 520.2 120.1 520.2 121.6 520.3 123.1 520.2 124.6 520.1 126.1 519.8 127.6 519.7 128.1 519.6 127.6 519.4 126.1 519.3 124.6 519.4 123.1 519.5 121.6 519.6 120.1 519.7 118.6 519.7 117.1 519.7 115.6 519.6 114.1 519.4 112.6 519.3 111.1 519.1 109.6 518.9 108.1 518.7 106.6 518.4 105.1 518.2 104.6 518.1 105.1 517.8 106.6 517.5 108.1 517.2 109.6 516.8 111.1 516.7 111.4 516.4 111.1 515.2 109.6 515.2 109.5 514.8 108.1 514.5 106.6 514.2 105.1 513.8 103.6 513.7 103.4 513.4 102.1 513.3 100.6 513.1 99.1 513 97.6 512.8 96.1 512.7 94.6 512.5 93.1 512.3 91.6 512.2 90.9 512 91.6 511.9 93.1 511.8 94.6 511.7 96.1 511.6 97.6 511.6 99.1 511.5 100.6 511.5 102.1 511.4 103.6 511.1 105.1 510.7 105.9 510.6 105.1 510.3 103.6 510.2 102.1 510 100.6 509.9 99.1 509.8 97.6 509.7 96.1 509.5 94.6 509.2 93.1 509.2 93 509.1 93.1 508.4 94.6 507.9 96.1 507.7 96.7 507.1 97.6 506.2 98.4 506 97.6 505.7 96.1 505.4 94.6 505.1 93.1 504.7 92.4 504.3 93.1 503.8 94.6 503.2 96 502.5 94.6 502.1 93.1 501.7 91.9 501.1 91.6 500.2 91.2 499.4 91.6 498.7 92 498.2 93.1 497.4 94.6 497.2 94.8 496.9 94.6 495.7 93.9 495.4 93.1 494.7 91.6 494.2 90.6 493.3 91.6 492.7 92.5 491.9 93.1 491.2 93.6 489.7 93.1 488.2 93.4 487.7 94.6 486.7 96 485.4 94.6 485.2 94.3 484.9 94.6 484 96.1 483.7 96.8 483.7 96.1 483.7 94.6 483.7 93.1 483.7 91.6 483.7 90.9 485.2 90.9 485.8 91.6 486.7 92.7 487.2 91.6 487.7 90.1 488.2 88.9 489.2 90.1 489.7 90.5 490.3 90.1 491.2 89.3 492.7 88.7 492.8 88.6 494.2 87.7 494.8 88.6 495.7 90.1 495.7 90.1 495.9 90.1 497.2 89.4 497.5 88.6 498.3 87.1 498.7 86.6 499.6 87.1 500.2 87.3 501.7 87.9 502.6 88.6 503.2 90 504.6 88.6 504.7 88.6 505.9 87.1 506.2 86.1 507.3 87.1 507.7 87.4 507.9 87.1 508.9 85.6 509.2 85 509.8 85.6 510.7 85.8 510.9 85.6 511.5 84.1 511.8 82.6 511.8 81.1 511.8 79.6 511.7 78.1 511.7 76.6 512 75.1 512.2 74.8 512.3 75.1 512.6 76.6 512.6 78.1 512.6 79.6 512.8 81.1 513.5 82.6 513.7 82.9 515.2 83.8 515.6 82.6 515.9 81.1 516.2 79.6 516.5 78.1 516.7 76.6 516.9 76.6 518.2 76.2 518.5 75.1 519.3 73.6 519.7 72.7 520.5 72.1 521.2 71.2 521.6 72.1 521.9 73.6 522.1 75.1 522.1 76.6 522.1 78.1 522.1 79.6 522.4 81.1 522.7 81.4 522.8 81.1 522.9 79.6 523 78.1 523.1 76.6 523.7 75.1 524.2 74.7 525.3 73.6 525.5 72.1 525.7 70.6 525.7 70.6 526.1 70.6 527.2 70.6 527.2 70.6 528 69.1 528.5 67.6 528.7 67.1 529.2 66.1 530.2 65.1 530.7 64.6 531.7 64 533.2 63.9 534.7 63.4 535.9 64.6 536.1 66.1 536.1 67.6 536 69.1 535.9 70.6 536 72.1 536 73.6 536.2 75.1 536.2 75.4 536.4 75.1 536.5 73.6 536.6 72.1 536.5 70.6 536.4 69.1 536.3 67.6 536.3 66.1 536.4 64.6 537.1 63.1 537.7 62.2 539.2 62.3 539.6 61.6 540.3 60.1 540.7 58.8 540.8 58.6 541.8 57.1 542.2 56.8 542.5 57.1 543.3 58.6 543.7 59.6 544 58.6 544.5 57.1 545.1 55.6 545.2 55.5 546.1 54.1 546.7 53.5 547.8 54.1 548.2 54.9 548.5 54.1 549.7 52.6 549.7 52.6 551.2 51.8 552.6 51.1 552.7 51 554.2 50.5 555.4 49.6 555.7 49 555.9 49.6 556.6 51.1 557.2 51.7 558.1 51.1 558.7 49.9 559.6 49.6 560.2 49.2 560.3 48.1 560.3 46.6 560.2 45.1 560.2 44.9 559.8 43.6 559.5 42.1 559.3 40.6 559.2 39.1 559 37.6 558.7 36.1 558.7 35.8 558.6 34.6 558.4 33.1 558.4 31.6 558.7 31.6ZM553.8 54.1 552.9 55.6 552.7 56.4 552.6 57.1 552.6 58.6 552.7 60.1 554.2 60 554.5 58.6 554.6 57.1 554.6 55.6 554.4 54.1 554.2 53.6 553.8 54.1ZM557.2 57.1 557.1 58.6 557.2 60.1 557.2 60.2 557.4 60.1 557.7 58.6 557.3 57.1 557.2 57 557.2 57.1ZM561.6 61.6 561.6 63.1 561.7 63.4 561.7 63.1 561.7 61.6 561.7 61.3 561.6 61.6ZM550.7 67.6 550.5 69.1 550.5 70.6 550.7 72.1 551.2 73.1 551.6 72.1 551.6 70.6 551.6 69.1 551.4 67.6 551.2 66.6 550.7 67.6ZM540.6 70.6 540.4 72.1 540.1 73.6 539.8 75.1 539.2 76.6 539.2 76.6 537.7 77.6 537.5 78.1 537.5 79.6 537.6 81.1 537.7 82.3 537.8 82.6 538.3 84.1 539 85.6 539.2 85.9 539.2 85.6 539.5 84.1 539.7 82.6 540 81.1 540.7 79.7 540.8 79.6 541.3 78.1 541.3 76.6 541.1 75.1 541 73.6 540.9 72.1 540.8 70.6 540.7 69.9 540.6 70.6ZM546.7 70.6 546.7 72.1 546.7 72.6 546.8 72.1 546.8 70.6 546.7 69.9 546.7 70.6ZM545.1 72.1 545.1 73.6 545.2 74.8 545.3 73.6 545.2 72.1 545.2 71.3 545.1 72.1ZM543.6 76.6 543.5 78.1 543.5 79.6 543.6 81.1 543.7 82.5 543.7 81.1 543.8 79.6 543.8 78.1 543.8 76.6 543.7 75.6 543.6 76.6ZM525.6 78.1 525.6 79.6 525.7 81.1 525.7 81.3 525.7 81.1 525.8 79.6 525.8 78.1 525.7 76.6 525.6 78.1ZM528.6 79.6 528.6 81.1 528.7 82.1 528.8 81.1 528.7 79.6 528.7 78.9 528.6 79.6ZM533.2 81.1 533.2 82.6 533.2 82.8 533.2 82.6 533.2 81.1 533.2 80.9 533.2 81.1ZM518 82.6 517.9 84.1 517.9 85.6 518 87.1 518.1 88.6 518.2 89.6 518.7 88.6 518.9 87.1 518.9 85.6 518.7 84.1 518.5 82.6 518.2 81.2 518 82.6ZM546.7 84.1 546.5 85.6 546.4 87.1 546.5 88.6 546.7 89.6 546.8 88.6 546.8 87.1 546.8 85.6 546.7 84.1 546.7 83.9 546.7 84.1ZM516.4 85.6 516.1 87.1 516 88.6 516.1 90.1 516.2 91.6 516.3 93.1 516.5 94.6 516.7 95.8 517 94.6 517.2 93.1 517.2 91.6 517.2 90.1 517.1 88.6 517 87.1 516.9 85.6 516.7 84.2 516.4 85.6ZM527.2 85.6 526.8 87.1 526.8 88.6 526.8 90.1 526.8 91.6 526.8 93.1 526.8 94.6 526.9 96.1 527.1 97.6 527.2 98.2 527.3 97.6 527.6 96.1 527.7 94.6 527.8 93.1 527.8 91.6 527.8 90.1 527.7 88.6 527.5 87.1 527.2 85.6 527.2 85.6 527.2 85.6ZM530 87.1 529.9 88.6 529.9 90.1 530 91.6 530.1 93.1 530.1 94.6 530 96.1 530 97.6 530 99.1 530.1 100.6 530.2 101.1 530.4 100.6 530.6 99.1 530.6 97.6 530.5 96.1 531.2 94.6 531.7 94.5 532.8 93.1 532.8 91.6 532.6 90.1 532.3 88.6 532 87.1 531.7 86.1 530.2 85.8 530 87.1ZM519.6 96.1 519.6 97.6 519.6 99.1 519.7 99.5 519.8 99.1 519.8 97.6 519.8 96.1 519.7 95.7 519.6 96.1ZM570.7 31.6 571.1 31.6 571.1 33.1 571.1 34.6 571.1 36.1 570.8 37.6 570.7 38.1 570.1 37.6 569.9 36.1 569.9 34.6 570 33.1 570.1 31.6 570.7 31.6ZM569.2 39.6 569.4 40.6 569.5 42.1 569.5 43.6 569.5 45.1 569.4 46.6 569.3 48.1 569.2 48.7 569 48.1 568.9 46.6 568.8 45.1 568.7 43.6 568.7 42.1 568.6 40.6 569.2 39.6ZM575.2 41.5 575.2 42.1 575.2 43.5 575 42.1 575.2 41.5ZM560.2 89.5 560.4 90.1 560.6 91.6 560.6 93.1 560.6 94.6 560.5 96.1 560.4 97.6 560.3 99.1 560.2 99.5 560.1 99.1 559.9 97.6 559.9 96.1 559.8 94.6 559.8 93.1 559.9 91.6 560.1 90.1 560.2 89.5ZM555.7 95.9 555.7 96.1 555.8 97.6 555.8 99.1 555.7 100.2 555.6 100.6 555.3 102.1 554.9 103.6 554.6 105.1 554.2 106.5 554 105.1 553.8 103.6 553.8 102.1 553.8 100.6 554 99.1 554.2 98.2 555.2 97.6 555.7 96.1 555.7 95.9ZM551.2 100.8 551.3 102.1 551.4 103.6 551.3 105.1 551.2 105.6 551.1 105.1 551 103.6 551 102.1 551.2 100.8ZM527.2 120.4 527.4 121.6 527.6 123.1 527.6 124.6 527.7 126.1 527.5 127.6 527.2 128.2 527 127.6 526.7 126.1 526.7 124.6 526.8 123.1 527 121.6 527.2 120.4Z" fill="#f2f2ff" fill-rule="evenodd" stroke="#f2f2ff" stroke-width="0.3"/><path d="M558.4 33.1 558.6 34.6 558.7 35.8 558.7 36.1 559 37.6 559.2 39.1 559.3 40.6 559.5 42.1 559.8 43.6 560.2 44.9 560.2 45.1 560.3 46.6 560.3 48.1 560.2 49.2 559.6 49.6 558.7 49.9 558.1 51.1 557.2 51.7 556.6 51.1 555.9 49.6 555.7 49 555.4 49.6 554.2 50.5 552.7 51 552.6 51.1 551.2 51.8 549.7 52.6 549.7 52.6 548.5 54.1 548.2 54.9 547.8 54.1 546.7 53.5 546.1 54.1 545.2 55.5 545.1 55.6 544.5 57.1 544 58.6 543.7 59.6 543.3 58.6 542.5 57.1 542.2 56.8 541.8 57.1 540.8 58.6 540.7 58.8 540.3 60.1 539.6 61.6 539.2 62.3 537.7 62.2 537.1 63.1 536.4 64.6 536.3 66.1 536.3 67.6 536.4 69.1 536.5 70.6 536.6 72.1 536.5 73.6 536.4 75.1 536.2 75.4 536.2 75.1 536 73.6 536 72.1 535.9 70.6 536 69.1 536.1 67.6 536.1 66.1 535.9 64.6 534.7 63.4 533.2 63.9 531.7 64 530.7 64.6 530.2 65.1 529.2 66.1 528.7 67.1 528.5 67.6 528 69.1 527.2 70.6 527.2 70.6 526.1 70.6 525.7 70.6 525.7 70.6 525.5 72.1 525.3 73.6 524.2 74.7 523.7 75.1 523.1 76.6 523 78.1 522.9 79.6 522.8 81.1 522.7 81.4 522.4 81.1 522.1 79.6 522.1 78.1 522.1 76.6 522.1 75.1 521.9 73.6 521.6 72.1 521.2 71.2 520.5 72.1 519.7 72.7 519.3 73.6 518.5 75.1 518.2 76.2 516.9 76.6 516.7 76.6 516.5 78.1 516.2 79.6 515.9 81.1 515.6 82.6 515.2 83.8 513.7 82.9 513.5 82.6 512.8 81.1 512.6 79.6 512.6 78.1 512.6 76.6 512.3 75.1 512.2 74.8 512 75.1 511.7 76.6 511.7 78.1 511.8 79.6 511.8 81.1 511.8 82.6 511.5 84.1 510.9 85.6 510.7 85.8 509.8 85.6 509.2 85 508.9 85.6 507.9 87.1 507.7 87.4 507.3 87.1 506.2 86.1 505.9 87.1 504.7 88.6 504.6 88.6 503.2 90 502.6 88.6 501.7 87.9 500.2 87.3 499.6 87.1 498.7 86.6 498.3 87.1 497.5 88.6 497.2 89.4 495.9 90.1 495.7 90.1 495.7 90.1 494.8 88.6 494.2 87.7 492.8 88.6 492.7 88.7 491.2 89.3 490.3 90.1 489.7 90.5 489.2 90.1 488.2 88.9 487.7 90.1 487.2 91.6 486.7 92.7 485.8 91.6 485.2 90.9 483.7 90.9 483.7 90.1 483.7 88.6 483.7 87.1 483.7 86.6 485.2 87 485.3 87.1 486.6 88.6 486.7 88.7 486.7 88.6 487.4 87.1 488.2 85.8 489.2 87.1 489.7 87.8 490.3 87.1 491.2 85.7 492.7 85.7 492.9 85.6 494.2 84.7 495 85.6 495.7 86.5 496.1 85.6 496.6 84.1 497.2 82.6 497.2 82.5 498.7 81.1 498.7 81.1 498.7 81.1 499.6 82.6 500.2 83.3 501.7 84 502.3 82.6 502.7 81.1 503 79.6 503.2 79 504.7 78.7 504.8 78.1 505.2 76.6 505.7 75.1 506.2 74.2 507.3 75.1 507.7 75.6 508.1 75.1 509.2 74.4 510.7 74.4 511.3 73.6 512.2 72.5 513.4 73.6 513.7 74.4 514.2 75.1 515.1 76.6 515.2 76.8 515.2 76.6 515.5 75.1 516.1 73.6 516.6 72.1 516.7 71.8 518.2 71.3 518.6 70.6 519.4 69.1 519.7 68.6 520.2 67.6 520.7 66.1 521.2 65 522 64.6 522.7 64.3 523.1 64.6 524.1 66.1 524.2 67.2 524.3 66.1 525.7 65.1 526.2 64.6 527.2 63.5 528.7 63.2 528.8 63.1 530.2 62.5 531.7 61.9 532.1 61.6 533.2 60.6 534.7 61.1 536.2 60.8 536.7 60.1 537.7 58.7 537.9 58.6 539.2 57.6 539.4 57.1 540.1 55.6 540.7 55 542.2 54.5 543.7 54.9 544.4 54.1 545.2 53.4 545.9 52.6 546.7 51.8 548.2 51.7 548.8 51.1 549.7 50.3 550.7 49.6 551.2 49.2 552.3 48.1 552.7 47.5 553.9 48.1 554.2 48.2 554.3 48.1 555 46.6 555.4 45.1 555.7 43.9 556.4 45.1 556.9 46.6 557.2 47.6 557.5 46.6 557.8 45.1 558 43.6 558.1 42.1 558.1 40.6 558.1 39.1 558 37.6 557.9 36.1 557.7 34.6 557.6 33.1 557.6 31.6 558.4 31.6 558.4 33.1ZM564.7 31.6 564.8 31.6 564.7 33.1 564.7 33.5 564.7 33.1 564.6 31.6 564.7 31.6ZM561.7 61.3 561.7 61.6 561.7 63.1 561.7 63.4 561.6 63.1 561.6 61.6 561.7 61.3ZM540.7 69.9 540.8 70.6 540.9 72.1 541 73.6 541.1 75.1 541.3 76.6 541.3 78.1 540.8 79.6 540.7 79.7 540 81.1 539.7 82.6 539.5 84.1 539.2 85.6 539.2 85.9 539 85.6 538.3 84.1 537.8 82.6 537.7 82.3 537.6 81.1 537.5 79.6 537.5 78.1 537.7 77.6 539.2 76.6 539.2 76.6 539.8 75.1 540.1 73.6 540.4 72.1 540.6 70.6 540.7 69.9ZM546.7 69.9 546.8 70.6 546.8 72.1 546.7 72.6 546.7 72.1 546.7 70.6 546.7 69.9ZM543.7 75.6 543.8 76.6 543.8 78.1 543.8 79.6 543.7 81.1 543.7 82.5 543.6 81.1 543.5 79.6 543.5 78.1 543.6 76.6 543.7 75.6ZM525.7 76.6 525.8 78.1 525.8 79.6 525.7 81.1 525.7 81.3 525.7 81.1 525.6 79.6 525.6 78.1 525.7 76.6ZM518.2 81.2 518.5 82.6 518.7 84.1 518.9 85.6 518.9 87.1 518.7 88.6 518.2 89.6 518.1 88.6 518 87.1 517.9 85.6 517.9 84.1 518 82.6 518.2 81.2ZM546.7 83.9 546.7 84.1 546.8 85.6 546.8 87.1 546.8 88.6 546.7 89.6 546.5 88.6 546.4 87.1 546.5 85.6 546.7 84.1 546.7 83.9ZM527.2 85.6 527.2 85.6 527.5 87.1 527.7 88.6 527.8 90.1 527.8 91.6 527.8 93.1 527.7 94.6 527.6 96.1 527.3 97.6 527.2 98.2 527.1 97.6 526.9 96.1 526.8 94.6 526.8 93.1 526.8 91.6 526.8 90.1 526.8 88.6 526.8 87.1 527.2 85.6 527.2 85.6ZM530.2 85.8 531.7 86.1 532 87.1 532.3 88.6 532.6 90.1 532.8 91.6 532.8 93.1 531.7 94.5 531.2 94.6 530.5 96.1 530.6 97.6 530.6 99.1 530.4 100.6 530.2 101.1 530.1 100.6 530 99.1 530 97.6 530 96.1 530.1 94.6 530.1 93.1 530 91.6 529.9 90.1 529.9 88.6 530 87.1 530.2 85.8ZM519.7 95.7 519.8 96.1 519.8 97.6 519.8 99.1 519.7 99.5 519.6 99.1 519.6 97.6 519.6 96.1 519.7 95.7Z" fill="#fff2f2" fill-rule="evenodd" stroke="#fff2f2" stroke-width="0.3"/><path d="M484.8 33.1 484.6 34.6 484.2 36.1 483.7 36.7 483.7 36.1 483.7 34.6 483.7 33.1 483.7 31.6 484.9 31.6 484.8 33.1ZM555.7 31.6 557.2 31.6 557.6 31.6 557.6 33.1 557.7 34.6 557.9 36.1 558 37.6 558.1 39.1 558.1 40.6 558.1 42.1 558 43.6 557.8 45.1 557.5 46.6 557.2 47.6 556.9 46.6 556.4 45.1 555.7 43.9 555.4 45.1 555 46.6 554.3 48.1 554.2 48.2 553.9 48.1 552.7 47.5 552.3 48.1 551.2 49.2 550.7 49.6 549.7 50.3 548.8 51.1 548.2 51.7 546.7 51.8 545.9 52.6 545.2 53.4 544.4 54.1 543.7 54.9 542.2 54.5 540.7 55 540.1 55.6 539.4 57.1 539.2 57.6 537.9 58.6 537.7 58.7 536.7 60.1 536.2 60.8 534.7 61.1 533.2 60.6 532.1 61.6 531.7 61.9 530.2 62.5 528.8 63.1 528.7 63.2 527.2 63.5 526.2 64.6 525.7 65.1 524.3 66.1 524.2 67.2 524.1 66.1 523.1 64.6 522.7 64.3 522 64.6 521.2 65 520.7 66.1 520.2 67.6 519.7 68.6 519.4 69.1 518.6 70.6 518.2 71.3 516.7 71.8 516.6 72.1 516.1 73.6 515.5 75.1 515.2 76.6 515.2 76.8 515.1 76.6 514.2 75.1 513.7 74.4 513.4 73.6 512.2 72.5 511.3 73.6 510.7 74.4 509.2 74.4 508.1 75.1 507.7 75.6 507.3 75.1 506.2 74.2 505.7 75.1 505.2 76.6 504.8 78.1 504.7 78.7 503.2 79 503 79.6 502.7 81.1 502.3 82.6 501.7 84 500.2 83.3 499.6 82.6 498.7 81.1 498.7 81.1 498.7 81.1 497.2 82.5 497.2 82.6 496.6 84.1 496.1 85.6 495.7 86.5 495 85.6 494.2 84.7 492.9 85.6 492.7 85.7 491.2 85.7 490.3 87.1 489.7 87.8 489.2 87.1 488.2 85.8 487.4 87.1 486.7 88.6 486.7 88.7 486.6 88.6 485.3 87.1 485.2 87 483.7 86.6 483.7 85.6 483.7 84.1 483.7 83.8 485.2 84.1 485.2 84.1 486.7 84.9 487.3 84.1 488.2 83.1 489.3 84.1 489.7 84.7 490.1 84.1 491.2 82.6 492.7 82.9 493.1 82.6 494.2 81.6 495.7 81.6 495.8 81.1 496.6 79.6 497.2 79.1 497.8 78.1 498.5 76.6 498.7 76.2 499.1 76.6 500.1 78.1 500.2 78.3 500.6 78.1 501.6 76.6 501.7 76.4 502 75.1 503.2 73.9 504.7 74.4 505.2 73.6 506 72.1 506.2 71.8 506.9 72.1 507.7 72.5 509.2 72.1 510.7 72.5 511 72.1 512.2 70.7 512.6 70.6 513.7 69.5 514.4 70.6 515.2 71.9 515.6 70.6 515.9 69.1 516.2 67.6 516.5 66.1 516.7 65.6 517.5 66.1 518.2 66.6 518.5 66.1 519.7 64.8 519.8 64.6 520.7 63.1 521.2 62.5 522.7 61.9 524.2 62.9 525.7 63 526.8 61.6 527.2 61 528.7 61.2 530.2 60.6 531.2 60.1 531.7 59.8 532.8 58.6 533.2 58.1 534.7 58.5 536.1 57.1 536.2 57 536.9 55.6 537.7 54.3 539.1 54.1 539.2 54.1 540.7 53.2 542.2 53.1 543.7 53.1 544.3 52.6 545.2 51.8 545.9 51.1 546.7 50.3 548.1 49.6 548.2 49.5 549.7 48.2 549.9 48.1 551.2 46.8 551.4 46.6 552.7 45.1 552.7 45.1 552.8 45.1 554.2 45.9 554.5 45.1 555.1 43.6 555.4 42.1 555.6 40.6 555.7 39.9 556.3 39.1 556.7 37.6 556.7 36.1 556.4 34.6 556 33.1 555.7 31.8 555.7 31.6 555.7 31.6Z" fill="#ffd9d9" fill-rule="evenodd" stroke="#ffd9d9" stroke-width="0.3"/><path d="M485.2 31.6 486.7 31.6 488.2 31.6 489.7 31.6 491.2 31.6 491.1 33.1 491.1 34.6 490.9 36.1 490.3 37.6 489.7 38.8 489.1 37.6 488.2 36.7 487.3 37.6 486.7 38.5 486.5 39.1 486.2 40.6 486 42.1 485.9 43.6 485.5 45.1 485.2 45.7 484 45.1 483.7 43.9 483.7 43.6 483.7 42.1 483.7 40.6 483.7 39.1 483.7 37.6 483.7 36.7 484.2 36.1 484.6 34.6 484.8 33.1 484.9 31.6 485.2 31.6ZM494.2 31.6 494.5 31.6 494.2 33 493 31.6 494.2 31.6ZM498.7 31.6 498.9 31.6 498.9 33.1 498.7 34.6 498.7 34.8 498.6 34.6 497.9 33.1 497.2 31.6 498.7 31.6ZM555.7 31.8 556 33.1 556.4 34.6 556.7 36.1 556.7 37.6 556.3 39.1 555.7 39.9 555.6 40.6 555.4 42.1 555.1 43.6 554.5 45.1 554.2 45.9 552.8 45.1 552.7 45.1 552.7 45.1 551.4 46.6 551.2 46.8 549.9 48.1 549.7 48.2 548.2 49.5 548.1 49.6 546.7 50.3 545.9 51.1 545.2 51.8 544.3 52.6 543.7 53.1 542.2 53.1 540.7 53.2 539.2 54.1 539.1 54.1 537.7 54.3 536.9 55.6 536.2 57 536.1 57.1 534.7 58.5 533.2 58.1 532.8 58.6 531.7 59.8 531.2 60.1 530.2 60.6 528.7 61.2 527.2 61 526.8 61.6 525.7 63 524.2 62.9 522.7 61.9 521.2 62.5 520.7 63.1 519.8 64.6 519.7 64.8 518.5 66.1 518.2 66.6 517.5 66.1 516.7 65.6 516.5 66.1 516.2 67.6 515.9 69.1 515.6 70.6 515.2 71.9 514.4 70.6 513.7 69.5 512.6 70.6 512.2 70.7 511 72.1 510.7 72.5 509.2 72.1 507.7 72.5 506.9 72.1 506.2 71.8 506 72.1 505.2 73.6 504.7 74.4 503.2 73.9 502 75.1 501.7 76.4 501.6 76.6 500.6 78.1 500.2 78.3 500.1 78.1 499.1 76.6 498.7 76.2 498.5 76.6 497.8 78.1 497.2 79.1 496.6 79.6 495.8 81.1 495.7 81.6 494.2 81.6 493.1 82.6 492.7 82.9 491.2 82.6 490.1 84.1 489.7 84.7 489.3 84.1 488.2 83.1 487.3 84.1 486.7 84.9 485.2 84.1 485.2 84.1 483.7 83.8 483.7 82.6 483.7 81.1 483.7 81.1 484 81.1 485.2 81.2 486.7 81.7 487.3 81.1 488.2 80.4 489.7 80.4 491.2 79.6 491.2 79.6 492.7 79.5 494 78.1 494.2 77.7 494.7 76.6 495.3 75.1 495.7 74.4 496.7 75.1 497.2 75.4 497.3 75.1 498.1 73.6 498.7 72.5 500.2 73 501 72.1 501.7 71.5 503.2 71 504.3 72.1 504.7 72.4 504.9 72.1 505.7 70.6 506.2 69.5 507.7 69.4 509.2 69.8 510.4 70.6 510.7 70.7 510.8 70.6 512.1 69.1 512.2 68.9 513 67.6 513.6 66.1 513.7 65.5 515.2 65.5 515.5 64.6 516.1 63.1 516.7 62.3 518.2 62.5 519.7 62 520 61.6 521.2 60.7 522.5 60.1 522.7 60 522.9 60.1 524.2 60.9 525.7 61.2 526.5 60.1 527.2 59 528.7 59.3 530.2 58.7 530.4 58.6 531.7 57.7 532.2 57.1 533.2 55.8 533.6 55.6 534.7 54.3 535.3 54.1 536.2 53.9 537.2 52.6 537.7 52 539.2 52.4 540.7 51.8 542.2 51.8 543.7 51.7 544.4 51.1 545.2 50.3 545.9 49.6 546.7 48.7 547.7 48.1 548.2 47.7 549.5 46.6 549.7 46.4 551 45.1 551.2 44.9 552.7 43.7 554.2 44 554.3 43.6 554.8 42.1 555.1 40.6 555.3 39.1 555.4 37.6 555.5 36.1 555.5 34.6 555.4 33.1 555.3 31.6 555.7 31.6 555.7 31.8Z" fill="#ffbfbf" fill-rule="evenodd" stroke="#ffbfbf" stroke-width="0.3"/><path d="M491.2 31.6 492.7 31.6 493 31.6 494.2 33 494.5 31.6 495.7 31.6 497.2 31.6 497.2 31.6 497.9 33.1 498.6 34.6 498.7 34.8 498.7 34.6 498.9 33.1 498.9 31.6 499.7 31.6 499.8 33.1 499.9 34.6 500.2 36 500.2 36.1 500.6 37.6 500.8 39.1 500.8 40.6 500.7 42.1 500.4 43.6 500.2 44.7 500 43.6 499.7 42.1 499.2 40.6 498.7 40 498.2 39.1 497.3 37.6 497.2 37.4 497 37.6 496 39.1 495.7 40.1 494.2 39.2 493.7 40.6 493.4 42.1 493.3 43.6 493.3 45.1 493.3 46.6 493.5 48.1 494 49.6 494.2 49.9 494.4 49.6 495 48.1 495.4 46.6 495.7 45.1 495.7 44.7 495.8 45.1 496.1 46.6 496.3 48.1 496.3 49.6 496.3 51.1 496.3 52.6 496.3 54.1 496.2 55.6 496.1 57.1 495.7 58.2 495.5 58.6 494.9 60.1 494.5 61.6 494.3 63.1 494.2 64.6 494.3 66.1 494.4 67.6 494.7 69.1 495.7 70.5 495.9 70.6 497.2 71.3 497.6 70.6 498.5 69.1 498.7 68.7 500.2 68.9 501.7 68.3 503.2 68.1 503.8 69.1 504.7 70.3 505.3 69.1 506 67.6 506.2 67.2 507.7 66.2 509.2 67.1 509.6 67.6 510.7 68.8 511.7 67.6 512.2 67 512.6 66.1 513.1 64.6 513.4 63.1 513.7 61.8 514.9 61.6 515.2 61.6 516.7 60.1 516.7 60.1 518.2 59.1 519.7 59.4 521.2 59 522 58.6 522.7 58.3 523.6 58.6 524.2 58.8 525.7 59.4 526.2 58.6 527.2 57.1 528.7 57.5 529.8 57.1 530.2 57 531.6 55.6 531.7 55.4 532.8 54.1 533.2 53.8 534 52.6 534.7 51.3 536.2 51.9 536.9 51.1 537.7 50.2 539.2 50.9 540.7 50.4 542.2 50.5 543.7 50.3 544.5 49.6 545.2 49 546 48.1 546.7 47.1 547.4 46.6 548.2 46.1 549.3 45.1 549.7 44.8 551.2 43.6 551.2 43.6 552.7 42.5 554.2 42.1 554.2 42.1 554.6 40.6 554.8 39.1 555 37.6 555.1 36.1 555.1 34.6 555 33.1 555 31.6 555.3 31.6 555.4 33.1 555.5 34.6 555.5 36.1 555.4 37.6 555.3 39.1 555.1 40.6 554.8 42.1 554.3 43.6 554.2 44 552.7 43.7 551.2 44.9 551 45.1 549.7 46.4 549.5 46.6 548.2 47.7 547.7 48.1 546.7 48.7 545.9 49.6 545.2 50.3 544.4 51.1 543.7 51.7 542.2 51.8 540.7 51.8 539.2 52.4 537.7 52 537.2 52.6 536.2 53.9 535.3 54.1 534.7 54.3 533.6 55.6 533.2 55.8 532.2 57.1 531.7 57.7 530.4 58.6 530.2 58.7 528.7 59.3 527.2 59 526.5 60.1 525.7 61.2 524.2 60.9 522.9 60.1 522.7 60 522.5 60.1 521.2 60.7 520 61.6 519.7 62 518.2 62.5 516.7 62.3 516.1 63.1 515.5 64.6 515.2 65.5 513.7 65.5 513.6 66.1 513 67.6 512.2 68.9 512.1 69.1 510.8 70.6 510.7 70.7 510.4 70.6 509.2 69.8 507.7 69.4 506.2 69.5 505.7 70.6 504.9 72.1 504.7 72.4 504.3 72.1 503.2 71 501.7 71.5 501 72.1 500.2 73 498.7 72.5 498.1 73.6 497.3 75.1 497.2 75.4 496.7 75.1 495.7 74.4 495.3 75.1 494.7 76.6 494.2 77.7 494 78.1 492.7 79.5 491.2 79.6 491.2 79.6 489.7 80.4 488.2 80.4 487.3 81.1 486.7 81.7 485.2 81.2 484 81.1 483.7 81.1 483.7 79.6 483.7 78.1 483.7 76.6 483.7 75.1 483.7 73.6 483.7 72.1 483.7 70.6 483.7 69.1 483.7 67.6 483.7 67.2 483.8 67.6 484.1 69.1 484.2 70.6 484.2 72.1 484.1 73.6 483.9 75.1 484.2 76.6 485.2 77.5 486.3 78.1 486.7 78.3 487 78.1 488.2 77.5 489.2 76.6 489.7 75.8 491.2 76.2 492.7 75.6 493 75.1 493.5 73.6 493.7 72.1 493.8 70.6 493.9 69.1 494 67.6 494.1 66.1 494.1 64.6 494 63.1 493.8 61.6 493.5 60.1 493.3 58.6 493.1 57.1 492.9 55.6 492.7 54.7 492.1 55.6 492.1 57.1 492 58.6 491.9 60.1 491.5 61.6 491.2 62.2 490.5 63.1 489.8 64.6 489.7 64.9 489.6 64.6 488.7 63.1 488.2 62.5 486.7 61.8 486.6 61.6 486.3 60.1 486.1 58.6 486.1 57.1 486 55.6 485.8 54.1 485.6 52.6 485.3 51.1 485.2 50.8 485.1 51.1 484.5 52.6 484 54.1 483.7 54.8 483.7 54.1 483.7 52.6 483.7 51.1 483.7 49.6 483.7 48.1 483.7 46.6 483.7 45.1 483.7 43.9 484 45.1 485.2 45.7 485.5 45.1 485.9 43.6 486 42.1 486.2 40.6 486.5 39.1 486.7 38.5 487.3 37.6 488.2 36.7 489.1 37.6 489.7 38.8 490.3 37.6 490.9 36.1 491.1 34.6 491.1 33.1 491.2 31.6 491.2 31.6ZM491.2 49.6 491 51.1 491.1 52.6 491.2 54.1 491.2 54.1 491.2 54.1 491.6 52.6 491.4 51.1 491.2 49.6 491.2 49.5 491.2 49.6ZM503.2 31.7 503.5 33.1 503.9 34.6 504.1 36.1 503.8 37.6 503.2 38.4 502.8 37.6 502.7 36.1 502.8 34.6 503 33.1 503.2 31.7Z" fill="#ffa6a6" fill-rule="evenodd" stroke="#ffa6a6" stroke-width="0.3"/><path d="M500.2 31.6 501.7 31.6 503.2 31.6 504.7 31.6 506.2 31.6 507.3 31.6 507.3 33.1 507.3 34.6 507.3 36.1 507.1 37.6 507 39.1 506.7 40.6 506.2 42.1 506.2 42.2 505.4 43.6 504.7 44.6 503.2 43.8 502.8 45.1 502.6 46.6 502.4 48.1 502.3 49.6 502.1 51.1 501.7 52.5 501.7 52.6 500.2 53.8 500 54.1 499.6 55.6 499.5 57.1 499.5 58.6 499.5 60.1 499.4 61.6 499.4 63.1 499.6 64.6 500.2 65.5 501.7 65 503.2 64.9 503.8 66.1 504.6 67.6 504.7 67.8 504.8 67.6 505.4 66.1 506.1 64.6 506.2 64.1 506.6 63.1 507 61.6 507.3 60.1 507.5 58.6 507.7 57.6 507.9 58.6 508.2 60.1 508.6 61.6 509.2 62.9 509.3 63.1 509.8 64.6 510.5 66.1 510.7 66.3 510.9 66.1 512.2 64.6 512.2 64.6 512.5 63.1 512.8 61.6 513.1 60.1 513.5 58.6 513.7 57.9 515.2 58.6 516.7 58.2 517.7 57.1 518.2 56.4 519.5 57.1 519.7 57.2 521.2 57.3 521.7 57.1 522.7 56.6 524.2 56.7 524.8 57.1 525.7 57.6 526 57.1 527 55.6 527.2 55.2 528.4 55.6 528.7 55.7 528.9 55.6 530.2 55 530.9 54.1 531.7 52.6 531.7 52.6 533.2 51.8 533.6 51.1 534.4 49.6 534.7 49.2 535.3 49.6 536.2 50.2 536.7 49.6 537.7 48.6 539.2 49.6 540.7 49.1 542.2 49.2 543.7 48.9 544.6 48.1 545.2 47.7 546 46.6 546.7 45.4 547.2 45.1 548.2 44.6 549.5 43.6 549.7 43.4 551.2 42.4 551.6 42.1 552.7 41.3 553.8 40.6 554.2 40 554.4 39.1 554.6 37.6 554.7 36.1 554.7 34.6 554.7 33.1 554.6 31.6 555 31.6 555 33.1 555.1 34.6 555.1 36.1 555 37.6 554.8 39.1 554.6 40.6 554.2 42.1 554.2 42.1 552.7 42.5 551.2 43.6 551.2 43.6 549.7 44.8 549.3 45.1 548.2 46.1 547.4 46.6 546.7 47.1 546 48.1 545.2 49 544.5 49.6 543.7 50.3 542.2 50.5 540.7 50.4 539.2 50.9 537.7 50.2 536.9 51.1 536.2 51.9 534.7 51.3 534 52.6 533.2 53.8 532.8 54.1 531.7 55.4 531.6 55.6 530.2 57 529.8 57.1 528.7 57.5 527.2 57.1 526.2 58.6 525.7 59.4 524.2 58.8 523.6 58.6 522.7 58.3 522 58.6 521.2 59 519.7 59.4 518.2 59.1 516.7 60.1 516.7 60.1 515.2 61.6 514.9 61.6 513.7 61.8 513.4 63.1 513.1 64.6 512.6 66.1 512.2 67 511.7 67.6 510.7 68.8 509.6 67.6 509.2 67.1 507.7 66.2 506.2 67.2 506 67.6 505.3 69.1 504.7 70.3 503.8 69.1 503.2 68.1 501.7 68.3 500.2 68.9 498.7 68.7 498.5 69.1 497.6 70.6 497.2 71.3 495.9 70.6 495.7 70.5 494.7 69.1 494.4 67.6 494.3 66.1 494.2 64.6 494.3 63.1 494.5 61.6 494.9 60.1 495.5 58.6 495.7 58.2 496.1 57.1 496.2 55.6 496.3 54.1 496.3 52.6 496.3 51.1 496.3 49.6 496.3 48.1 496.1 46.6 495.8 45.1 495.7 44.7 495.7 45.1 495.4 46.6 495 48.1 494.4 49.6 494.2 49.9 494 49.6 493.5 48.1 493.3 46.6 493.3 45.1 493.3 43.6 493.4 42.1 493.7 40.6 494.2 39.2 495.7 40.1 496 39.1 497 37.6 497.2 37.4 497.3 37.6 498.2 39.1 498.7 40 499.2 40.6 499.7 42.1 500 43.6 500.2 44.7 500.4 43.6 500.7 42.1 500.8 40.6 500.8 39.1 500.6 37.6 500.2 36.1 500.2 36 499.9 34.6 499.8 33.1 499.7 31.6 500.2 31.6ZM503 33.1 502.8 34.6 502.7 36.1 502.8 37.6 503.2 38.4 503.8 37.6 504.1 36.1 503.9 34.6 503.5 33.1 503.2 31.7 503 33.1ZM495.6 63.1 495.4 64.6 495.5 66.1 495.7 66.8 496.9 66.1 497.2 64.6 497.2 64.6 497.2 64.6 496.2 63.1 495.7 62.8 495.6 63.1ZM509.2 31.6 509.7 31.6 509.6 33.1 509.4 34.6 509.2 36.1 509.2 36.1 509.2 36.1 508.7 34.6 508.4 33.1 508.3 31.6 509.2 31.6ZM512.2 31.6 512.6 31.6 512.5 33.1 512.4 34.6 512.2 35.5 511.9 34.6 511.7 33.1 511.6 31.6 512.2 31.6ZM491.2 49.5 491.2 49.6 491.4 51.1 491.6 52.6 491.2 54.1 491.2 54.1 491.2 54.1 491.1 52.6 491 51.1 491.2 49.6 491.2 49.5ZM485.2 50.8 485.3 51.1 485.6 52.6 485.8 54.1 486 55.6 486.1 57.1 486.1 58.6 486.3 60.1 486.6 61.6 486.7 61.8 488.2 62.5 488.7 63.1 489.6 64.6 489.7 64.9 489.8 64.6 490.5 63.1 491.2 62.2 491.5 61.6 491.9 60.1 492 58.6 492.1 57.1 492.1 55.6 492.7 54.7 492.9 55.6 493.1 57.1 493.3 58.6 493.5 60.1 493.8 61.6 494 63.1 494.1 64.6 494.1 66.1 494 67.6 493.9 69.1 493.8 70.6 493.7 72.1 493.5 73.6 493 75.1 492.7 75.6 491.2 76.2 489.7 75.8 489.2 76.6 488.2 77.5 487 78.1 486.7 78.3 486.3 78.1 485.2 77.5 484.2 76.6 483.9 75.1 484.1 73.6 484.2 72.1 484.2 70.6 484.1 69.1 483.8 67.6 483.7 67.2 483.7 66.1 483.7 64.6 483.7 63.1 483.7 61.6 483.7 60.1 483.7 58.6 483.7 57.1 483.7 55.6 483.7 54.8 484 54.1 484.5 52.6 485.1 51.1 485.2 50.8Z" fill="#ff8c8c" fill-rule="evenodd" stroke="#ff8c8c" stroke-width="0.3"/><path d="M507.7 31.6 508.3 31.6 508.4 33.1 508.7 34.6 509.2 36.1 509.2 36.1 509.2 36.1 509.4 34.6 509.6 33.1 509.7 31.6 510.7 31.6 511.6 31.6 511.7 33.1 511.9 34.6 512.2 35.5 512.4 34.6 512.5 33.1 512.6 31.6 513.4 31.6 513.4 33.1 513.2 34.6 513 36.1 512.7 37.6 512.2 39 511 37.6 510.7 36.5 510.5 37.6 510.3 39.1 510.2 40.6 510.1 42.1 510.1 43.6 510.2 45.1 510.5 46.6 510.7 48.1 510.7 49.2 510.7 49.6 510.7 49.6 510.4 51.1 509.9 52.6 509.4 54.1 509.4 55.6 510.1 57.1 510.7 58 511.3 58.6 512.2 59.5 512.3 58.6 512.6 57.1 513 55.6 513.3 54.1 513.6 52.6 513.7 52.4 513.7 52.6 514 54.1 514.6 55.6 515.2 56.2 516.7 56.2 517.1 55.6 517.9 54.1 518.2 53.5 518.8 54.1 519.7 54.8 521.2 55.5 522.7 54.4 523.6 54.1 524.2 53.6 524.4 54.1 525.6 55.6 525.7 55.7 525.7 55.6 526.5 54.1 527.2 52.7 528.7 53 529.6 52.6 530.2 52.4 530.8 51.1 531.7 49.6 531.7 49.5 532.1 49.6 533.2 49.8 533.3 49.6 534.2 48.1 534.7 47.6 535.5 48.1 536.2 48.6 536.7 48.1 537.7 47.1 539 48.1 539.2 48.3 539.8 48.1 540.7 47.9 542.2 47.8 543.7 47.4 544.9 46.6 545.2 46.4 546 45.1 546.6 43.6 546.7 43.4 548.2 43.2 549.7 42.1 549.8 42.1 551.2 41.2 552 40.6 552.7 40 553.5 39.1 554.2 37.6 554.2 37.6 554.4 36.1 554.4 34.6 554.3 33.1 554.3 31.6 554.6 31.6 554.7 33.1 554.7 34.6 554.7 36.1 554.6 37.6 554.4 39.1 554.2 40 553.8 40.6 552.7 41.3 551.6 42.1 551.2 42.4 549.7 43.4 549.5 43.6 548.2 44.6 547.2 45.1 546.7 45.4 546 46.6 545.2 47.7 544.6 48.1 543.7 48.9 542.2 49.2 540.7 49.1 539.2 49.6 537.7 48.6 536.7 49.6 536.2 50.2 535.3 49.6 534.7 49.2 534.4 49.6 533.6 51.1 533.2 51.8 531.7 52.6 531.7 52.6 530.9 54.1 530.2 55 528.9 55.6 528.7 55.7 528.4 55.6 527.2 55.2 527 55.6 526 57.1 525.7 57.6 524.8 57.1 524.2 56.7 522.7 56.6 521.7 57.1 521.2 57.3 519.7 57.2 519.5 57.1 518.2 56.4 517.7 57.1 516.7 58.2 515.2 58.6 513.7 57.9 513.5 58.6 513.1 60.1 512.8 61.6 512.5 63.1 512.2 64.6 512.2 64.6 510.9 66.1 510.7 66.3 510.5 66.1 509.8 64.6 509.3 63.1 509.2 62.9 508.6 61.6 508.2 60.1 507.9 58.6 507.7 57.6 507.5 58.6 507.3 60.1 507 61.6 506.6 63.1 506.2 64.1 506.1 64.6 505.4 66.1 504.8 67.6 504.7 67.8 504.6 67.6 503.8 66.1 503.2 64.9 501.7 65 500.2 65.5 499.6 64.6 499.4 63.1 499.4 61.6 499.5 60.1 499.5 58.6 499.5 57.1 499.6 55.6 500 54.1 500.2 53.8 501.7 52.6 501.7 52.5 502.1 51.1 502.3 49.6 502.4 48.1 502.6 46.6 502.8 45.1 503.2 43.8 504.7 44.6 505.4 43.6 506.2 42.2 506.2 42.1 506.7 40.6 507 39.1 507.1 37.6 507.3 36.1 507.3 34.6 507.3 33.1 507.3 31.6 507.7 31.6ZM519.7 31.6 519.7 31.6 519.7 33.1 519.7 33.4 519.7 33.1 519.6 31.6 519.7 31.6ZM516.7 38.5 516.8 39.1 516.8 40.6 516.7 41.5 516.6 40.6 516.7 39.1 516.7 38.5ZM495.7 62.8 496.2 63.1 497.2 64.6 497.2 64.6 497.2 64.6 496.9 66.1 495.7 66.8 495.5 66.1 495.4 64.6 495.6 63.1 495.7 62.8Z" fill="#ff7373" fill-rule="evenodd" stroke="#ff7373" stroke-width="0.3"/><path d="M513.7 31.6 515.2 31.6 516.7 31.6 518.2 31.6 519.6 31.6 519.7 33.1 519.7 33.4 519.7 33.1 519.7 31.6 521.1 31.6 521 33.1 520.9 34.6 520.8 36.1 520.7 37.6 520.5 39.1 520.4 40.6 520.3 42.1 520 43.6 519.7 45.1 519.7 45.4 519.6 45.1 518.4 43.6 518.2 43.4 518.1 43.6 517.8 45.1 517.7 46.6 517.8 48.1 518.2 49.2 519.7 48.8 520 49.6 521.1 51.1 521.2 51.3 521.3 51.1 522.5 49.6 522.7 49.3 523.5 48.1 524.2 47.2 524.4 48.1 524.8 49.6 525.3 51.1 525.7 52.2 526.2 51.1 527 49.6 527.2 49.3 528.4 48.1 528.7 47.5 529.4 48.1 530.2 48.4 530.4 48.1 531.7 46.7 533.2 47.6 534 46.6 534.7 46 535.4 46.6 536.2 47.1 536.7 46.6 537.7 45.6 538.7 46.6 539.2 47 540.7 46.6 540.7 46.6 542.2 46.4 543.7 45.6 544.8 45.1 545.2 44.9 545.8 43.6 546.4 42.1 546.7 41.4 548.2 41.8 549.7 40.8 550 40.6 551.2 40 552.2 39.1 552.7 38.6 553.3 37.6 553.8 36.1 553.8 34.6 553.7 33.1 553.6 31.6 554.2 31.6 554.3 31.6 554.3 33.1 554.4 34.6 554.4 36.1 554.2 37.6 554.2 37.6 553.5 39.1 552.7 40 552 40.6 551.2 41.2 549.8 42.1 549.7 42.1 548.2 43.2 546.7 43.4 546.6 43.6 546 45.1 545.2 46.4 544.9 46.6 543.7 47.4 542.2 47.8 540.7 47.9 539.8 48.1 539.2 48.3 539 48.1 537.7 47.1 536.7 48.1 536.2 48.6 535.5 48.1 534.7 47.6 534.2 48.1 533.3 49.6 533.2 49.8 532.1 49.6 531.7 49.5 531.7 49.6 530.8 51.1 530.2 52.4 529.6 52.6 528.7 53 527.2 52.7 526.5 54.1 525.7 55.6 525.7 55.7 525.6 55.6 524.4 54.1 524.2 53.6 523.6 54.1 522.7 54.4 521.2 55.5 519.7 54.8 518.8 54.1 518.2 53.5 517.9 54.1 517.1 55.6 516.7 56.2 515.2 56.2 514.6 55.6 514 54.1 513.7 52.6 513.7 52.4 513.6 52.6 513.3 54.1 513 55.6 512.6 57.1 512.3 58.6 512.2 59.5 511.3 58.6 510.7 58 510.1 57.1 509.4 55.6 509.4 54.1 509.9 52.6 510.4 51.1 510.7 49.6 510.7 49.6 510.7 49.2 510.7 48.1 510.5 46.6 510.2 45.1 510.1 43.6 510.1 42.1 510.2 40.6 510.3 39.1 510.5 37.6 510.7 36.5 511 37.6 512.2 39 512.7 37.6 513 36.1 513.2 34.6 513.4 33.1 513.4 31.6 513.7 31.6ZM516.7 39.1 516.6 40.6 516.7 41.5 516.8 40.6 516.8 39.1 516.7 38.5 516.7 39.1ZM514.7 42.1 514.4 43.6 514.4 45.1 514.5 46.6 514.7 48.1 514.8 49.6 514.9 51.1 515.2 52.6 515.2 52.7 515.3 52.6 515.8 51.1 515.9 49.6 515.8 48.1 515.7 46.6 515.6 45.1 515.4 43.6 515.3 42.1 515.2 41.3 514.7 42.1ZM512 43.6 511.9 45.1 512 46.6 512.2 47.7 512.6 46.6 512.9 45.1 512.9 43.6 512.2 42.9 512 43.6ZM528.7 39.7 528.7 40.6 528.7 42.1 528.7 42.1 528.7 42.1 528.6 40.6 528.7 39.7Z" fill="#ff5959" fill-rule="evenodd" stroke="#ff5959" stroke-width="0.3"/><path d="M521.2 31.6 522.7 31.6 524.2 31.6 525.5 31.6 525.7 32.9 525.7 33.1 526.3 34.6 526.9 36.1 527.2 36.6 527.3 36.1 527.7 34.6 528 33.1 528.3 31.6 528.7 31.6 528.9 31.6 529.1 33.1 529.4 34.6 529.8 36.1 530 37.6 530.1 39.1 530.1 40.6 530.2 42 530.3 40.6 530.4 39.1 530.5 37.6 530.7 36.1 530.9 34.6 531 33.1 531.1 31.6 531.7 31.6 533.1 31.6 533.2 33 533.2 33.1 533.3 34.6 533.4 36.1 533.5 37.6 533.5 39.1 533.5 40.6 533.5 42.1 533.6 43.6 534.7 43.9 535.7 45.1 536.2 45.5 536.6 45.1 537.5 43.6 537.7 43.2 537.8 43.6 538.7 45.1 539.2 45.6 540.6 45.1 540.7 45 542.2 44.4 542.9 43.6 543.5 42.1 543.7 41.2 544.4 42.1 545.2 42.5 545.3 42.1 545.9 40.6 546.7 39.5 548.2 40.3 549.7 39.4 550.3 39.1 551.2 38.7 552.3 37.6 552.7 36.9 553 36.1 553 34.6 552.9 33.1 552.9 31.6 553.6 31.6 553.7 33.1 553.8 34.6 553.8 36.1 553.3 37.6 552.7 38.6 552.2 39.1 551.2 40 550 40.6 549.7 40.8 548.2 41.8 546.7 41.4 546.4 42.1 545.8 43.6 545.2 44.9 544.8 45.1 543.7 45.6 542.2 46.4 540.7 46.6 540.7 46.6 539.2 47 538.7 46.6 537.7 45.6 536.7 46.6 536.2 47.1 535.4 46.6 534.7 46 534 46.6 533.2 47.6 531.7 46.7 530.4 48.1 530.2 48.4 529.4 48.1 528.7 47.5 528.4 48.1 527.2 49.3 527 49.6 526.2 51.1 525.7 52.2 525.3 51.1 524.8 49.6 524.4 48.1 524.2 47.2 523.5 48.1 522.7 49.3 522.5 49.6 521.3 51.1 521.2 51.3 521.1 51.1 520 49.6 519.7 48.8 518.2 49.2 517.8 48.1 517.7 46.6 517.8 45.1 518.1 43.6 518.2 43.4 518.4 43.6 519.6 45.1 519.7 45.4 519.7 45.1 520 43.6 520.3 42.1 520.4 40.6 520.5 39.1 520.7 37.6 520.8 36.1 520.9 34.6 521 33.1 521.1 31.6 521.2 31.6ZM528.6 40.6 528.7 42.1 528.7 42.1 528.7 42.1 528.7 40.6 528.7 39.7 528.6 40.6ZM525.6 45.1 525.7 45.7 526 45.1 525.7 44.3 525.6 45.1ZM515.2 41.3 515.3 42.1 515.4 43.6 515.6 45.1 515.7 46.6 515.8 48.1 515.9 49.6 515.8 51.1 515.3 52.6 515.2 52.7 515.2 52.6 514.9 51.1 514.8 49.6 514.7 48.1 514.5 46.6 514.4 45.1 514.4 43.6 514.7 42.1 515.2 41.3ZM512.2 42.9 512.9 43.6 512.9 45.1 512.6 46.6 512.2 47.7 512 46.6 511.9 45.1 512 43.6 512.2 42.9Z" fill="#ff4040" fill-rule="evenodd" stroke="#ff4040" stroke-width="0.3"/><path d="M525.7 31.6 527.2 31.6 528.3 31.6 528 33.1 527.7 34.6 527.3 36.1 527.2 36.6 526.9 36.1 526.3 34.6 525.7 33.1 525.7 32.9 525.5 31.6 525.7 31.6ZM530.2 31.6 531.1 31.6 531 33.1 530.9 34.6 530.7 36.1 530.5 37.6 530.4 39.1 530.3 40.6 530.2 42 530.1 40.6 530.1 39.1 530 37.6 529.8 36.1 529.4 34.6 529.1 33.1 528.9 31.6 530.2 31.6ZM533.2 31.6 534.7 31.6 536.2 31.6 537.2 31.6 536.8 33.1 536.2 33.6 535.4 34.6 534.9 36.1 534.8 37.6 535 39.1 535.4 40.6 536 42.1 536.2 42.6 536.4 42.1 536.9 40.6 537.3 39.1 537.7 37.6 537.7 37.5 537.7 37.6 538.2 39.1 538.6 40.6 539 42.1 539.2 42.7 539.6 42.1 540.2 40.6 540.7 39.1 540.7 39.1 540.7 39.1 542.2 40.5 542.7 39.1 543.1 37.6 543.4 36.1 543.4 34.6 543.4 33.1 543.4 31.6 543.7 31.6 544.2 31.6 544.2 33.1 544.1 34.6 544.3 36.1 544.9 37.6 545.2 38.1 546.5 37.6 546.7 37.6 546.7 37.6 548.2 38.6 549.7 37.9 550.4 37.6 551.2 37.2 551.9 36.1 552.1 34.6 551.9 33.1 551.8 31.6 552.7 31.6 552.9 31.6 552.9 33.1 553 34.6 553 36.1 552.7 36.9 552.3 37.6 551.2 38.7 550.3 39.1 549.7 39.4 548.2 40.3 546.7 39.5 545.9 40.6 545.3 42.1 545.2 42.5 544.4 42.1 543.7 41.2 543.5 42.1 542.9 43.6 542.2 44.4 540.7 45 540.6 45.1 539.2 45.6 538.7 45.1 537.8 43.6 537.7 43.2 537.5 43.6 536.6 45.1 536.2 45.5 535.7 45.1 534.7 43.9 533.6 43.6 533.5 42.1 533.5 40.6 533.5 39.1 533.5 37.6 533.4 36.1 533.3 34.6 533.2 33.1 533.2 33 533.1 31.6 533.2 31.6ZM525.7 44.3 526 45.1 525.7 45.7 525.6 45.1 525.7 44.3Z" fill="#ff2626" fill-rule="evenodd" stroke="#ff2626" stroke-width="0.3"/><path d="M537.7 31.6 539.2 31.6 540.7 31.6 542.2 31.6 543.4 31.6 543.4 33.1 543.4 34.6 543.4 36.1 543.1 37.6 542.7 39.1 542.2 40.5 540.7 39.1 540.7 39.1 540.7 39.1 540.2 40.6 539.6 42.1 539.2 42.7 539 42.1 538.6 40.6 538.2 39.1 537.7 37.6 537.7 37.5 537.7 37.6 537.3 39.1 536.9 40.6 536.4 42.1 536.2 42.6 536 42.1 535.4 40.6 535 39.1 534.8 37.6 534.9 36.1 535.4 34.6 536.2 33.6 536.8 33.1 537.2 31.6 537.7 31.6ZM545.2 31.6 546.7 31.6 547.8 31.6 547.6 33.1 547.4 34.6 547.8 36.1 548.2 36.5 549.1 36.1 549.7 35.4 550.1 34.6 549.8 33.1 549.7 32.1 549.4 31.6 549.7 31.6 551.2 31.6 551.8 31.6 551.9 33.1 552.1 34.6 551.9 36.1 551.2 37.2 550.4 37.6 549.7 37.9 548.2 38.6 546.7 37.6 546.7 37.6 546.5 37.6 545.2 38.1 544.9 37.6 544.3 36.1 544.1 34.6 544.2 33.1 544.2 31.6 545.2 31.6Z" fill="#ff0d0d" fill-rule="evenodd" stroke="#ff0d0d" stroke-width="0.3"/><path d="M548.2 31.6 549.4 31.6 549.7 32.1 549.8 33.1 550.1 34.6 549.7 35.4 549.1 36.1 548.2 36.5 547.8 36.1 547.4 34.6 547.6 33.1 547.8 31.6 548.2 31.6Z" fill="#ff0000" fill-rule="evenodd" stroke="#ff0000" stroke-width="0.3"/><path d="M614.2 109 614 109.6 613.9 111.1 614 112.6 614.2 113.2M614.2 160.2 613.5 160.6 612.9 162.1 612.8 163.6M612.1 163.6 611.2 163 610.6 162.1 610.1 160.6 609.9 159.1 609.7 157.6 609.7 157.5 609.7 157.6 609.5 159.1 609.4 160.6 609.4 162.1 609.4 163.6M609.7 61.5 609.7 61.6 609.5 63.1 609.5 64.6 609.5 66.1 609.6 67.6 609.7 69.1 609.7 69.6 609.8 69.1 609.9 67.6 610 66.1 610 64.6 609.9 63.1 609.7 61.6 609.7 61.5M608.2 76.8 608 78.1 608.2 79.5 608.3 78.1 608.2 76.8M605.2 83.9 605.1 84.1 605 85.6 605 87.1 605 88.6 605 90.1 604.9 91.6 604.9 93.1 605 94.6 605.2 96.1 605.2 96.2 605.2 96.1 605.5 94.6 605.6 93.1 605.8 91.6 606.3 90.1 606.7 89.4 606.8 88.6 606.9 87.1 606.9 85.6 606.9 84.1 606.7 83 605.2 83.9M606.7 106.4 606.4 106.6 605.2 107.6 605 108.1 604.6 109.6 604.4 111.1 604.4 112.6 604.3 114.1 604.4 115.6 604.4 117.1 604.5 118.6 604.6 120.1 604.8 121.6 605.1 123.1 605.2 123.7 605.4 123.1 605.7 121.6 605.9 120.1 606 118.6 606.1 117.1 606.3 115.6 606.7 114.4 607.2 115.6 607.2 117.1 607.2 118.6 607.2 120.1 607.2 121.6 607.3 123.1 608.2 124.4 609 123.1 609.4 121.6 609.6 120.1 609.7 118.6 609.5 117.1 609.2 115.6 608.7 114.1 608.3 112.6 608.2 112 608 111.1 607.8 109.6 607.4 108.1 606.8 106.6 606.7 106.4M605.2 128.7 604.8 129.1 603.7 130 603.7 130.6 603.6 132.1 603.5 133.6 603.4 135.1 603.3 136.6 603.3 138.1 603.4 139.6 603.5 141.1 603.7 142.6 603.7 142.7 603.7 142.6 604.4 141.1 605.1 139.6 605.2 139.4 606.7 138.3 606.8 138.1 607 136.6 607.1 135.1 607.1 133.6 607.1 132.1 607 130.6 606.8 129.1 606.7 127.9 605.2 128.7M612.7 134.4 612.6 135.1 612.6 136.6 612.7 137.6 612.7 136.6 612.7 135.1 612.7 134.4M612.7 142 612.7 142.6 612.7 144.1 612.7 144.5 612.8 144.1 612.7 142.6 612.7 142M600.6 31.6 600.7 31.9 600.7 31.6M614.2 63.2 613.6 64.6 613.1 66.1 612.8 67.6 612.7 68.6 612.5 67.6 612.2 66.1 611.8 64.6 611.5 63.1 611.3 61.6 611.2 61 611 60.1 610.8 58.6 610.5 57.1 610.2 55.6 609.8 54.1 609.7 53.6 609.5 54.1 608.2 55.6 608.2 55.6 607.4 57.1 607.1 58.6 607 60.1 606.7 61.6 606.7 61.7 606.7 61.6 606.5 60.1 606.4 58.6 606.1 57.1 605.2 55.7 604.6 57.1 604.4 58.6 604.4 60.1 604.4 61.6 604.4 63.1 604.4 64.6 604.4 66.1 604.5 67.6 604.6 69.1 604.9 70.6 605.2 71.9 606.1 70.6 606.4 69.1 606.6 67.6 606.7 66.6 606.9 66.1 607.3 64.6 608.2 63.7 608.3 64.6 608.5 66.1 608.5 67.6 608.5 69.1 608.3 70.6 608.2 71.1 607.1 72.1 606.7 72.8 606.3 73.6 605.9 75.1 605.6 76.6 605.2 78.1 605.2 78.1 604.2 79.6 603.7 80.6 603.6 81.1 603.3 82.6 603 84.1 602.6 85.6 602.4 87.1 602.5 88.6 602.8 90.1 603.1 91.6 603.4 93.1 603.6 94.6 603.7 95.4 603.7 96.1 603.8 97.6 603.9 99.1 603.9 100.6 603.7 102.1 603.7 102.1 602.8 103.6 602.2 104.3 601.5 103.6 600.7 103.2 600.3 103.6 600.1 105.1 600.2 106.6 600.3 108.1 600.5 109.6 600.7 110.9 600.8 111.1 601 112.6 600.7 113.7 600.6 114.1 600 115.6 599.5 117.1 599.2 118.5 599 117.1 598.7 115.6 598 114.1 597.7 113.6 597 112.6 596.6 111.1 596.3 109.6 596.2 109.2 596.1 109.6 595.9 111.1 595.8 112.6 595.9 114.1 596.2 115.3 596.3 115.6 596.4 117.1 596.4 118.6 596.2 120.1 594.7 119.7 594.7 120.1 594.7 121.6 594.7 121.8 595.1 123.1 595.4 124.6 595.7 126.1 595.9 127.6 596.1 129.1 596.2 129.7 596.4 129.1 596.8 127.6 597.6 126.1 597.7 126 597.8 126.1 598.3 127.6 598.4 129.1 598.6 130.6 598.7 132.1 598.8 133.6 598.9 135.1 599 136.6 599 138.1 599 139.6 599 141.1 598.9 142.6 598.8 144.1 598.8 145.6 598.7 147.1 598.7 148.6 598.6 150.1 598.4 151.6 598.2 153.1 598 154.6 597.9 156.1 598.1 157.6 598.6 159.1 599.1 160.6 599.2 161.2 599.3 162.1 599.4 163.6M614.2 136.3 613.9 135.1 613.7 133.6 613.5 132.1 613.4 130.6 613.4 129.1 613.4 127.6 613.3 126.1 613.2 124.6 612.9 123.1 612.7 122.3 612.4 121.6 612 120.1 611.8 118.6 611.6 117.1 611.3 115.6 611.2 115.1 611.1 114.1 610.9 112.6 610.9 111.1 611 109.6 611.1 108.1 611.2 106.6 611.2 105.3 611.3 106.6 611.3 108.1 611.4 109.6 611.5 111.1 611.6 112.6 612.5 114.1 612.7 114.1 613.1 115.6 613.7 117.1 614.2 117.8M614.2 156.5 613.5 156.1 612.7 155.5 611.9 156.1 611.2 157 611 156.1 610.9 154.6 610.8 153.1 610.5 151.6 609.7 150.7 609.3 151.6 608.8 153.1 608.6 154.6 608.3 156.1 608.2 156.8 608.1 157.6 608 159.1 607.9 160.6 607.8 162.1 607.8 163.6M584.6 163.6 584.3 162.1 584.2 161.7 584.2 162.1 584.1 163.6M587.7 163.6 587.7 162.1 587.7 160.6 587.6 159.1 587.5 157.6 587.2 156.2 586.8 157.6 586.5 159.1 586.3 160.6 586.2 162.1 586.1 163.6M593.9 163.6 593.6 162.1 593.3 160.6 593.2 160.1 593.1 160.6 592.9 162.1 592.9 163.6M596.3 163.6 596.2 162.4 595.9 163.6M605.4 163.6 605.3 162.1 605.3 160.6 605.2 159.1 605.2 157.6 605.3 156.1 605.5 154.6 605.6 153.1 605.7 151.6 605.7 150.1 605.6 148.6 605.4 147.1 605.4 145.6 606.7 144.2 606.9 144.1 607.7 142.6 607.9 141.1 607.9 139.6 608 138.1 608 136.6 608 135.1 608 133.6 607.9 132.1 607.9 130.6 607.9 129.1 608.2 127.7 609 129.1 609.2 130.6 609.3 132.1 609.2 133.6 609 135.1 608.9 136.6 608.9 138.1 609 139.6 609.4 141.1 609.7 141.5 610.4 141.1 611.2 140.7 611.3 141.1 611.4 142.6 611.4 144.1 611.4 145.6 611.4 147.1 611.5 148.6 612.5 150.1 612.7 150.2 612.7 150.1 613.5 148.6 614 147.1 614.2 146.4M612.7 46.8 612.5 48.1 612.5 49.6 612.7 50.2 612.8 49.6 612.8 48.1 612.7 46.8M599.2 68.4 599 69.1 598.7 70.6 598.6 72.1 598.4 73.6 598 75.1 597.7 75.7 597.2 76.6 597.2 78.1 597.3 79.6 597.4 81.1 597.6 82.6 597.7 83.2 597.8 82.6 598.1 81.1 598.5 79.6 599.2 78.2 599.4 78.1 600 76.6 599.9 75.1 599.8 73.6 599.6 72.1 599.5 70.6 599.3 69.1 599.2 68.4M612.7 75.2 613 76.6 613.1 78.1 613.1 79.6 612.8 81.1 612.7 81.7 612.6 81.1 612.5 79.6 612.5 78.1 612.6 76.6 612.7 75.2M609.7 81.5 610 82.6 610.2 84.1 610.4 85.6 610.4 87.1 610.5 88.6 610.5 90.1 610.5 91.6 610.4 93.1 610.4 94.6 610.3 96.1 610.3 97.6 610.1 99.1 609.7 99.9 608.2 99.4 608 99.1 608.2 98.7 608.3 97.6 608.4 96.1 608.5 94.6 608.5 93.1 608.6 91.6 608.7 90.1 608.8 88.6 608.9 87.1 609 85.6 609.2 84.1 609.5 82.6 609.7 81.5M599.2 93.5 599 94.6 598.8 96.1 598.7 97.6 598.6 99.1 598.7 100.6 599.1 102.1 599.2 102.2 599.3 102.1 599.6 100.6 599.7 99.1 599.7 97.6 599.6 96.1 599.4 94.6 599.2 93.5M612.7 93.8 612.9 94.6 613.1 96.1 613.3 97.6 613.4 99.1 613.5 100.6 613.5 102.1 613.3 103.6 612.9 105.1 612.7 105.5 611.3 105.1 611.3 103.6 611.4 102.1 611.6 100.6 611.8 99.1 612 97.6 612.2 96.1 612.5 94.6 612.7 93.8M602.2 120.9 602.5 121.6 602.8 123.1 602.9 124.6 602.9 126.1 602.9 127.6 602.9 129.1 602.8 130.6 602.7 132.1 602.6 133.6 602.5 135.1 602.4 136.6 602.5 138.1 602.7 139.6 602.9 141.1 603.1 142.6 603.3 144.1 603.5 145.6 603.7 147.1 603.7 147.3 604.5 148.6 604.4 150.1 604.2 151.6 603.9 153.1 603.7 153.7 603.5 154.6 603.2 156.1 602.5 157.6 602.2 158.1 600.7 158.8 600 157.6 599.8 156.1 599.8 154.6 599.7 153.1 599.7 151.6 599.7 150.1 599.7 148.6 599.7 147.1 599.7 145.6 599.7 144.1 599.8 142.6 599.9 141.1 600 139.6 600.2 138.1 600.3 136.6 600.3 135.1 600.3 133.6 600.2 132.1 600.2 130.6 600.3 129.1 600.3 127.6 600.6 126.1 600.7 126 601 124.6 601.4 123.1 601.9 121.6 602.2 120.9M611.2 124.4 611.3 124.6 611.9 126.1 612 127.6 611.9 129.1 611.7 130.6 611.5 132.1 611.2 133.2 610.3 132.1 610.2 130.6 610.2 129.1 610.4 127.6 610.7 126.1 611.2 124.6 611.2 124.4M599.2 31.6 599.2 32.6 599.2 33.1 599.2 34.6 599.2 36.1 599.2 37.1 600.7 36.4 600.8 36.1 601 34.6 601.2 33.1 601.2 31.6M603.2 31.6 603.3 33.1 603.4 34.6 603.6 36.1 603.7 36.8 604.3 37.6 604.4 39.1 604.5 40.6 604.5 42.1 604.6 43.6 604.6 45.1 604.7 46.6 604.7 48.1 604.6 49.6 604 51.1 603.7 51.6 603.5 52.6 603.2 54.1 603.1 55.6 603 57.1 602.9 58.6 602.9 60.1 603 61.6 603 63.1 602.9 64.6 602.8 66.1 602.6 67.6 602.4 69.1 602.3 70.6 602.2 71.9 600.7 71.6 600.5 70.6 600.3 69.1 600.2 67.6 600 66.1 599.5 64.6 599.2 64.2 597.7 63.8 597.6 64.6 597.4 66.1 597.1 67.6 596.3 69.1 596.2 69.2 596.1 69.1 595.6 67.6 595.4 66.1 595.2 64.6 594.9 63.1 594.7 62.5 594.5 63.1 594.2 64.6 594 66.1 593.9 67.6 593.9 69.1 594.2 70.6 594.5 72.1 594.7 73.6 594.7 74.9 594.7 75.1 594.7 76.6 594.8 78.1 595 79.6 595.5 81.1 595.7 82.6 595.6 84.1 595.5 85.6 595.4 87.1 595.4 88.6 595.2 90.1 594.7 90.5 594.4 90.1 594 88.6 593.8 87.1 593.7 85.6 593.3 84.1 593.2 83.9 592.9 84.1 591.7 85.4 591.6 85.6 590.9 87.1 590.5 88.6 590.4 90.1 590.4 91.6 590.5 93.1 590.8 94.6 591.7 95.4 592.4 96.1 592.7 97.6 592.7 99.1 592.6 100.6 592.4 102.1 592.2 103.6 592 105.1 591.7 106.3 590.4 106.6 590.2 107 590.2 108.1 590.1 109.6 590.2 111.1 590.2 111.2 590.4 112.6 590.7 114.1 591.2 115.6 591.6 117.1 591.7 117.3 591.8 117.1 592.3 115.6 592.5 114.1 592.8 112.6 593.2 111.7 593.7 112.6 593.8 114.1 593.8 115.6 593.6 117.1 593.4 118.6 593.2 119.7 593 120.1 592.8 121.6 592.8 123.1 592.9 124.6 593 126.1 593.2 127.6 593.2 129.1 593 130.6 592.7 132.1 592.5 133.6 592.5 135.1 592.5 136.6 592.4 138.1 592.3 139.6 592 141.1 591.7 142.1 590.9 141.1 590.7 139.6 590.8 138.1 591 136.6 591.2 135.1 591.3 133.6 591.3 132.1 591.2 130.6 590.9 129.1 590.5 127.6 590.2 127.1 589.8 127.6 589.3 129.1 589.2 130.6 589.2 132.1 589.3 133.6 589.5 135.1 589.7 136.6 589.9 138.1 590 139.6 590.1 141.1 590.1 142.6 590.1 144.1 590 145.6 589.9 147.1 589.8 148.6 589.6 150.1 589.1 151.6 588.7 152.2 588.3 151.6 587.2 150.2 585.8 151.6 585.7 151.7 584.2 153.1 584.2 153.1 583.8 154.6 583.7 156.1 583.7 157.6 583.6 159.1 583.6 160.6 583.6 162.1 583.6 163.6M612.6 31.6 612.6 33.1 612.7 34 614.2 34.2M614.2 45.5 614.1 45.1 613.6 43.6 613.2 42.1 612.8 40.6 612.7 39.5 611.2 39.7 611 39.1 610.3 37.6 609.7 36.4 609.3 37.6 609.1 39.1 609.1 40.6 609.2 42.1 609.1 43.6 609 45.1 608.7 46.6 608.3 48.1 608.2 48.3 608.1 48.1 607.8 46.6 607.5 45.1 607.3 43.6 606.9 42.1 606.7 41.7 606.1 40.6 605.6 39.1 605.4 37.6 605.2 36.1 605.2 35.6 604.9 34.6 604.8 33.1 604.8 31.6M614.2 58.8 613.3 60.1 612.7 61.3 612.5 60.1 612.4 58.6 612.5 57.1 612.7 56.5 613.3 55.6 613.9 54.1 614.2 53.2M565 163.6 565 162.1 564.9 160.6 564.9 159.1 564.7 157.6 564.7 157.2 564.7 157.6 564.6 159.1 564.5 160.6 564.4 162.1 564.4 163.6M577.3 163.6 577.2 162.1 576.9 160.6 576.7 159.5 576.1 160.6 575.2 161.8 575.2 162.1 575 163.6M588.3 163.6 588.3 162.1 588.4 160.6 588.7 159.1 588.7 159 588.8 159.1 589.5 160.6 589.9 162.1 590 163.6M606.3 163.6 606.3 162.1 606.3 160.6 606.3 159.1 606.4 157.6 606.4 156.1 606.6 154.6 606.7 153.1 606.7 153 606.7 153.1 606.9 154.6 607 156.1 607 157.6 607 159.1 607 160.6 607 162.1 607 163.6M591.7 66 591.7 66.1 591.6 67.6 591.5 69.1 591.5 70.6 591.6 72.1 591.7 73.6 591.7 73.7 591.7 73.6 592 72.1 592.2 70.6 592.3 69.1 592.1 67.6 591.7 66.1 591.7 66M602.2 72.2 602.3 73.6 602.5 75.1 602.5 76.6 602.5 78.1 602.3 79.6 602.2 80.2 602.1 79.6 602 78.1 601.9 76.6 602 75.1 602.1 73.6 602.2 72.2M599.2 83.5 600.7 83.2 601.1 84.1 601.2 85.6 601.3 87.1 601.3 88.6 601.2 90.1 601.1 91.6 601 93.1 601 94.6 601 96.1 600.7 97.6 600.7 97.7 600.7 97.6 600.6 96.1 600.6 94.6 600.5 93.1 600.2 91.6 599.6 90.1 599.2 89.2 598.8 88.6 598.7 87.1 598.8 85.6 599.1 84.1 599.2 83.5M596.2 90.9 597.7 90.5 598 91.6 598 93.1 598 94.6 597.8 96.1 597.7 96.9 596.2 97.3 595.8 96.1 595.7 94.6 595.6 93.1 595.6 91.6 596.2 90.9M587.2 121.7 586.9 123.1 587 124.6 587.2 126.1 587.2 126.2 587.2 126.1 587.4 124.6 587.4 123.1 587.2 121.7M594.7 128.3 594.8 129.1 594.9 130.6 594.7 132.1 593.6 130.6 593.2 129.1 594.7 128.3M597.7 130.4 597.7 130.6 597.9 132.1 598.1 133.6 598.2 135.1 598.2 136.6 598.2 138.1 598.1 139.6 598 141.1 597.9 142.6 597.8 144.1 597.8 145.6 597.7 147.1 597.7 147.3 597.6 147.1 596.5 145.6 596.2 145.5 596.1 145.6 595.7 147.1 595.5 148.6 595.6 150.1 595.7 151.6 595.7 153.1 595.8 154.6 595.8 156.1 595.6 157.6 595.2 159.1 594.7 160.3 594.3 159.1 593.9 157.6 593.7 156.1 593.6 154.6 593.5 153.1 593.4 151.6 593.3 150.1 593.5 148.6 593.7 147.1 594 145.6 594.2 144.1 594.4 142.6 594.6 141.1 594.7 140.8 595.2 139.6 595.5 138.1 595.8 136.6 596.2 135.2 596.2 135.1 596.7 133.6 597.1 132.1 597.6 130.6 597.7 130.4M602.2 141 602.2 141.1 602.5 142.6 602.7 144.1 602.9 145.6 603 147.1 603.1 148.6 603.1 150.1 602.9 151.6 602.6 153.1 602.2 154.2 601 153.1 600.7 151.8 600.7 151.6 600.7 150.1 600.7 148.6 600.7 147.7 600.7 147.1 600.9 145.6 601.1 144.1 601.5 142.6 602.1 141.1 602.2 141M588.7 31.6 588.7 33.1 588.7 33.6 588.7 33.1 588.8 31.6M595.5 31.6 595.5 33.1 595.6 34.6 595.8 36.1 596.2 37.5 596.7 36.1 596.8 34.6 596.9 33.1 596.9 31.6M598.5 31.6 598.4 33.1 598.4 34.6 598.3 36.1 598.1 37.6 598 39.1 597.8 40.6 597.7 40.9 597.5 42.1 597.4 43.6 597.3 45.1 597.3 46.6 597.2 48.1 597.2 49.6 597.2 51.1 597.1 52.6 597 54.1 596.8 55.6 596.6 57.1 596.4 58.6 596.3 60.1 596.2 61.6 596.2 62.3 596.2 61.6 596 60.1 595.5 58.6 594.9 57.1 595 55.6 595.3 54.1 595.4 52.6 595.5 51.1 595.5 49.6 595.5 48.1 595.4 46.6 595.3 45.1 595.1 43.6 594.8 42.1 594.7 41.9 594.2 40.6 593.3 39.1 593.2 39 593.2 39.1 592.7 40.6 592.3 42.1 591.9 43.6 591.7 44.2 591.6 45.1 591.5 46.6 591.5 48.1 591.6 49.6 591.7 50 592.7 51.1 593.2 52.2 593.3 52.6 593.6 54.1 594.2 55.6 594.6 57.1 594.3 58.6 594 60.1 593.7 61.6 593.4 63.1 593.2 63.9 592.9 63.1 592.1 61.6 591.7 61 591 61.6 590.8 63.1 590.7 64.6 590.7 66.1 590.7 67.6 590.7 69.1 590.6 70.6 590.7 72.1 590.7 73.6 590.6 75.1 590.6 76.6 590.4 78.1 590.2 79.4 589.5 78.1 588.7 77.3 587.2 77.2 586.8 78.1 586.4 79.6 586.3 81.1 586.2 82.6 586.1 84.1 586 85.6 585.9 87.1 585.9 88.6 585.9 90.1 586 91.6 586 93.1 586 94.6 586 96.1 586 97.6 586 99.1 586.1 100.6 586.3 102.1 586.5 103.6 586.7 105.1 586.6 106.6 586.3 108.1 585.7 109 585.6 109.6 585.2 111.1 585.1 112.6 585 114.1 584.9 115.6 584.9 117.1 584.8 118.6 584.6 120.1 584.3 121.6 584.2 121.9 583.5 121.6 583 120.1 582.7 119.3 582.6 118.6 582.1 117.1 581.8 115.6 581.6 114.1 581.4 112.6 581.2 111.4 580.7 112.6 580.6 114.1 580.6 115.6 580.6 117.1 580.7 118.6 580.7 120.1 580.7 121.6 580.7 123.1 580.8 124.6 580.8 126.1 580.8 127.6 580.9 129.1 581 130.6 581.2 132.1 581.2 132.4 581.4 133.6 581.5 135.1 581.6 136.6 581.5 138.1 581.2 139.4 581.1 139.6 580.6 141.1 579.8 142.6 579.7 142.8 579.6 142.6 579 141.1 578.8 139.6 578.7 138.1 578.6 136.6 578.6 135.1 578.6 133.6 578.5 132.1 578.5 130.6 578.4 129.1 578.4 127.6 578.3 126.1 578.2 124.8 578.1 126.1 578 127.6 577.9 129.1 577.9 130.6 577.8 132.1 577.8 133.6 577.7 135.1 577.7 136.6 577.7 138.1 577.7 139.6 577.7 141.1 577.7 142.6 577.6 144.1 577.4 145.6 577 147.1 576.7 148.1 576.3 147.1 576 145.6 575.8 144.1 575.7 142.6 575.6 141.1 575.5 139.6 575.4 138.1 575.2 136.7 574.9 138.1 574.4 139.6 573.7 140.4 573.6 141.1 573.4 142.6 573.2 144.1 573 145.6 572.9 147.1 572.7 148.6 572.5 150.1 572.2 150.6 572.1 151.6 571.9 153.1 571.7 154.6 571.4 156.1 571.1 157.6 570.9 159.1 570.7 160.6 569.2 159.9 568.7 159.1 568 157.6 567.7 156.7 567 156.1 566.6 154.6 566.4 153.1 566.2 151.8 566.2 151.6 565.8 150.1 565.4 148.6 565.2 147.1 565 145.6 564.8 144.1 564.7 143.7 564.6 144.1 564.3 145.6 564.2 147.1 564.2 148.6 564.2 150.1 564.1 151.6 564 153.1 563.9 154.6 563.8 156.1 563.6 157.6 563.4 159.1 563.2 160.6 563.2 160.9 563.1 160.6 562.2 159.1 561.7 158.5 561.6 159.1 561.4 160.6 561.2 162.1 561.1 163.6M602.7 31.6 602.7 33.1 602.8 34.6 602.9 36.1 602.9 37.6 603 39.1 603.1 40.6 603.1 42.1 603.1 43.6 603.1 45.1 603 46.6 602.7 48.1 602.5 49.6 602.2 51.1 602.2 51.8 602 52.6 601.6 54.1 601 55.6 600.7 56 600.3 57.1 599.7 58.6 599.2 59.8 598.9 58.6 598.7 57.1 598.5 55.6 598.5 54.1 598.5 52.6 598.5 51.1 598.5 49.6 598.4 48.1 598.4 46.6 598.5 45.1 599.2 43.6 599.2 43.6 600.6 43.6 600.7 43.6 600.7 43.6 600.9 42.1 601 40.6 601.2 39.1 601.4 37.6 601.5 36.1 601.6 34.6 601.7 33.1 601.8 31.6M607.6 31.6 607.6 33.1 607.5 34.6 607.4 36.1 607 37.6 606.7 38.1 606.5 37.6 606.1 36.1 605.9 34.6 605.8 33.1 605.7 31.6M611.3 31.6 611.2 33.1 611.2 33.1 611.2 33.1 610.9 31.6M614.2 41.1 614.1 40.6 614 39.1 614.2 37.6 614.2 37.5M495 163.6 495 162.1 494.9 160.6 494.8 159.1 494.6 157.6 494.3 156.1 494.2 155.8 493.5 156.1 493 157.6 492.9 159.1 492.8 160.6 492.7 162.1 492.7 162.3 492.6 163.6M500.6 163.6 500.5 162.1 500.4 160.6 500.2 159.4 499.7 160.6 498.8 162.1 498.7 162.2 498.7 162.1 498.1 160.6 497.7 159.1 497.3 157.6 497.2 157 497 157.6 496.8 159.1 496.6 160.6 496.6 162.1 496.6 163.6M511 163.6 510.7 162.8 510.2 163.6M547 163.6 546.9 162.1 546.8 160.6 546.7 160.1 546.6 160.6 546.5 162.1 546.4 163.6M573.5 163.6 573.5 162.1 573.5 160.6 573.4 159.1 573.3 157.6 573.1 156.1 572.9 154.6 572.8 153.1 572.8 151.6 573.7 150.9 573.8 151.6 574 153.1 574.1 154.6 574.1 156.1 574.1 157.6 574 159.1 573.9 160.6 573.9 162.1 573.9 163.6M578.7 163.6 578.6 162.1 578.5 160.6 578.3 159.1 578.2 157.9 578.2 157.6 578.1 156.1 578.2 155.3 578.4 154.6 579.7 153.9 580 153.1 580.4 151.6 580.6 150.1 580.9 148.6 581.2 147.7 581.7 148.6 582 150.1 582.1 151.6 582.1 153.1 582.2 154.6 582.2 156.1 582.5 157.6 582.7 158.1 582.8 159.1 582.9 160.6 583 162.1 583 163.6M590.2 55.6 590 57.1 590 58.6 590.2 60.1 590.2 60.3 590.4 60.1 590.5 58.6 590.4 57.1 590.2 55.6M582.7 71.3 582.5 72.1 582.3 73.6 582.3 75.1 582.4 76.6 582.7 77.4 583.2 78.1 584.2 78.9 584.7 78.1 584.9 76.6 584.8 75.1 584.6 73.6 584.2 72.2 584 72.1 582.7 71.3M593.2 74.6 593.3 75.1 593.3 76.6 593.2 77.7 593.1 76.6 593.1 75.1 593.2 74.6M578.2 99.7 578.1 100.6 577.9 102.1 577.9 103.6 578 105.1 578.2 105.7 578.4 105.1 578.6 103.6 578.6 102.1 578.4 100.6 578.2 99.7M588.7 115.1 588.7 115.6 588.7 116.9 588.7 115.6 588.7 115.1M582.7 122.9 582.8 123.1 583 124.6 583 126.1 582.9 127.6 582.7 129.1 582.4 127.6 582.4 126.1 582.5 124.6 582.7 123.1 582.7 122.9M567.7 123.7 567.6 124.6 567.6 126.1 567.7 127.5 567.8 126.1 567.9 124.6 567.7 123.7M585.7 130.1 585.8 130.6 586.1 132.1 586.3 133.6 586.5 135.1 586.7 136.6 587.2 137.9 588.7 137.3 588.8 138.1 589 139.6 589.1 141.1 589.2 142.6 589.1 144.1 589 145.6 588.8 147.1 588.7 147.7 588.3 147.1 587.4 145.6 587.2 145 586.9 144.1 586.7 142.6 586.4 141.1 585.8 139.6 585.7 139.5 585.4 138.1 585.3 136.6 585.3 135.1 585.3 133.6 585.4 132.1 585.6 130.6 585.7 130.1M546.7 139.1 546.7 139.6 546.6 141.1 546.7 142.6 546.7 142.9 546.7 142.6 546.9 141.1 546.8 139.6 546.7 139.1M567.7 138.9 567.6 139.6 567.4 141.1 567.3 142.6 567.2 144.1 567.2 145.6 567.3 147.1 567.7 148.6 567.7 148.6 567.7 148.6 567.9 147.1 568.1 145.6 568.3 144.1 568.4 142.6 568.3 141.1 568 139.6 567.7 138.9M602.2 144.7 602.3 145.6 602.4 147.1 602.3 148.6 602.2 150 601.9 148.6 601.9 147.1 602 145.6 602.2 144.7M594.7 152.7 594.7 153.1 594.8 154.6 594.7 156 594.6 154.6 594.6 153.1 594.7 152.7M583.8 31.6 583.8 33.1 583.9 34.6 584 36.1 584.2 37.6 584.2 37.9 584.3 37.6 584.5 36.1 584.9 34.6 585.4 33.1 585.7 31.9 585.7 31.6M588 31.6 588 33.1 588 34.6 588 36.1 588 37.6 588 39.1 588.1 40.6 588.3 42.1 588.5 43.6 588.4 45.1 588.3 46.6 588 48.1 587.7 49.6 587.2 51 587.2 51.1 586.9 52.6 586.7 54.1 586.4 55.6 586.1 57.1 586 58.6 585.9 60.1 585.9 61.6 585.9 63.1 586 64.6 586.2 66.1 587.1 67.6 587.2 67.7 587.4 69.1 587.2 70.6 587.2 70.7 586.9 70.6 585.7 69.8 585.6 69.1 585.3 67.6 585 66.1 585 64.6 585.1 63.1 585.1 61.6 584.7 60.1 584.2 59.3 584.1 60.1 583.9 61.6 583.8 63.1 583.8 64.6 583.2 66.1 582.7 66.4 582.3 67.6 582 69.1 581.7 70.6 581.3 72.1 581.2 72.7 580.8 73.6 580.4 75.1 580.3 76.6 580.3 78.1 580.4 79.6 580.5 81.1 580.7 82.6 581 84.1 581.2 84.5 582 85.6 582.5 87.1 582.2 88.6 581.8 90.1 581.5 91.6 581.3 93.1 581.3 94.6 581.3 96.1 581.3 97.6 581.5 99.1 581.6 100.6 581.8 102.1 581.9 103.6 581.2 105 580.9 103.6 580.8 102.1 580.7 100.6 580.6 99.1 579.9 97.6 579.7 97.5 579.3 96.1 578.3 94.6 578.2 94.5 578 94.6 577.1 96.1 577 97.6 576.9 99.1 576.8 100.6 576.7 101.4 576 100.6 575.8 99.1 575.6 97.6 575.2 97.1 575.1 97.6 575.1 99.1 575.1 100.6 575.2 102.1 575.2 102.7 575.4 103.6 575.4 105.1 575.4 106.6 575.4 108.1 575.3 109.6 575.2 110.4 575.1 111.1 574.8 112.6 574.5 114.1 574.2 115.6 573.9 117.1 573.7 118.1 573.6 118.6 573.3 120.1 573 121.6 572.8 123.1 572.5 124.6 572.3 126.1 572.2 127.6 571.9 126.1 571.4 124.6 570.8 123.1 570.7 122.7 570.5 121.6 570.2 120.1 569.9 118.6 569.6 117.1 569.2 115.7 568.1 117.1 567.7 117.6 567.3 118.6 567 120.1 566.7 121.6 566.5 123.1 566.2 124.6 566.2 124.8 565.2 126.1 564.7 127.4 564.7 127.6 564.7 128.2 564.8 129.1 565.2 130.6 565.5 132.1 565.6 133.6 565.6 135.1 565.5 136.6 564.7 137.3 563.2 136.9 562.5 138.1 561.7 139.1 561.4 139.6 560.7 141.1 560.2 142.4 559.8 141.1 559.6 139.6 559.3 138.1 559.1 136.6 558.9 135.1 558.7 133.9 558.4 135.1 558.1 136.6 557.9 138.1 557.7 139.6 557.6 141.1 557.5 142.6 557.5 144.1 557.6 145.6 558.1 147.1 558.7 148.2 558.8 148.6 559.4 150.1 560.2 150.6 560.4 151.6 560.6 153.1 560.7 154.6 560.8 156.1 560.7 157.6 560.6 159.1 560.5 160.6 560.4 162.1 560.4 163.6M591.2 31.6 591.1 33.1 590.9 34.6 590.2 35.7 589.9 34.6 589.7 33.1 589.6 31.6M594.7 31.6 594.7 31.8 594.5 33.1 593.2 34.3 592.6 33.1 592.4 31.6M597.7 31.6 597.7 32.2 597.7 31.6M607 31.6 606.9 33.1 606.7 34.6 606.7 34.7 606.7 34.6 606.5 33.1 606.4 31.6M486.4 163.6 486.5 162.1 486.7 161.2 487.1 162.1 487.4 163.6M501.5 163.6 501.5 162.1 501.5 160.6 501.6 159.1 501.7 157.7 501.7 157.6 501.8 156.1 501.7 155.8 501.5 154.6 500.9 153.1 500.4 151.6 500.2 150.5 499.9 151.6 499.6 153.1 499.3 154.6 498.9 156.1 498.7 156.7 498.6 156.1 498.3 154.6 498.1 153.1 498.2 151.6 498.4 150.1 498.7 149.1 499.6 148.6 500.2 147.3 500.2 147.1 500.4 145.6 500.6 144.1 500.8 142.6 501 141.1 501.1 139.6 501.1 138.1 501 136.6 500.7 135.1 500.4 133.6 500.2 132.8 499.9 133.6 499.5 135.1 499.1 136.6 498.7 137.7 498.3 136.6 497.9 135.1 497.6 133.6 497.4 132.1 497.2 131 496.8 132.1 495.7 133 495.5 133.6 495.2 135.1 495.1 136.6 495 138.1 494.9 139.6 494.2 140.3 492.7 140.9 492.6 141.1 492 142.6 491.2 143.7 491.1 144.1 490.7 145.6 490.4 147.1 490.2 148.6 490.1 150.1 490 151.6 490 153.1 490 154.6 490 156.1 490 157.6 490 159.1 489.9 160.6 489.7 162.1 489.7 162.6 489.5 162.1 489.1 160.6 489 159.1 488.9 157.6 488.8 156.1 488.4 154.6 488.2 154.3 486.9 154.6 486.7 154.8 486.7 154.6 486.4 153.1 486.4 151.6 486.5 150.1 486.7 149.7 486.8 148.6 487 147.1 487.1 145.6 487.2 144.1 487.4 142.6 487.6 141.1 487.7 139.6 487.6 138.1 487.5 136.6 487.4 135.1 487.3 133.6 487.3 132.1 487.2 130.6 487.2 129.1 487.2 127.6 487 126.1 486.7 125 485.9 126.1 485.2 127.3 484.6 126.1 484.3 124.6 484.3 123.1 484.2 121.6 484.2 120.1 484.2 118.6 484.1 117.1 484 115.6 483.7 114.3M514.1 163.6 514 162.1 513.7 160.8 513.6 160.6 512.5 159.1 512.2 158.3 511 159.1 510.7 159.2 510.6 159.1 509.7 157.6 509.2 156.1 509.2 156 509.2 156.1 508.7 157.6 508.1 159.1 507.7 159.8 506.5 159.1 506.2 158.9 506.1 159.1 505.9 160.6 505.8 162.1 505.8 163.6M544.9 163.6 544.8 162.1 544.6 160.6 544.4 159.1 543.9 157.6 543.7 157.2 542.9 157.6 542.2 157.9 542.1 157.6 541.6 156.1 540.9 154.6 540.7 154.3 540.5 154.6 539.4 156.1 539.2 156.3 538.1 157.6 537.7 158 536.3 157.6 536.2 157.4 536.2 157.6 536.2 157.7 536.6 159.1 536.7 160.6 536.8 162.1 536.8 163.6M548.2 163.6 548.2 162.8 548.2 162.1 548.1 160.6 548 159.1 548 157.6 548.2 156.3 548.2 156.1 548.7 154.6 549.3 153.1 549.7 152.2 550.1 153.1 550.5 154.6 550.7 156.1 550.8 157.6 550.8 159.1 550.9 160.6 550.9 162.1 550.9 163.6M551.8 163.6 551.8 162.1 551.8 160.6 551.8 159.1 551.8 157.6 551.9 156.1 552.1 154.6 552.3 153.1 552.4 151.6 552.4 150.1 552.4 148.6 552.3 147.1 552.3 145.6 552.7 144.5 553.4 145.6 554.2 146.6 554.3 145.6 554.5 144.1 554.5 142.6 554.4 141.1 554.2 139.9 554.1 139.6 553.8 138.1 553.6 136.6 553.3 135.1 552.7 133.6 552.7 133.6 552.7 133.6 552.1 135.1 551.9 136.6 551.8 138.1 551.8 139.6 551.8 141.1 551.8 142.6 551.2 144 550.3 142.6 550 141.1 549.7 140 549.6 139.6 548.8 138.1 548.2 137.1 548.1 136.6 547.5 135.1 546.7 134.2 546.4 135.1 546.1 136.6 546 138.1 545.8 139.6 545.8 141.1 545.8 142.6 545.8 144.1 545.8 145.6 545.8 147.1 545.7 148.6 545.7 150.1 545.6 151.6 545.6 153.1 545.7 154.6 545.7 156.1 545.7 157.6 545.6 159.1 545.5 160.6 545.4 162.1 545.4 163.6M558.9 163.6 559.1 162.1 559.2 160.6 559.2 159.1 559.2 157.6 559.1 156.1 559 154.6 558.8 153.1 558.7 152.8 558.3 151.6 557.2 150.1 556.9 151.6 556.2 153.1 555.7 154 555.5 154.6 555.2 156.1 555.1 157.6 555.2 159.1 555.5 160.6 555.7 161 555.9 162.1 556.1 163.6M579.6 163.6 579.6 162.1 579.6 160.6 579.7 159.9 579.8 160.6 579.8 162.1 579.8 163.6M590.2 42.8 590.4 43.6 590.5 45.1 590.5 46.6 590.4 48.1 590.2 49.6 590.2 49.6 590.2 49.6 589.5 48.1 589.2 46.6 589.1 45.1 589.4 43.6 590.2 42.8M576.7 56.2 576.6 57.1 576.4 58.6 576.3 60.1 576.1 61.6 576 63.1 575.9 64.6 575.9 66.1 576 67.6 576.1 69.1 576.2 70.6 576.5 72.1 576.7 73 577.1 73.6 577.3 75.1 577.4 76.6 577.6 78.1 578.1 79.6 578.2 80 578.4 79.6 578.9 78.1 579 76.6 579 75.1 578.7 73.6 578.4 72.1 578.2 71.6 577.8 70.6 577.6 69.1 577.6 67.6 577.6 66.1 577.6 64.6 577.7 63.1 577.8 61.6 577.7 60.1 577.5 58.6 577 57.1 576.7 56.2M581.2 58.1 580.4 58.6 579.7 58.9 578.9 60.1 578.8 61.6 579.1 63.1 579.6 64.6 579.7 64.8 579.9 64.6 581.2 63.4 581.4 63.1 581.7 61.6 581.6 60.1 581.4 58.6 581.2 58.1M584.2 83.1 584.5 84.1 584.6 85.6 584.6 87.1 584.5 88.6 584.2 90 583.2 88.6 582.8 87.1 583 85.6 583.5 84.1 584.2 83.1M569.2 106.1 569.1 106.6 569.2 107.7 569.2 106.6 569.2 106.1M582.7 105.1 583.7 106.6 583.7 108.1 583.6 109.6 583.5 111.1 583.3 112.6 582.7 114 582.4 112.6 582.3 111.1 582.2 109.6 582.1 108.1 582.1 106.6 582.7 105.1M489.7 111 489.7 111.1 489.4 112.6 489.2 114.1 489 115.6 488.9 117.1 488.7 118.6 488.7 120.1 489.5 121.6 489.7 121.7 489.8 121.6 490.5 120.1 490.8 118.6 490.7 117.1 490.5 115.6 490.3 114.1 490 112.6 489.7 111.1 489.7 111M579.7 118.6 579.7 118.6 579.9 120.1 580 121.6 580.1 123.1 580.1 124.6 580.1 126.1 580.1 127.6 580.1 129.1 580 130.6 580 132.1 579.9 133.6 579.8 135.1 579.7 135.5 579.7 135.1 579.5 133.6 579.5 132.1 579.4 130.6 579.3 129.1 579.3 127.6 579.2 126.1 579.2 124.6 579.1 123.1 579.1 121.6 579.2 120.1 579.7 118.6 579.7 118.6M558.7 122.9 558.7 123.1 558.5 124.6 558.5 126.1 558.5 127.6 558.7 128.9 558.8 127.6 558.9 126.1 558.9 124.6 558.7 123.1 558.7 122.9M576.7 126 576.7 126.1 576.9 127.6 577 129.1 577 130.6 576.9 132.1 576.7 133.6 576.7 133.9 576.6 133.6 576.3 132.1 576 130.6 575.7 129.1 575.6 127.6 576.5 126.1 576.7 126M569.2 128.5 569.4 129.1 569.6 130.6 569.6 132.1 569.4 133.6 569.2 133.9 569.1 133.6 568.9 132.1 568.9 130.6 569.1 129.1 569.2 128.5M572.2 127.6 572.3 129.1 572.7 130.6 573.4 132.1 573.5 133.6 573.2 135.1 572.9 136.6 572.7 138.1 572.5 139.6 572.4 141.1 572.3 142.6 572.2 142.9 571.7 142.6 571.1 141.1 570.9 139.6 570.8 138.1 570.9 136.6 571.2 135.1 571.5 133.6 571.7 132.1 572 130.6 572.2 129.1 572.2 127.6M503.2 135.9 503.1 136.6 503.2 136.9 504.2 138.1 504.7 138.7 504.8 138.1 504.7 136.6 504.7 136.5 503.2 135.9M495.7 140.5 495.8 141.1 495.9 142.6 495.9 144.1 495.9 145.6 495.9 147.1 495.9 148.6 495.8 150.1 495.7 151.2 495.5 150.1 495.3 148.6 495.1 147.1 495.1 145.6 495 144.1 495 142.6 495.1 141.1 495.7 140.5M485.2 142.9 485.4 144.1 485.6 145.6 485.7 147.1 485.2 148.5 485 147.1 484.9 145.6 485 144.1 485.2 142.9M569.2 147.6 569.8 148.6 570 150.1 570 151.6 569.9 153.1 569.6 154.6 569.2 155.6 568.9 154.6 568.7 153.1 568.7 151.6 568.8 150.1 569 148.6 569.2 147.6M579.3 31.6 579.3 33.1 579.5 34.6 579.7 36.1 579.7 36.3 579.8 36.1 580.1 34.6 580.2 33.1 580.3 31.6M582.6 31.6 582.6 33.1 582.6 34.6 582.5 36.1 582 37.6 581.2 38.8 580.8 39.1 580.3 40.6 580.1 42.1 580.2 43.6 580.3 45.1 580.6 46.6 580.8 48.1 580.9 49.6 580.8 51.1 580.6 52.6 580.2 54.1 579.7 55.3 578.8 54.1 578.4 52.6 578.2 51.1 578.2 50.7 577.6 49.6 576.8 48.1 576.7 46.6 576.7 45.1 576.7 44.1 576.7 45.1 576.7 46.6 576.7 48.1 576.6 49.6 576.4 51.1 576.2 52.6 576 54.1 575.9 55.6 575.7 57.1 575.5 58.6 575.2 60.1 575.2 60.4 574.8 61.6 574.7 63.1 574.7 64.6 574.7 66.1 574.6 67.6 574.4 69.1 573.7 70.6 573.7 70.6 573 72.1 573 73.6 572.9 75.1 572.8 76.6 572.5 78.1 572.2 78.8 571.3 79.6 571.1 81.1 571.1 82.6 571.2 84.1 571.2 85.6 571.2 87.1 571.2 88.6 571.3 90.1 571.4 91.6 571.5 93.1 571.6 94.6 571.8 96.1 572 97.6 572.1 99.1 572 100.6 571.5 102.1 571.2 103.6 571.2 105.1 571.2 106.6 571.1 108.1 571.1 109.6 570.9 111.1 570.7 112.6 570.7 112.8 570.7 112.6 570.5 111.1 570.5 109.6 570.4 108.1 570.4 106.6 570.5 105.1 570.5 103.6 570.3 102.1 569.9 100.6 569.2 99.1 569.2 99.1 568.6 97.6 568.1 96.1 567.7 95 567.3 94.6 566.2 93.5 566.1 94.6 565.9 96.1 565.8 97.6 565.7 99.1 565.5 100.6 565.1 102.1 564.7 103.3 563.2 102.7 562.7 103.6 561.9 105.1 561.7 105.5 561.2 106.6 560.2 107.7 559.9 108.1 559.5 109.6 559.3 111.1 559.2 112.6 559.1 114.1 558.7 115.5 558.7 115.6 558.1 117.1 557.9 118.6 557.7 120.1 557.6 121.6 557.4 123.1 557.3 124.6 557.2 125.2 556.8 126.1 556.6 127.6 556.4 129.1 556.3 130.6 556.1 132.1 556 133.6 555.7 135 555.5 133.6 555.3 132.1 555.1 130.6 554.8 129.1 554.4 127.6 554.2 127.1 554.1 127.6 553.6 129.1 552.7 130.1 551.2 129.9 550.1 129.1 549.7 128.2 549.5 129.1 548.8 130.6 548.2 131 546.7 130.7 545.8 132.1 545.5 133.6 545.3 135.1 545.2 136.6 545.2 136.7 545.2 136.6 545 135.1 544.7 133.6 544.3 132.1 543.7 131.4 543.2 132.1 542.3 133.6 542.2 133.8 541.7 135.1 541.2 136.6 540.7 138 539.2 137.8 539.1 138.1 538.8 139.6 538.7 141.1 538.6 142.6 538.7 144.1 539.2 145 539.7 145.6 540.1 147.1 540.1 148.6 539.8 150.1 539.3 151.6 539.2 151.7 538.7 151.6 537.9 150.1 537.8 148.6 537.7 147.7 537.5 148.6 537 150.1 536.2 150.4 535.7 151.6 535.3 153.1 535.1 154.6 535 156.1 534.9 157.6 534.9 159.1 535 160.6 535.1 162.1 535.3 163.6M587.3 31.6 587.3 33.1 587.2 34.6 587.2 34.8 587.2 34.6 587.1 33.1 587 31.6M504.5 163.6 504.5 162.1 504.6 160.6 504.7 159.1 504.7 158.7 504.7 159.1 504.8 160.6 504.8 162.1 504.8 163.6M518 163.6 518 162.1 517.9 160.6 517 159.1 516.7 159 515.7 157.6 515.2 156.1 515.2 156 514.5 154.6 514.3 153.1 514.3 151.6 514.2 150.1 514.2 148.6 514.3 147.1 514.4 145.6 514.5 144.1 514.6 142.6 514.7 141.1 514.5 139.6 514.3 138.1 513.9 136.6 513.7 135.6 513.4 135.1 512.5 133.6 512.2 132.8 511.3 133.6 510.7 134.6 509.2 134.8 508.7 135.1 509.2 135.2 510.5 136.6 510.7 136.7 510.9 138.1 511.1 139.6 511.3 141.1 511.5 142.6 511.9 144.1 512.2 145.2 512.3 145.6 512.6 147.1 512.6 148.6 512.3 150.1 512.2 150.5 512 151.6 511.7 153.1 511.4 154.6 510.8 156.1 510.7 156.2 510.7 156.1 510.2 154.6 509.8 153.1 509.6 151.6 509.3 150.1 509.2 149.2 508.8 150.1 508.1 151.6 507.7 152.9 506.2 152.8 505.6 151.6 505.2 150.1 504.9 148.6 504.7 147.1 504.8 145.6 505.2 144.1 505.8 142.6 506.2 141.4 506.5 141.1 507.1 139.6 507.4 138.1 507.6 136.6 507.6 135.1 506.2 133.9 506.1 133.6 505.7 132.1 505.3 130.6 505 129.1 504.9 127.6 504.8 126.1 504.8 124.6 504.7 123.8 504.5 124.6 504.4 126.1 504.3 127.6 503.8 129.1 503.2 129.6 502.6 129.1 501.8 127.6 501.7 127.4 501.4 126.1 501.1 124.6 500.7 123.1 500.2 121.7 500.1 121.6 499 120.1 498.8 118.6 498.7 118 498.6 117.1 498.5 115.6 498.4 114.1 498.3 112.6 498.1 111.1 498.1 109.6 498 108.1 498.7 106.7 498.7 106.6 498.9 105.1 498.9 103.6 498.8 102.1 498.7 101.7 498.5 102.1 498.1 103.6 497.8 105.1 497.2 106.2 497.2 106.6 497 108.1 496.8 109.6 496.6 111.1 496.3 112.6 496.1 114.1 495.9 115.6 495.7 116.6 495.4 115.6 494.9 114.1 494.2 112.7 493.4 114.1 492.9 115.6 492.7 116.8 492.6 115.6 492.2 114.1 491.8 112.6 491.4 111.1 491.2 109.6 491.2 109.6 491 108.1 490.7 106.6 490.5 105.1 490.4 103.6 490.3 102.1 490.1 100.6 489.7 99.5 489.3 100.6 489.1 102.1 488.9 103.6 488.9 105.1 488.8 106.6 488.7 108.1 488.6 109.6 488.4 111.1 488.2 112.6 488.2 112.8 486.7 112.8 486.5 112.6 485.4 111.1 485.2 110.9 484.4 109.6 483.7 108.8M525.2 163.6 525.2 162.1 525.2 160.6 525.2 159.1 525.3 157.6 525.3 156.1 525.2 154.6 525.1 153.1 524.9 151.6 524.4 150.1 524.2 149.7 523.9 150.1 523.1 151.6 522.7 152.7 522.6 153.1 522.4 154.6 522.3 156.1 522.4 157.6 522.4 159.1 522.5 160.6 522.6 162.1 522.7 163.6M527.4 163.6 527.5 162.1 527.7 160.6 528.7 159.6 529 160.6 529.3 162.1 529.5 163.6M534 163.6 534.1 162.1 534.2 160.6 534.3 159.1 534.3 157.6 534.3 156.1 534.3 154.6 534.2 153.1 534.2 151.6 534.2 150.1 534.1 148.6 534 147.1 533.8 145.6 533.2 144.1 532.6 145.6 532.3 147.1 532.2 148.6 532 150.1 531.9 151.6 531.7 152.7 530.7 153.1 530.2 153.3 530.1 153.1 529.3 151.6 529.2 150.1 529.2 148.6 529.2 147.1 529.2 145.6 529.2 144.1 529.1 142.6 529 141.1 528.7 139.6 528.7 139.6 528.7 139.6 528.2 141.1 528 142.6 527.8 144.1 527.7 145.6 527.6 147.1 527.4 148.6 527.2 149.2 527 150.1 526.8 151.6 526.7 153.1 526.7 154.6 526.8 156.1 526.9 157.6 527 159.1 527 160.6 527 162.1 527 163.6M549.2 163.6 549.3 162.1 549.4 160.6 549.7 159.1 549.7 159 549.7 159.1 549.9 160.6 550 162.1 550.1 163.6M585.7 43 585.8 43.6 585.9 45.1 585.9 46.6 585.8 48.1 585.7 49 585.6 48.1 585.6 46.6 585.6 45.1 585.6 43.6 585.7 43M572.2 64.8 571.8 66.1 571.7 67.6 571.9 69.1 572.2 70.1 572.6 69.1 572.6 67.6 572.5 66.1 572.2 64.8M575.2 74.3 575.3 75.1 575.6 76.6 575.7 78.1 575.8 79.6 575.8 81.1 575.6 82.6 575.3 84.1 575.2 84.5 575 84.1 574.6 82.6 574.5 81.1 574.4 79.6 574.5 78.1 574.6 76.6 574.9 75.1 575.2 74.3M573.7 87.4 574.4 88.6 574.4 90.1 574.2 91.6 574 93.1 573.9 94.6 573.8 96.1 573.7 97.6 573.7 97.9 573.5 97.6 573.3 96.1 573.4 94.6 573.4 93.1 573.5 91.6 573.5 90.1 573.6 88.6 573.7 87.4M564.7 106.2 564.8 106.6 565.3 108.1 565.5 109.6 565.5 111.1 565.4 112.6 565.2 114.1 565.1 115.6 564.9 117.1 564.8 118.6 564.7 119 564 120.1 563.5 121.6 563.3 123.1 563.3 124.6 563.3 126.1 563.3 127.6 563.2 129.1 563.2 129.5 563.1 129.1 562.8 127.6 562.6 126.1 561.7 124.7 560.7 126.1 560.5 127.6 560.2 129.1 560.2 129.2 560.2 129.1 560.1 127.6 560.1 126.1 560.1 124.6 560 123.1 560 121.6 559.8 120.1 559.8 118.6 560 117.1 560.2 116.9 560.7 115.6 561.2 114.1 561.7 112.8 561.9 112.6 563.2 111.5 563.3 111.1 563.8 109.6 564.2 108.1 564.6 106.6 564.7 106.2M555.7 117 555.7 117.1 555.5 118.6 555.4 120.1 555.4 121.6 555.7 123.1 555.7 123.2 555.8 123.1 556.2 121.6 556.2 120.1 556.2 118.6 555.8 117.1 555.7 117M491.2 125.6 491.6 126.1 492.3 127.6 492.7 128.3 493.6 129.1 493.6 130.6 493.5 132.1 493.1 133.6 492.7 134.4 491.9 133.6 491.2 132.2 491.2 132.1 490.9 130.6 490.8 129.1 490.8 127.6 491 126.1 491.2 125.6M519.7 141.6 519 142.6 518.5 144.1 518.2 145.6 518.3 147.1 518.5 148.6 518.7 150.1 518.8 151.6 518.8 153.1 518.8 154.6 518.8 156.1 519 157.6 519.7 158.7 519.9 157.6 520.1 156.1 520.2 154.6 520.3 153.1 520.4 151.6 520.5 150.1 520.6 148.6 520.8 147.1 521 145.6 521.1 144.1 520.6 142.6 519.7 141.6M503.2 143 503.9 144.1 504.5 145.6 504.7 147.1 503.2 148.6 502.5 147.1 502.4 145.6 502.7 144.1 503.2 143M572 31.6 572 33.1 572.1 34.6 572.2 36.1 572.2 37.3 572.2 36.1 572.4 34.6 572.5 33.1 572.6 31.6M575.3 31.6 575.4 33.1 575.4 34.6 575.7 36.1 575.9 37.6 576 39.1 576 40.6 576 42.1 576 43.6 575.9 45.1 575.7 46.6 575.6 48.1 575.3 49.6 575.2 50.6 575 49.6 574.4 48.1 573.8 46.6 573.7 46.4 572.9 45.1 572.4 43.6 572.2 42.1 572.2 41.2 570.7 41.8 570.6 42.1 570.3 43.6 570.2 45.1 570.2 46.6 570.3 48.1 570.4 49.6 570.7 51.1 570.7 51.1 570.9 52.6 571 54.1 570.9 55.6 570.8 57.1 570.7 57.4 570.6 57.1 570 55.6 569.2 54.6 568.4 55.6 568 57.1 567.9 58.6 567.9 60.1 568 61.6 568 63.1 567.9 64.6 567.8 66.1 567.7 66.7 567.3 67.6 566.7 69.1 566.2 70.4 566.2 70.6 565.9 72.1 565.8 73.6 565.8 75.1 566 76.6 566.2 78.1 566.6 76.6 567.4 75.1 567.7 74.7 567.8 75.1 568.3 76.6 568.7 78.1 569 79.6 569.2 80.7 569.3 81.1 569.4 82.6 569.3 84.1 569.2 85.4 569.2 85.6 568.8 87.1 568.3 88.6 567.7 89.4 567.2 88.6 566.5 87.1 566.2 85.7 565.8 87.1 565.6 88.6 565.4 90.1 565.3 91.6 565.3 93.1 565.2 94.6 565 96.1 564.8 97.6 564.7 98.1 564.4 97.6 564.1 96.1 563.9 94.6 563.8 93.1 563.8 91.6 563.7 90.1 563.5 88.6 563.2 87.6 563 88.6 562.8 90.1 562.6 91.6 562.3 93.1 561.7 94.6 561.7 94.7 561.5 96.1 561.4 97.6 561.3 99.1 561.1 100.6 560.8 102.1 560.2 103.5 559.6 102.1 559.3 100.6 559.1 99.1 558.9 97.6 558.7 96.1 558.7 96.1 558.7 96.1 558.3 97.6 558.1 99.1 558 100.6 557.9 102.1 557.9 103.6 557.9 105.1 557.8 106.6 557.5 108.1 557.2 109.1 555.9 108.1 555.7 107.9 555.6 108.1 555.2 109.6 554.7 111.1 554.2 112.3 553.8 111.1 553.4 109.6 553.2 108.1 552.9 106.6 552.7 105.1 552.7 105.1 552.7 105.1 552.4 106.6 552.2 108.1 552 109.6 551.9 111.1 551.8 112.6 551.7 114.1 551.6 115.6 551.4 117.1 551.2 118.2 551 117.1 550.9 115.6 550.8 114.1 550.7 112.6 550.6 111.1 550.4 109.6 550.1 108.1 549.8 106.6 549.7 105.9 549.4 106.6 548.8 108.1 548.4 109.6 548.3 111.1 548.3 112.6 548.4 114.1 548.5 115.6 548.7 117.1 548.7 118.6 548.8 120.1 548.7 121.6 548.5 123.1 548.2 124.6 548.2 124.7 547.4 126.1 546.7 126.8 546.3 126.1 545.8 124.6 545.5 123.1 545.2 122.1 545 123.1 544.7 124.6 544.3 126.1 543.7 127.4 542.3 127.6 542.2 127.6 541.8 129.1 541.3 130.6 540.8 132.1 540.7 132.5 540.3 132.1 539.3 130.6 539.2 130.4 539.2 130.6 538.9 132.1 538.6 133.6 538.3 135.1 538 136.6 537.7 137.8 536.8 136.6 536.2 135.6 535.9 135.1 534.8 133.6 534.7 133.5 534.7 133.6 534 135.1 533.4 136.6 533.2 137.4 532.8 138.1 531.7 139.3 531.5 139.6 530.9 141.1 530.5 142.6 530.2 143.7 530.1 142.6 530 141.1 529.9 139.6 529.7 138.1 529.4 136.6 528.7 135.4 527.2 136.5 527.1 136.6 525.7 137.3 525.2 138.1 524.7 139.6 524.4 141.1 524.2 142.3 523.6 141.1 522.8 139.6 522.7 139.4 522.3 138.1 521.5 136.6 521.2 136 520.4 136.6 519.7 136.9 519.6 136.6 519.1 135.1 519 133.6 518.8 132.1 518.6 130.6 518.3 129.1 518.2 128.8 518.1 129.1 517.8 130.6 517.6 132.1 517.4 133.6 517.1 135.1 516.7 136.4 515.2 135.1 515.2 135.1 514.7 133.6 514.3 132.1 513.9 130.6 513.7 129.9 513.5 129.1 513.1 127.6 512.9 126.1 512.8 124.6 512.8 123.1 512.9 121.6 513 120.1 513.3 118.6 513.7 117.2 513.7 117.1 513.8 115.6 513.7 115 512.2 114.4 512 114.1 510.7 113.2 510.4 112.6 510.1 111.1 509.9 109.6 509.7 108.1 509.5 106.6 509.3 105.1 509.2 103.6 509.2 102.4 509.1 103.6 508.9 105.1 508.7 106.6 508.6 108.1 508.4 109.6 508.3 111.1 508.2 112.6 508.1 114.1 507.7 115.1 507.4 114.1 507 112.6 506.7 111.1 506.4 109.6 506.2 108.6 504.7 108.6 504.6 108.1 504.4 106.6 504.2 105.1 504.1 103.6 504 102.1 503.8 100.6 503.2 99.7 502.3 100.6 502.1 102.1 502 103.6 501.9 105.1 501.8 106.6 501.7 106.8 501.7 106.6 501.3 105.1 501 103.6 500.5 102.1 500.2 100.8 500.2 100.6 500.1 99.1 499.5 97.6 498.7 96.9 498 97.6 497.2 98.4 495.7 97.6 495.7 97.6 494.9 96.1 494.5 94.6 494.2 93.9 493.8 94.6 493.1 96.1 492.7 96.8 491.3 97.6 491.2 97.6 491.2 97.6 489.9 96.1 489.7 96 489.6 96.1 488.5 97.6 488.2 98.2 486.7 98.9 485.5 97.6 485.2 97.2 485 97.6 484.4 99.1 483.9 100.6 483.7 101.3M578.5 31.6 578.5 33.1 578.5 34.6 578.5 36.1 578.5 37.6 578.4 39.1 578.2 40.6 578.2 40.8 578.2 40.6 577.9 39.1 577.8 37.6 577.7 36.1 577.7 34.6 577.7 33.1 577.7 31.6M564.7 49 564.6 49.6 564.6 51.1 564.6 52.6 564.7 53 565.1 54.1 565.7 55.6 566.2 56.6 566.8 55.6 566.8 54.1 566.6 52.6 566.2 51.9 565.2 51.1 564.8 49.6 564.7 49M549.7 91.6 549.6 91.6 548.2 92.1 548.2 93.1 548.2 94.6 548.2 94.7 549.7 95.2 549.9 94.6 550 93.1 549.7 91.6 549.7 91.6M536.2 105.1 536.2 105.1 536.1 106.6 536.2 108.1 536.2 108.3 536.5 109.6 536.7 111.1 536.9 112.6 537.3 114.1 537.7 115.1 538.2 114.1 538.6 112.6 538.9 111.1 538.9 109.6 538.6 108.1 538 106.6 537.7 106.2 536.3 105.1 536.2 105.1M518.2 112.5 518.2 112.6 517.8 114.1 517.4 115.6 517.1 117.1 516.7 118.4 516.7 118.6 516.4 120.1 516.4 121.6 516.5 123.1 516.7 123.8 517.1 123.1 518 121.6 518.2 121.4 518.4 120.1 518.6 118.6 518.7 117.1 518.6 115.6 518.5 114.1 518.2 112.6 518.2 112.5M509.2 116.8 509.3 117.1 509.4 118.6 509.4 120.1 509.2 121.3 508.5 120.1 508.6 118.6 508.9 117.1 509.2 116.8M552.7 121.5 552.7 121.6 553 123.1 552.9 124.6 552.7 125.9 552.4 124.6 552.4 123.1 552.7 121.6 552.7 121.5M530.2 124.1 530.2 124.6 530.1 126.1 530.1 127.6 530.2 129.1 530.2 129.8 530.2 129.1 530.2 127.6 530.2 126.1 530.2 124.6 530.2 124.1M510.7 125.8 510.7 126.1 510.7 126.1 510.7 126.1 510.7 125.8M559.9 31.6 559.8 33.1 559.9 34.6 559.9 36.1 560 37.6 560.2 38.8 560.4 37.6 560.5 36.1 560.5 34.6 560.5 33.1 560.5 31.6M566.1 31.6 566.1 33.1 566.2 34.6 566.2 34.7 566.2 34.6 566.7 33.1 566.9 31.6M568 31.6 568 33.1 568.2 34.6 568.3 36.1 568.4 37.6 568.4 39.1 567.7 39.5 567.1 40.6 566.8 42.1 566.7 43.6 566.5 45.1 566.2 46.6 566.2 46.7 566.2 46.6 565.8 45.1 565.4 43.6 564.7 42.1 563.8 43.6 563.5 45.1 563.3 46.6 563.2 47.2 562.9 46.6 561.8 45.1 561.7 45 561.7 45.1 561.4 46.6 561.3 48.1 561.1 49.6 561 51.1 561 52.6 561.1 54.1 561.4 55.6 561.7 56.3 562.1 57.1 562.6 58.6 562.8 60.1 562.8 61.6 562.7 63.1 562.6 64.6 562.4 66.1 562.1 67.6 561.7 69.1 561.7 69.1 560.9 70.6 560.6 72.1 560.6 73.6 560.6 75.1 560.6 76.6 560.6 78.1 560.6 79.6 560.5 81.1 560.2 82.3 560 81.1 559.7 79.6 559.4 78.1 559.2 76.6 559 75.1 558.7 74.2 558 75.1 557.2 75.8 556.4 75.1 556.3 73.6 556.1 72.1 555.7 71 555.3 72.1 555 73.6 554.9 75.1 555.7 76.2 556.1 76.6 556.2 78.1 556.2 79.6 556.2 81.1 556.2 82.6 556.2 84.1 556.2 85.6 556.1 87.1 556 88.6 555.8 90.1 555.7 91.3 555.6 90.1 555.4 88.6 555.2 87.1 555.1 85.6 555 84.1 554.9 82.6 554.8 81.1 554.6 79.6 554.5 78.1 554.2 77 554.1 76.6 553.5 75.1 552.7 73.8 551.9 75.1 551.8 76.6 551.6 78.1 551.4 79.6 551.2 80.7 551.1 81.1 551 82.6 550.8 84.1 550.1 85.6 549.7 85.9 549.5 85.6 549.1 84.1 548.9 82.6 548.6 81.1 548.2 79.6 548.2 79.5 548.2 79.6 548 81.1 547.8 82.6 547.8 84.1 547.7 85.6 547.7 87.1 547.6 88.6 547.5 90.1 547.3 91.6 547.1 93.1 546.8 94.6 546.7 95.5 546.3 96.1 546.1 97.6 546.7 98.9 546.7 99.1 547.1 100.6 547.4 102.1 547.5 103.6 547.5 105.1 547.4 106.6 547.2 108.1 547 109.6 546.8 111.1 546.7 112.1 546.3 111.1 546 109.6 545.9 108.1 545.9 106.6 545.8 105.1 545.7 103.6 545.5 102.1 545.2 101 544.9 102.1 544.6 103.6 544.5 105.1 544.5 106.6 544.4 108.1 544.4 109.6 544.3 111.1 544.1 112.6 544 114.1 543.9 115.6 543.9 117.1 543.9 118.6 543.8 120.1 543.7 121.1 543 120.1 542.2 119.7 541.9 120.1 541.5 121.6 541.3 123.1 541 124.6 540.7 126.1 540.7 126.1 540.7 126.1 540.1 124.6 539.6 123.1 539.3 121.6 539.2 120.6 539.1 120.1 539.2 119.6 539.4 118.6 540.3 117.1 540.7 116.5 540.9 115.6 541.1 114.1 541.3 112.6 541.6 111.1 542.2 109.8 542.3 109.6 542.8 108.1 543 106.6 543 105.1 543.1 103.6 543.1 102.1 543.2 100.6 543.2 99.1 543.1 97.6 543 96.1 542.7 94.6 542.2 93.1 542.2 93 542.2 93.1 541.9 94.6 541.6 96.1 541.2 97.6 540.7 99 540.6 99.1 539.7 100.6 539.2 101.2 538 100.6 537.7 100.5 537 100.6 536.2 100.7 535.6 102.1 535.3 103.6 535 105.1 534.8 106.6 534.7 107.1 534 108.1 533.7 109.6 533.7 111.1 533.8 112.6 534 114.1 534.3 115.6 534.7 116.6 534.9 117.1 535.4 118.6 535.5 120.1 535.4 121.6 535 123.1 534.7 124.2 534.6 124.6 534.4 126.1 534.1 127.6 533.8 129.1 533.2 130.6 533.2 130.7 532.1 132.1 531.7 133.4 531.5 132.1 531.5 130.6 531.5 129.1 531.5 127.6 531.6 126.1 531.6 124.6 531.5 123.1 531.5 121.6 531.5 120.1 531.6 118.6 531.6 117.1 531.6 115.6 531.5 114.1 530.9 112.6 530.2 111.8 529.8 111.1 529.2 109.6 528.7 108.2 528.1 109.6 527.7 111.1 527.3 112.6 527.2 113.1 527.1 112.6 526.8 111.1 526.5 109.6 526.1 108.1 525.7 107.1 525 108.1 524.4 109.6 524.2 110.3 523.5 111.1 522.7 111.5 522.3 112.6 521.9 114.1 521.6 115.6 521.2 116.8 520.2 117.1 520 118.6 520.2 120.1 520.2 121.6 520.3 123.1 520.2 124.6 520.1 126.1 519.8 127.6 519.7 128.1 519.6 127.6 519.4 126.1 519.3 124.6 519.4 123.1 519.5 121.6 519.6 120.1 519.7 118.6 519.7 117.1 519.7 115.6 519.6 114.1 519.4 112.6 519.3 111.1 519.1 109.6 518.9 108.1 518.7 106.6 518.4 105.1 518.2 104.6 518.1 105.1 517.8 106.6 517.5 108.1 517.2 109.6 516.8 111.1 516.7 111.4 516.4 111.1 515.2 109.6 515.2 109.5 514.8 108.1 514.5 106.6 514.2 105.1 513.8 103.6 513.7 103.4 513.4 102.1 513.3 100.6 513.1 99.1 513 97.6 512.8 96.1 512.7 94.6 512.5 93.1 512.3 91.6 512.2 90.9 512 91.6 511.9 93.1 511.8 94.6 511.7 96.1 511.6 97.6 511.6 99.1 511.5 100.6 511.5 102.1 511.4 103.6 511.1 105.1 510.7 105.9 510.6 105.1 510.3 103.6 510.2 102.1 510 100.6 509.9 99.1 509.8 97.6 509.7 96.1 509.5 94.6 509.2 93.1 509.2 93 509.1 93.1 508.4 94.6 507.9 96.1 507.7 96.7 507.1 97.6 506.2 98.4 506 97.6 505.7 96.1 505.4 94.6 505.1 93.1 504.7 92.4 504.3 93.1 503.8 94.6 503.2 96 502.5 94.6 502.1 93.1 501.7 91.9 501.1 91.6 500.2 91.2 499.4 91.6 498.7 92 498.2 93.1 497.4 94.6 497.2 94.8 496.9 94.6 495.7 93.9 495.4 93.1 494.7 91.6 494.2 90.6 493.3 91.6 492.7 92.5 491.9 93.1 491.2 93.6 489.7 93.1 488.2 93.4 487.7 94.6 486.7 96 485.4 94.6 485.2 94.3 484.9 94.6 484 96.1 483.7 96.8M571.1 31.6 571.1 33.1 571.1 34.6 571.1 36.1 570.8 37.6 570.7 38.1 570.1 37.6 569.9 36.1 569.9 34.6 570 33.1 570.1 31.6M569.2 39.6 569.4 40.6 569.5 42.1 569.5 43.6 569.5 45.1 569.4 46.6 569.3 48.1 569.2 48.7 569 48.1 568.9 46.6 568.8 45.1 568.7 43.6 568.7 42.1 568.6 40.6 569.2 39.6M575.2 41.5 575.2 42.1 575.2 43.5 575 42.1 575.2 41.5M554.2 53.6 553.8 54.1 552.9 55.6 552.7 56.4 552.6 57.1 552.6 58.6 552.7 60.1 554.2 60 554.5 58.6 554.6 57.1 554.6 55.6 554.4 54.1 554.2 53.6M557.2 57 557.2 57.1 557.1 58.6 557.2 60.1 557.2 60.2 557.4 60.1 557.7 58.6 557.3 57.1 557.2 57M551.2 66.6 550.7 67.6 550.5 69.1 550.5 70.6 550.7 72.1 551.2 73.1 551.6 72.1 551.6 70.6 551.6 69.1 551.4 67.6 551.2 66.6M545.2 71.3 545.1 72.1 545.1 73.6 545.2 74.8 545.3 73.6 545.2 72.1 545.2 71.3M528.7 78.9 528.6 79.6 528.6 81.1 528.7 82.1 528.8 81.1 528.7 79.6 528.7 78.9M533.2 80.9 533.2 81.1 533.2 82.6 533.2 82.8 533.2 82.6 533.2 81.1 533.2 80.9M516.7 84.2 516.4 85.6 516.1 87.1 516 88.6 516.1 90.1 516.2 91.6 516.3 93.1 516.5 94.6 516.7 95.8 517 94.6 517.2 93.1 517.2 91.6 517.2 90.1 517.1 88.6 517 87.1 516.9 85.6 516.7 84.2M560.2 89.5 560.4 90.1 560.6 91.6 560.6 93.1 560.6 94.6 560.5 96.1 560.4 97.6 560.3 99.1 560.2 99.5 560.1 99.1 559.9 97.6 559.9 96.1 559.8 94.6 559.8 93.1 559.9 91.6 560.1 90.1 560.2 89.5M555.7 95.9 555.7 96.1 555.8 97.6 555.8 99.1 555.7 100.2 555.6 100.6 555.3 102.1 554.9 103.6 554.6 105.1 554.2 106.5 554 105.1 553.8 103.6 553.8 102.1 553.8 100.6 554 99.1 554.2 98.2 555.2 97.6 555.7 96.1 555.7 95.9M551.2 100.8 551.3 102.1 551.4 103.6 551.3 105.1 551.2 105.6 551.1 105.1 551 103.6 551 102.1 551.2 100.8M527.2 120.4 527.4 121.6 527.6 123.1 527.6 124.6 527.7 126.1 527.5 127.6 527.2 128.2 527 127.6 526.7 126.1 526.7 124.6 526.8 123.1 527 121.6 527.2 120.4M558.4 31.6 558.4 33.1 558.6 34.6 558.7 35.8 558.7 36.1 559 37.6 559.2 39.1 559.3 40.6 559.5 42.1 559.8 43.6 560.2 44.9 560.2 45.1 560.3 46.6 560.3 48.1 560.2 49.2 559.6 49.6 558.7 49.9 558.1 51.1 557.2 51.7 556.6 51.1 555.9 49.6 555.7 49 555.4 49.6 554.2 50.5 552.7 51 552.6 51.1 551.2 51.8 549.7 52.6 549.7 52.6 548.5 54.1 548.2 54.9 547.8 54.1 546.7 53.5 546.1 54.1 545.2 55.5 545.1 55.6 544.5 57.1 544 58.6 543.7 59.6 543.3 58.6 542.5 57.1 542.2 56.8 541.8 57.1 540.8 58.6 540.7 58.8 540.3 60.1 539.6 61.6 539.2 62.3 537.7 62.2 537.1 63.1 536.4 64.6 536.3 66.1 536.3 67.6 536.4 69.1 536.5 70.6 536.6 72.1 536.5 73.6 536.4 75.1 536.2 75.4 536.2 75.1 536 73.6 536 72.1 535.9 70.6 536 69.1 536.1 67.6 536.1 66.1 535.9 64.6 534.7 63.4 533.2 63.9 531.7 64 530.7 64.6 530.2 65.1 529.2 66.1 528.7 67.1 528.5 67.6 528 69.1 527.2 70.6 527.2 70.6 526.1 70.6 525.7 70.6 525.7 70.6 525.5 72.1 525.3 73.6 524.2 74.7 523.7 75.1 523.1 76.6 523 78.1 522.9 79.6 522.8 81.1 522.7 81.4 522.4 81.1 522.1 79.6 522.1 78.1 522.1 76.6 522.1 75.1 521.9 73.6 521.6 72.1 521.2 71.2 520.5 72.1 519.7 72.7 519.3 73.6 518.5 75.1 518.2 76.2 516.9 76.6 516.7 76.6 516.5 78.1 516.2 79.6 515.9 81.1 515.6 82.6 515.2 83.8 513.7 82.9 513.5 82.6 512.8 81.1 512.6 79.6 512.6 78.1 512.6 76.6 512.3 75.1 512.2 74.8 512 75.1 511.7 76.6 511.7 78.1 511.8 79.6 511.8 81.1 511.8 82.6 511.5 84.1 510.9 85.6 510.7 85.8 509.8 85.6 509.2 85 508.9 85.6 507.9 87.1 507.7 87.4 507.3 87.1 506.2 86.1 505.9 87.1 504.7 88.6 504.6 88.6 503.2 90 502.6 88.6 501.7 87.9 500.2 87.3 499.6 87.1 498.7 86.6 498.3 87.1 497.5 88.6 497.2 89.4 495.9 90.1 495.7 90.1 495.7 90.1 494.8 88.6 494.2 87.7 492.8 88.6 492.7 88.7 491.2 89.3 490.3 90.1 489.7 90.5 489.2 90.1 488.2 88.9 487.7 90.1 487.2 91.6 486.7 92.7 485.8 91.6 485.2 90.9 483.7 90.9M564.8 31.6 564.7 33.1 564.7 33.5 564.7 33.1 564.6 31.6M561.7 61.3 561.7 61.6 561.7 63.1 561.7 63.4 561.6 63.1 561.6 61.6 561.7 61.3M540.7 69.9 540.8 70.6 540.9 72.1 541 73.6 541.1 75.1 541.3 76.6 541.3 78.1 540.8 79.6 540.7 79.7 540 81.1 539.7 82.6 539.5 84.1 539.2 85.6 539.2 85.9 539 85.6 538.3 84.1 537.8 82.6 537.7 82.3 537.6 81.1 537.5 79.6 537.5 78.1 537.7 77.6 539.2 76.6 539.2 76.6 539.8 75.1 540.1 73.6 540.4 72.1 540.6 70.6 540.7 69.9M546.7 69.9 546.8 70.6 546.8 72.1 546.7 72.6 546.7 72.1 546.7 70.6 546.7 69.9M543.7 75.6 543.8 76.6 543.8 78.1 543.8 79.6 543.7 81.1 543.7 82.5 543.6 81.1 543.5 79.6 543.5 78.1 543.6 76.6 543.7 75.6M525.7 76.6 525.8 78.1 525.8 79.6 525.7 81.1 525.7 81.3 525.7 81.1 525.6 79.6 525.6 78.1 525.7 76.6M518.2 81.2 518.5 82.6 518.7 84.1 518.9 85.6 518.9 87.1 518.7 88.6 518.2 89.6 518.1 88.6 518 87.1 517.9 85.6 517.9 84.1 518 82.6 518.2 81.2M546.7 83.9 546.7 84.1 546.8 85.6 546.8 87.1 546.8 88.6 546.7 89.6 546.5 88.6 546.4 87.1 546.5 85.6 546.7 84.1 546.7 83.9M527.2 85.6 527.2 85.6 527.5 87.1 527.7 88.6 527.8 90.1 527.8 91.6 527.8 93.1 527.7 94.6 527.6 96.1 527.3 97.6 527.2 98.2 527.1 97.6 526.9 96.1 526.8 94.6 526.8 93.1 526.8 91.6 526.8 90.1 526.8 88.6 526.8 87.1 527.2 85.6 527.2 85.6M530.2 85.8 531.7 86.1 532 87.1 532.3 88.6 532.6 90.1 532.8 91.6 532.8 93.1 531.7 94.5 531.2 94.6 530.5 96.1 530.6 97.6 530.6 99.1 530.4 100.6 530.2 101.1 530.1 100.6 530 99.1 530 97.6 530 96.1 530.1 94.6 530.1 93.1 530 91.6 529.9 90.1 529.9 88.6 530 87.1 530.2 85.8M519.7 95.7 519.8 96.1 519.8 97.6 519.8 99.1 519.7 99.5 519.6 99.1 519.6 97.6 519.6 96.1 519.7 95.7M557.6 31.6 557.6 33.1 557.7 34.6 557.9 36.1 558 37.6 558.1 39.1 558.1 40.6 558.1 42.1 558 43.6 557.8 45.1 557.5 46.6 557.2 47.6 556.9 46.6 556.4 45.1 555.7 43.9 555.4 45.1 555 46.6 554.3 48.1 554.2 48.2 553.9 48.1 552.7 47.5 552.3 48.1 551.2 49.2 550.7 49.6 549.7 50.3 548.8 51.1 548.2 51.7 546.7 51.8 545.9 52.6 545.2 53.4 544.4 54.1 543.7 54.9 542.2 54.5 540.7 55 540.1 55.6 539.4 57.1 539.2 57.6 537.9 58.6 537.7 58.7 536.7 60.1 536.2 60.8 534.7 61.1 533.2 60.6 532.1 61.6 531.7 61.9 530.2 62.5 528.8 63.1 528.7 63.2 527.2 63.5 526.2 64.6 525.7 65.1 524.3 66.1 524.2 67.2 524.1 66.1 523.1 64.6 522.7 64.3 522 64.6 521.2 65 520.7 66.1 520.2 67.6 519.7 68.6 519.4 69.1 518.6 70.6 518.2 71.3 516.7 71.8 516.6 72.1 516.1 73.6 515.5 75.1 515.2 76.6 515.2 76.8 515.1 76.6 514.2 75.1 513.7 74.4 513.4 73.6 512.2 72.5 511.3 73.6 510.7 74.4 509.2 74.4 508.1 75.1 507.7 75.6 507.3 75.1 506.2 74.2 505.7 75.1 505.2 76.6 504.8 78.1 504.7 78.7 503.2 79 503 79.6 502.7 81.1 502.3 82.6 501.7 84 500.2 83.3 499.6 82.6 498.7 81.1 498.7 81.1 498.7 81.1 497.2 82.5 497.2 82.6 496.6 84.1 496.1 85.6 495.7 86.5 495 85.6 494.2 84.7 492.9 85.6 492.7 85.7 491.2 85.7 490.3 87.1 489.7 87.8 489.2 87.1 488.2 85.8 487.4 87.1 486.7 88.6 486.7 88.7 486.6 88.6 485.3 87.1 485.2 87 483.7 86.6M555.7 31.6 555.7 31.8 556 33.1 556.4 34.6 556.7 36.1 556.7 37.6 556.3 39.1 555.7 39.9 555.6 40.6 555.4 42.1 555.1 43.6 554.5 45.1 554.2 45.9 552.8 45.1 552.7 45.1 552.7 45.1 551.4 46.6 551.2 46.8 549.9 48.1 549.7 48.2 548.2 49.5 548.1 49.6 546.7 50.3 545.9 51.1 545.2 51.8 544.3 52.6 543.7 53.1 542.2 53.1 540.7 53.2 539.2 54.1 539.1 54.1 537.7 54.3 536.9 55.6 536.2 57 536.1 57.1 534.7 58.5 533.2 58.1 532.8 58.6 531.7 59.8 531.2 60.1 530.2 60.6 528.7 61.2 527.2 61 526.8 61.6 525.7 63 524.2 62.9 522.7 61.9 521.2 62.5 520.7 63.1 519.8 64.6 519.7 64.8 518.5 66.1 518.2 66.6 517.5 66.1 516.7 65.6 516.5 66.1 516.2 67.6 515.9 69.1 515.6 70.6 515.2 71.9 514.4 70.6 513.7 69.5 512.6 70.6 512.2 70.7 511 72.1 510.7 72.5 509.2 72.1 507.7 72.5 506.9 72.1 506.2 71.8 506 72.1 505.2 73.6 504.7 74.4 503.2 73.9 502 75.1 501.7 76.4 501.6 76.6 500.6 78.1 500.2 78.3 500.1 78.1 499.1 76.6 498.7 76.2 498.5 76.6 497.8 78.1 497.2 79.1 496.6 79.6 495.8 81.1 495.7 81.6 494.2 81.6 493.1 82.6 492.7 82.9 491.2 82.6 490.1 84.1 489.7 84.7 489.3 84.1 488.2 83.1 487.3 84.1 486.7 84.9 485.2 84.1 485.2 84.1 483.7 83.8M483.7 36.7 484.2 36.1 484.6 34.6 484.8 33.1 484.9 31.6M493 31.6 494.2 33 494.5 31.6M497.2 31.6 497.9 33.1 498.6 34.6 498.7 34.8 498.7 34.6 498.9 33.1 498.9 31.6M555.3 31.6 555.4 33.1 555.5 34.6 555.5 36.1 555.4 37.6 555.3 39.1 555.1 40.6 554.8 42.1 554.3 43.6 554.2 44 552.7 43.7 551.2 44.9 551 45.1 549.7 46.4 549.5 46.6 548.2 47.7 547.7 48.1 546.7 48.7 545.9 49.6 545.2 50.3 544.4 51.1 543.7 51.7 542.2 51.8 540.7 51.8 539.2 52.4 537.7 52 537.2 52.6 536.2 53.9 535.3 54.1 534.7 54.3 533.6 55.6 533.2 55.8 532.2 57.1 531.7 57.7 530.4 58.6 530.2 58.7 528.7 59.3 527.2 59 526.5 60.1 525.7 61.2 524.2 60.9 522.9 60.1 522.7 60 522.5 60.1 521.2 60.7 520 61.6 519.7 62 518.2 62.5 516.7 62.3 516.1 63.1 515.5 64.6 515.2 65.5 513.7 65.5 513.6 66.1 513 67.6 512.2 68.9 512.1 69.1 510.8 70.6 510.7 70.7 510.4 70.6 509.2 69.8 507.7 69.4 506.2 69.5 505.7 70.6 504.9 72.1 504.7 72.4 504.3 72.1 503.2 71 501.7 71.5 501 72.1 500.2 73 498.7 72.5 498.1 73.6 497.3 75.1 497.2 75.4 496.7 75.1 495.7 74.4 495.3 75.1 494.7 76.6 494.2 77.7 494 78.1 492.7 79.5 491.2 79.6 491.2 79.6 489.7 80.4 488.2 80.4 487.3 81.1 486.7 81.7 485.2 81.2 484 81.1 483.7 81.1M483.7 43.9 484 45.1 485.2 45.7 485.5 45.1 485.9 43.6 486 42.1 486.2 40.6 486.5 39.1 486.7 38.5 487.3 37.6 488.2 36.7 489.1 37.6 489.7 38.8 490.3 37.6 490.9 36.1 491.1 34.6 491.1 33.1 491.2 31.6M555 31.6 555 33.1 555.1 34.6 555.1 36.1 555 37.6 554.8 39.1 554.6 40.6 554.2 42.1 554.2 42.1 552.7 42.5 551.2 43.6 551.2 43.6 549.7 44.8 549.3 45.1 548.2 46.1 547.4 46.6 546.7 47.1 546 48.1 545.2 49 544.5 49.6 543.7 50.3 542.2 50.5 540.7 50.4 539.2 50.9 537.7 50.2 536.9 51.1 536.2 51.9 534.7 51.3 534 52.6 533.2 53.8 532.8 54.1 531.7 55.4 531.6 55.6 530.2 57 529.8 57.1 528.7 57.5 527.2 57.1 526.2 58.6 525.7 59.4 524.2 58.8 523.6 58.6 522.7 58.3 522 58.6 521.2 59 519.7 59.4 518.2 59.1 516.7 60.1 516.7 60.1 515.2 61.6 514.9 61.6 513.7 61.8 513.4 63.1 513.1 64.6 512.6 66.1 512.2 67 511.7 67.6 510.7 68.8 509.6 67.6 509.2 67.1 507.7 66.2 506.2 67.2 506 67.6 505.3 69.1 504.7 70.3 503.8 69.1 503.2 68.1 501.7 68.3 500.2 68.9 498.7 68.7 498.5 69.1 497.6 70.6 497.2 71.3 495.9 70.6 495.7 70.5 494.7 69.1 494.4 67.6 494.3 66.1 494.2 64.6 494.3 63.1 494.5 61.6 494.9 60.1 495.5 58.6 495.7 58.2 496.1 57.1 496.2 55.6 496.3 54.1 496.3 52.6 496.3 51.1 496.3 49.6 496.3 48.1 496.1 46.6 495.8 45.1 495.7 44.7 495.7 45.1 495.4 46.6 495 48.1 494.4 49.6 494.2 49.9 494 49.6 493.5 48.1 493.3 46.6 493.3 45.1 493.3 43.6 493.4 42.1 493.7 40.6 494.2 39.2 495.7 40.1 496 39.1 497 37.6 497.2 37.4 497.3 37.6 498.2 39.1 498.7 40 499.2 40.6 499.7 42.1 500 43.6 500.2 44.7 500.4 43.6 500.7 42.1 500.8 40.6 500.8 39.1 500.6 37.6 500.2 36.1 500.2 36 499.9 34.6 499.8 33.1 499.7 31.6M483.7 54.8 484 54.1 484.5 52.6 485.1 51.1 485.2 50.8 485.3 51.1 485.6 52.6 485.8 54.1 486 55.6 486.1 57.1 486.1 58.6 486.3 60.1 486.6 61.6 486.7 61.8 488.2 62.5 488.7 63.1 489.6 64.6 489.7 64.9 489.8 64.6 490.5 63.1 491.2 62.2 491.5 61.6 491.9 60.1 492 58.6 492.1 57.1 492.1 55.6 492.7 54.7 492.9 55.6 493.1 57.1 493.3 58.6 493.5 60.1 493.8 61.6 494 63.1 494.1 64.6 494.1 66.1 494 67.6 493.9 69.1 493.8 70.6 493.7 72.1 493.5 73.6 493 75.1 492.7 75.6 491.2 76.2 489.7 75.8 489.2 76.6 488.2 77.5 487 78.1 486.7 78.3 486.3 78.1 485.2 77.5 484.2 76.6 483.9 75.1 484.1 73.6 484.2 72.1 484.2 70.6 484.1 69.1 483.8 67.6 483.7 67.2M503.2 31.7 503 33.1 502.8 34.6 502.7 36.1 502.8 37.6 503.2 38.4 503.8 37.6 504.1 36.1 503.9 34.6 503.5 33.1 503.2 31.7M491.2 49.5 491.2 49.6 491.4 51.1 491.6 52.6 491.2 54.1 491.2 54.1 491.2 54.1 491.1 52.6 491 51.1 491.2 49.6 491.2 49.5M508.3 31.6 508.4 33.1 508.7 34.6 509.2 36.1 509.2 36.1 509.2 36.1 509.4 34.6 509.6 33.1 509.7 31.6M511.6 31.6 511.7 33.1 511.9 34.6 512.2 35.5 512.4 34.6 512.5 33.1 512.6 31.6M554.6 31.6 554.7 33.1 554.7 34.6 554.7 36.1 554.6 37.6 554.4 39.1 554.2 40 553.8 40.6 552.7 41.3 551.6 42.1 551.2 42.4 549.7 43.4 549.5 43.6 548.2 44.6 547.2 45.1 546.7 45.4 546 46.6 545.2 47.7 544.6 48.1 543.7 48.9 542.2 49.2 540.7 49.1 539.2 49.6 537.7 48.6 536.7 49.6 536.2 50.2 535.3 49.6 534.7 49.2 534.4 49.6 533.6 51.1 533.2 51.8 531.7 52.6 531.7 52.6 530.9 54.1 530.2 55 528.9 55.6 528.7 55.7 528.4 55.6 527.2 55.2 527 55.6 526 57.1 525.7 57.6 524.8 57.1 524.2 56.7 522.7 56.6 521.7 57.1 521.2 57.3 519.7 57.2 519.5 57.1 518.2 56.4 517.7 57.1 516.7 58.2 515.2 58.6 513.7 57.9 513.5 58.6 513.1 60.1 512.8 61.6 512.5 63.1 512.2 64.6 512.2 64.6 510.9 66.1 510.7 66.3 510.5 66.1 509.8 64.6 509.3 63.1 509.2 62.9 508.6 61.6 508.2 60.1 507.9 58.6 507.7 57.6 507.5 58.6 507.3 60.1 507 61.6 506.6 63.1 506.2 64.1 506.1 64.6 505.4 66.1 504.8 67.6 504.7 67.8 504.6 67.6 503.8 66.1 503.2 64.9 501.7 65 500.2 65.5 499.6 64.6 499.4 63.1 499.4 61.6 499.5 60.1 499.5 58.6 499.5 57.1 499.6 55.6 500 54.1 500.2 53.8 501.7 52.6 501.7 52.5 502.1 51.1 502.3 49.6 502.4 48.1 502.6 46.6 502.8 45.1 503.2 43.8 504.7 44.6 505.4 43.6 506.2 42.2 506.2 42.1 506.7 40.6 507 39.1 507.1 37.6 507.3 36.1 507.3 34.6 507.3 33.1 507.3 31.6M495.7 62.8 496.2 63.1 497.2 64.6 497.2 64.6 497.2 64.6 496.9 66.1 495.7 66.8 495.5 66.1 495.4 64.6 495.6 63.1 495.7 62.8M519.6 31.6 519.7 33.1 519.7 33.4 519.7 33.1 519.7 31.6M554.3 31.6 554.3 33.1 554.4 34.6 554.4 36.1 554.2 37.6 554.2 37.6 553.5 39.1 552.7 40 552 40.6 551.2 41.2 549.8 42.1 549.7 42.1 548.2 43.2 546.7 43.4 546.6 43.6 546 45.1 545.2 46.4 544.9 46.6 543.7 47.4 542.2 47.8 540.7 47.9 539.8 48.1 539.2 48.3 539 48.1 537.7 47.1 536.7 48.1 536.2 48.6 535.5 48.1 534.7 47.6 534.2 48.1 533.3 49.6 533.2 49.8 532.1 49.6 531.7 49.5 531.7 49.6 530.8 51.1 530.2 52.4 529.6 52.6 528.7 53 527.2 52.7 526.5 54.1 525.7 55.6 525.7 55.7 525.6 55.6 524.4 54.1 524.2 53.6 523.6 54.1 522.7 54.4 521.2 55.5 519.7 54.8 518.8 54.1 518.2 53.5 517.9 54.1 517.1 55.6 516.7 56.2 515.2 56.2 514.6 55.6 514 54.1 513.7 52.6 513.7 52.4 513.6 52.6 513.3 54.1 513 55.6 512.6 57.1 512.3 58.6 512.2 59.5 511.3 58.6 510.7 58 510.1 57.1 509.4 55.6 509.4 54.1 509.9 52.6 510.4 51.1 510.7 49.6 510.7 49.6 510.7 49.2 510.7 48.1 510.5 46.6 510.2 45.1 510.1 43.6 510.1 42.1 510.2 40.6 510.3 39.1 510.5 37.6 510.7 36.5 511 37.6 512.2 39 512.7 37.6 513 36.1 513.2 34.6 513.4 33.1 513.4 31.6M516.7 38.5 516.7 39.1 516.6 40.6 516.7 41.5 516.8 40.6 516.8 39.1 516.7 38.5M553.6 31.6 553.7 33.1 553.8 34.6 553.8 36.1 553.3 37.6 552.7 38.6 552.2 39.1 551.2 40 550 40.6 549.7 40.8 548.2 41.8 546.7 41.4 546.4 42.1 545.8 43.6 545.2 44.9 544.8 45.1 543.7 45.6 542.2 46.4 540.7 46.6 540.7 46.6 539.2 47 538.7 46.6 537.7 45.6 536.7 46.6 536.2 47.1 535.4 46.6 534.7 46 534 46.6 533.2 47.6 531.7 46.7 530.4 48.1 530.2 48.4 529.4 48.1 528.7 47.5 528.4 48.1 527.2 49.3 527 49.6 526.2 51.1 525.7 52.2 525.3 51.1 524.8 49.6 524.4 48.1 524.2 47.2 523.5 48.1 522.7 49.3 522.5 49.6 521.3 51.1 521.2 51.3 521.1 51.1 520 49.6 519.7 48.8 518.2 49.2 517.8 48.1 517.7 46.6 517.8 45.1 518.1 43.6 518.2 43.4 518.4 43.6 519.6 45.1 519.7 45.4 519.7 45.1 520 43.6 520.3 42.1 520.4 40.6 520.5 39.1 520.7 37.6 520.8 36.1 520.9 34.6 521 33.1 521.1 31.6M528.7 39.7 528.6 40.6 528.7 42.1 528.7 42.1 528.7 42.1 528.7 40.6 528.7 39.7M515.2 41.3 515.3 42.1 515.4 43.6 515.6 45.1 515.7 46.6 515.8 48.1 515.9 49.6 515.8 51.1 515.3 52.6 515.2 52.7 515.2 52.6 514.9 51.1 514.8 49.6 514.7 48.1 514.5 46.6 514.4 45.1 514.4 43.6 514.7 42.1 515.2 41.3M512.2 42.9 512.9 43.6 512.9 45.1 512.6 46.6 512.2 47.7 512 46.6 511.9 45.1 512 43.6 512.2 42.9M528.3 31.6 528 33.1 527.7 34.6 527.3 36.1 527.2 36.6 526.9 36.1 526.3 34.6 525.7 33.1 525.7 32.9 525.5 31.6M531.1 31.6 531 33.1 530.9 34.6 530.7 36.1 530.5 37.6 530.4 39.1 530.3 40.6 530.2 42 530.1 40.6 530.1 39.1 530 37.6 529.8 36.1 529.4 34.6 529.1 33.1 528.9 31.6M552.9 31.6 552.9 33.1 553 34.6 553 36.1 552.7 36.9 552.3 37.6 551.2 38.7 550.3 39.1 549.7 39.4 548.2 40.3 546.7 39.5 545.9 40.6 545.3 42.1 545.2 42.5 544.4 42.1 543.7 41.2 543.5 42.1 542.9 43.6 542.2 44.4 540.7 45 540.6 45.1 539.2 45.6 538.7 45.1 537.8 43.6 537.7 43.2 537.5 43.6 536.6 45.1 536.2 45.5 535.7 45.1 534.7 43.9 533.6 43.6 533.5 42.1 533.5 40.6 533.5 39.1 533.5 37.6 533.4 36.1 533.3 34.6 533.2 33.1 533.2 33 533.1 31.6M525.7 44.3 526 45.1 525.7 45.7 525.6 45.1 525.7 44.3M543.4 31.6 543.4 33.1 543.4 34.6 543.4 36.1 543.1 37.6 542.7 39.1 542.2 40.5 540.7 39.1 540.7 39.1 540.7 39.1 540.2 40.6 539.6 42.1 539.2 42.7 539 42.1 538.6 40.6 538.2 39.1 537.7 37.6 537.7 37.5 537.7 37.6 537.3 39.1 536.9 40.6 536.4 42.1 536.2 42.6 536 42.1 535.4 40.6 535 39.1 534.8 37.6 534.9 36.1 535.4 34.6 536.2 33.6 536.8 33.1 537.2 31.6M551.8 31.6 551.9 33.1 552.1 34.6 551.9 36.1 551.2 37.2 550.4 37.6 549.7 37.9 548.2 38.6 546.7 37.6 546.7 37.6 546.5 37.6 545.2 38.1 544.9 37.6 544.3 36.1 544.1 34.6 544.2 33.1 544.2 31.6M549.4 31.6 549.7 32.1 549.8 33.1 550.1 34.6 549.7 35.4 549.1 36.1 548.2 36.5 547.8 36.1 547.4 34.6 547.6 33.1 547.8 31.6" fill="none" stroke="#000" stroke-opacity="0.95" stroke-width="0.55" stroke-linejoin="round"/><path d="M581.5 47 583.5 46 584.5 52 583.8 60 582 61 581 54Z" fill="#c9c9c9"/><path d="M599 43 601 42 602 55 601.6 70 599.8 72 598.6 58Z" fill="#c9c9c9"/><path d="M604 41 606.5 40 608.3 52 607.5 66 606 74 604 66 603.2 52Z" fill="#c9c9c9"/><path d="M610.3 42.5 612.5 43 612.8 52 611.5 57 610.2 50Z" fill="#c9c9c9"/><path d="M551.6 105 553.5 104.5 554.6 112 553.8 120 552 121 551.2 113Z" fill="#c9c9c9"/><path d="M527.2 108 529 107 530.4 114 529.6 122 528 123 527 115Z" fill="#c9c9c9"/><path d="M554.3 32.6V45" stroke="#000" stroke-width="1.2"/><rect x="483.7" y="22.6" width="130.00000000000006" height="10.0" fill="#c9c9c9"/></g></g><g shape-rendering="crispEdges"><rect x="53.6" y="236.7" width="13.9" height="40.7" fill="#fadcdc"/><rect x="53.6" y="251.7" width="13.9" height="0.5" fill="#f5b0b0"/><rect x="67.5" y="229.3" width="9.3" height="12.2" fill="#fadcdc"/><rect x="67.5" y="241.5" width="9.3" height="7.2" fill="#f08482"/><rect x="67.5" y="244.6" width="9.3" height="1.2" fill="#f5b0b0"/><rect x="67.5" y="248.7" width="9.3" height="27.1" fill="#fadcdc"/><rect x="67.5" y="277.4" width="9.3" height="1.6" fill="#fadcdc"/><rect x="67.5" y="280.6" width="9.3" height="2" fill="#fadcdc"/><rect x="67.5" y="294.6" width="9.3" height="0.6" fill="#fadcdc"/><rect x="76.8" y="216.9" width="7.6" height="10.3" fill="#fadcdc"/><rect x="76.8" y="227.2" width="7.6" height="9.5" fill="#f29694"/><rect x="76.8" y="236.7" width="7.6" height="25.6" fill="#fadcdc"/><rect x="76.8" y="267.4" width="7.6" height="8.4" fill="#fadcdc"/><rect x="76.8" y="279" width="7.6" height="10.3" fill="#fadcdc"/><rect x="76.8" y="292.5" width="7.6" height="3.2" fill="#fadcdc"/><rect x="84.4" y="206" width="12.6" height="5.3" fill="#fadcdc"/><rect x="84.4" y="211.3" width="12.6" height="5.6" fill="#f6b9b9"/><rect x="84.4" y="216.9" width="12.6" height="47" fill="#f08482"/><rect x="84.4" y="230.1" width="12.6" height="0.6" fill="#fceeee"/><rect x="84.4" y="242.3" width="12.6" height="0.6" fill="#fceeee"/><rect x="84.4" y="263.9" width="12.6" height="15.1" fill="#fadcdc"/><rect x="84.4" y="283.7" width="12.6" height="5.6" fill="#fadcdc"/><rect x="97" y="197" width="8.8" height="4.7" fill="#f04434"/><rect x="97" y="201.7" width="8.8" height="11.2" fill="#ee3627"/><rect x="97" y="212.9" width="8.8" height="4" fill="#f04434"/><rect x="97" y="216.9" width="8.8" height="3.1" fill="#f08482"/><rect x="97" y="220" width="8.8" height="5.6" fill="#fadcdc"/><rect x="97" y="246.4" width="8.8" height="11.9" fill="#fadcdc"/><rect x="97" y="262" width="8.8" height="5" fill="#fadcdc"/><rect x="105.8" y="197" width="8.5" height="8.7" fill="#ee3627"/><rect x="105.8" y="205.7" width="8.5" height="6.1" fill="#f04130"/><rect x="105.8" y="211.8" width="8.5" height="5.1" fill="#f05e53"/><rect x="105.8" y="216.9" width="8.5" height="19.1" fill="#f08482"/><rect x="105.8" y="222.5" width="8.5" height="0.5" fill="#f5b0b0"/><rect x="105.8" y="228.3" width="8.5" height="0.5" fill="#f5b0b0"/><rect x="105.8" y="236" width="8.5" height="7.2" fill="#fadcdc"/><rect x="114.3" y="215" width="9.5" height="4.2" fill="#fadcdc"/><rect x="114.3" y="219.2" width="9.5" height="22.6" fill="#f08482"/><rect x="114.3" y="222.5" width="9.5" height="0.5" fill="#f4a7a7"/><rect x="114.3" y="241.8" width="9.5" height="5.4" fill="#fadcdc"/></g><g shape-rendering="crispEdges"><rect x="271.8" y="233.6" width="13.9" height="4.7" fill="#fadcdc"/><rect x="271.8" y="238.3" width="13.9" height="2.4" fill="#f5b0b0"/><rect x="271.8" y="240.7" width="13.9" height="3.2" fill="#f08482"/><rect x="271.8" y="243.9" width="13.9" height="3.1" fill="#f04434"/><rect x="271.8" y="247" width="13.9" height="19.2" fill="#ee3627"/><rect x="271.8" y="266.2" width="13.9" height="6.1" fill="#f08482"/><rect x="271.8" y="272.3" width="13.9" height="6.5" fill="#fadcdc"/><rect x="271.8" y="293.6" width="13.9" height="2" fill="#fadcdc"/><rect x="271.8" y="297.2" width="13.9" height="3.3" fill="#fadcdc"/><rect x="271.8" y="305.8" width="13.9" height="0.8" fill="#fadcdc"/><rect x="285.7" y="227.2" width="9.3" height="4" fill="#fadcdc"/><rect x="285.7" y="231.2" width="9.3" height="4.8" fill="#f08482"/><rect x="285.7" y="236" width="9.3" height="19.9" fill="#ee3627"/><rect x="285.7" y="255.9" width="9.3" height="4.8" fill="#f08482"/><rect x="285.7" y="260.7" width="9.3" height="3.1" fill="#f5b0b0"/><rect x="285.7" y="263.8" width="9.3" height="3.2" fill="#fceaea"/><rect x="285.7" y="267" width="9.3" height="6.5" fill="#f08482"/><rect x="285.7" y="273.5" width="9.3" height="13.2" fill="#fadcdc"/><rect x="285.7" y="290.7" width="9.3" height="5.9" fill="#fadcdc"/><rect x="285.7" y="301.9" width="9.3" height="1.7" fill="#fadcdc"/><rect x="285.7" y="304.4" width="9.3" height="6.9" fill="#fadcdc"/><rect x="295" y="215" width="7.6" height="2.7" fill="#fadcdc"/><rect x="295" y="217.7" width="7.6" height="2.3" fill="#f08482"/><rect x="295" y="220" width="7.6" height="28.7" fill="#ee3627"/><rect x="295" y="248.7" width="7.6" height="13.5" fill="#f08482"/><rect x="295" y="262.2" width="7.6" height="6.4" fill="#fadcdc"/><rect x="295" y="268.6" width="7.6" height="2.9" fill="#f08482"/><rect x="295" y="271.5" width="7.6" height="8.3" fill="#fadcdc"/><rect x="295" y="279.8" width="7.6" height="4.4" fill="#f08482"/><rect x="295" y="284.2" width="7.6" height="5.5" fill="#fadcdc"/><rect x="295" y="304.7" width="7.6" height="0.6" fill="#fadcdc"/><rect x="302.6" y="205.4" width="12.6" height="1.9" fill="#fadcdc"/><rect x="302.6" y="207.3" width="12.6" height="2.4" fill="#f08482"/><rect x="302.6" y="209.7" width="12.6" height="28.6" fill="#ee3627"/><rect x="302.6" y="238.3" width="12.6" height="27.1" fill="#f07772"/><rect x="302.6" y="265.4" width="12.6" height="3.2" fill="#f5b0b0"/><rect x="302.6" y="268.6" width="12.6" height="10.2" fill="#fadcdc"/><rect x="302.6" y="307" width="12.6" height="4.7" fill="#d4ecfa"/><rect x="315.2" y="197" width="8.8" height="17.5" fill="#af161f"/><rect x="315.2" y="214.5" width="8.8" height="2.4" fill="#d82026"/><rect x="315.2" y="216.9" width="8.8" height="5.5" fill="#ee3627"/><rect x="315.2" y="222.4" width="8.8" height="2.4" fill="#f08482"/><rect x="315.2" y="224.8" width="8.8" height="2.4" fill="#f5b0b0"/><rect x="315.2" y="227.2" width="8.8" height="3.2" fill="#fadcdc"/><rect x="315.2" y="243.9" width="8.8" height="3.2" fill="#fadcdc"/><rect x="315.2" y="247.1" width="8.8" height="9.6" fill="#f08482"/><rect x="315.2" y="256.7" width="8.8" height="5.5" fill="#f5b0b0"/><rect x="315.2" y="262.2" width="8.8" height="4" fill="#f29694"/><rect x="315.2" y="266.2" width="8.8" height="9.3" fill="#fadcdc"/><rect x="315.2" y="299.1" width="8.8" height="13.8" fill="#d4ecfa"/><rect x="324" y="197" width="8.5" height="8.7" fill="#af161f"/><rect x="324" y="205.7" width="8.5" height="3.2" fill="#d82026"/><rect x="324" y="208.9" width="8.5" height="12.7" fill="#ee3627"/><rect x="324" y="221.6" width="8.5" height="14.4" fill="#f08482"/><rect x="324" y="236" width="8.5" height="6.4" fill="#f5b0b0"/><rect x="324" y="242.4" width="8.5" height="3.1" fill="#fadcdc"/><rect x="324" y="333" width="8.5" height="3.6" fill="#d4ecfa"/><rect x="332.5" y="215" width="9.5" height="3.4" fill="#fadcdc"/><rect x="332.5" y="218.4" width="9.5" height="12" fill="#f5b0b0"/><rect x="332.5" y="230.4" width="9.5" height="6.3" fill="#f08482"/><rect x="332.5" y="236.7" width="9.5" height="5.7" fill="#f04130"/><rect x="332.5" y="242.4" width="9.5" height="3.9" fill="#f5b0b0"/><rect x="332.5" y="331.4" width="9.5" height="5.2" fill="#d4ecfa"/><rect x="342" y="324.7" width="9.4" height="5.9" fill="#d4ecfa"/><rect x="351.4" y="275.9" width="9" height="4.3" fill="#d4ecfa"/><rect x="351.4" y="285.7" width="9" height="0.8" fill="#d4ecfa"/><rect x="351.4" y="313.3" width="9" height="13.8" fill="#d4ecfa"/><rect x="360.4" y="272.3" width="9.3" height="1.4" fill="#d4ecfa"/><rect x="360.4" y="282.8" width="9.3" height="0.5" fill="#d4ecfa"/><rect x="360.4" y="307" width="9.3" height="15.2" fill="#d4ecfa"/><rect x="369.7" y="301.1" width="8.9" height="8.7" fill="#d4ecfa"/><rect x="369.7" y="310.9" width="8.9" height="1.4" fill="#d4ecfa"/></g><g shape-rendering="crispEdges"><rect x="497.8" y="238.3" width="13.9" height="4.6" fill="#d4ecfa"/><rect x="497.8" y="242.9" width="13.9" height="8.9" fill="#81c6eb"/><rect x="497.8" y="251.8" width="13.9" height="4.9" fill="#3ca4dc"/><rect x="497.8" y="256.7" width="13.9" height="7.9" fill="#7cc3ea"/><rect x="497.8" y="264.6" width="13.9" height="5.9" fill="#d4ecfa"/><rect x="497.8" y="323.3" width="13.9" height="0.5" fill="#fadcdc"/><rect x="511.7" y="232" width="9.3" height="4.7" fill="#d4ecfa"/><rect x="511.7" y="236.7" width="9.3" height="4.8" fill="#6cbce8"/><rect x="511.7" y="241.5" width="9.3" height="9.3" fill="#1e8cd0"/><rect x="511.7" y="250.8" width="9.3" height="6.5" fill="#6cbce8"/><rect x="511.7" y="257.3" width="9.3" height="6.3" fill="#a0d4f0"/><rect x="511.7" y="268.5" width="9.3" height="3.9" fill="#d4ecfa"/><rect x="521" y="217.7" width="7.6" height="2.3" fill="#d4ecfa"/><rect x="521" y="220" width="7.6" height="4" fill="#a0d4f0"/><rect x="521" y="224" width="7.6" height="6.4" fill="#4faee1"/><rect x="521" y="230.4" width="7.6" height="6.3" fill="#1e8cd0"/><rect x="521" y="236.7" width="7.6" height="3.2" fill="#3ca4dc"/><rect x="521" y="239.9" width="7.6" height="8.9" fill="#6cbce8"/><rect x="521" y="248.8" width="7.6" height="3" fill="#d4ecfa"/><rect x="521" y="255.7" width="7.6" height="5.9" fill="#d4ecfa"/><rect x="528.6" y="205.7" width="12.6" height="3.2" fill="#d4ecfa"/><rect x="528.6" y="208.9" width="12.6" height="4" fill="#a0d4f0"/><rect x="528.6" y="212.9" width="12.6" height="4" fill="#6cbce8"/><rect x="528.6" y="216.9" width="12.6" height="11.1" fill="#2793d4"/><rect x="528.6" y="228" width="12.6" height="4" fill="#3ca4dc"/><rect x="528.6" y="232" width="12.6" height="5.5" fill="#6cbce8"/><rect x="528.6" y="237.5" width="12.6" height="28" fill="#d4ecfa"/><rect x="528.6" y="302" width="12.6" height="0.5" fill="#fadcdc"/><rect x="528.6" y="306.2" width="12.6" height="7.4" fill="#fadcdc"/><rect x="541.2" y="197" width="8.8" height="8.7" fill="#2458ac"/><rect x="541.2" y="205.7" width="8.8" height="11.2" fill="#2068b8"/><rect x="541.2" y="216.9" width="8.8" height="2.3" fill="#1e8cd0"/><rect x="541.2" y="219.2" width="8.8" height="2.4" fill="#6cbce8"/><rect x="541.2" y="221.6" width="8.8" height="2.4" fill="#a0d4f0"/><rect x="541.2" y="224" width="8.8" height="3.2" fill="#d4ecfa"/><rect x="541.2" y="247.8" width="8.8" height="7.9" fill="#d4ecfa"/><rect x="541.2" y="308.1" width="8.8" height="7.1" fill="#fadcdc"/><rect x="550" y="197" width="8.5" height="8" fill="#2260b2"/><rect x="550" y="205" width="8.5" height="3.9" fill="#1e8cd0"/><rect x="550" y="208.9" width="8.5" height="4" fill="#3ca4dc"/><rect x="550" y="212.9" width="8.5" height="4" fill="#6cbce8"/><rect x="550" y="216.9" width="8.5" height="5.5" fill="#d4ecfa"/><rect x="550" y="228.8" width="8.5" height="10.3" fill="#d4ecfa"/><rect x="550" y="240.7" width="8.5" height="0.8" fill="#d4ecfa"/><rect x="550" y="333.7" width="8.5" height="2.9" fill="#fadcdc"/><rect x="558.5" y="232" width="9.5" height="11.1" fill="#d4ecfa"/><rect x="558.5" y="244" width="9.5" height="0.8" fill="#d4ecfa"/><rect x="558.5" y="334.9" width="9.5" height="1.7" fill="#fadcdc"/><rect x="568" y="327.4" width="9.4" height="3" fill="#fadcdc"/><rect x="577.4" y="278.8" width="9" height="0.5" fill="#fadcdc"/><rect x="577.4" y="283.7" width="9" height="0.5" fill="#fadcdc"/><rect x="577.4" y="286.8" width="9" height="2" fill="#fadcdc"/><rect x="577.4" y="291.4" width="9" height="0.5" fill="#fadcdc"/><rect x="577.4" y="294.2" width="9" height="1.1" fill="#fadcdc"/><rect x="577.4" y="313.2" width="9" height="2" fill="#fadcdc"/><rect x="577.4" y="317.6" width="9" height="11.8" fill="#fadcdc"/><rect x="586.4" y="284.6" width="9.3" height="0.5" fill="#fadcdc"/><rect x="586.4" y="308.7" width="9.3" height="12.8" fill="#fadcdc"/><rect x="595.7" y="303.4" width="8.9" height="6.3" fill="#fadcdc"/></g><path d="M39.5 23V163.7H169.8" fill="none" stroke="#444" stroke-width="0.6"/><path d="M46.4 163.5v-1.4M100.5 163.5v-1.4M154.6 163.5v-1.4M39.5 58.12h1.4M39.5 93.25h1.4M39.5 128.38h1.4" stroke="#444" stroke-width="0.7" fill="none"/><text x="35.1" y="27.3" font-size="11.3" text-anchor="end" >0</text><text x="35.1" y="62.42" font-size="11.3" text-anchor="end" >100</text><text x="35.1" y="97.55" font-size="11.3" text-anchor="end" >200</text><text x="35.1" y="132.68" font-size="11.3" text-anchor="end" >300</text><text x="35.1" y="167.8" font-size="11.3" text-anchor="end" >400</text><text x="46.4" y="179.7" font-size="11.3" text-anchor="middle" >39</text><text x="100.5" y="179.7" font-size="11.3" text-anchor="middle" >39.1</text><text x="154.6" y="179.7" font-size="11.3" text-anchor="middle" >39.2</text><rect x="39.5" y="195.4" width="130.3" height="141.2" fill="none" stroke="#6a6a6a" stroke-width="0.75"/><path d="M46.4 336.6v-1.4M46.4 195.4v1.4M100.5 336.6v-1.4M100.5 195.4v1.4M154.6 336.6v-1.4M154.6 195.4v1.4M39.5 230.7h1.4M169.8 230.7h-1.4M39.5 266h1.4M169.8 266h-1.4M39.5 301.3h1.4M169.8 301.3h-1.4" stroke="#6a6a6a" stroke-width="0.7" fill="none"/><text x="35.1" y="199.7" font-size="11.3" text-anchor="end" >0</text><text x="35.1" y="235" font-size="11.3" text-anchor="end" >100</text><text x="35.1" y="270.3" font-size="11.3" text-anchor="end" >200</text><text x="35.1" y="305.6" font-size="11.3" text-anchor="end" >300</text><text x="35.1" y="340.9" font-size="11.3" text-anchor="end" >400</text><text x="46.4" y="352.8" font-size="11.3" text-anchor="middle" >39</text><text x="100.5" y="352.8" font-size="11.3" text-anchor="middle" >39.1</text><text x="154.6" y="352.8" font-size="11.3" text-anchor="middle" >39.2</text><text x="104.65" y="373" font-size="13" text-anchor="middle">Lat (<tspan font-size="9.8" dy="-4.8">o</tspan><tspan dy="4.8">N)</tspan></text><path d="M257.7 23V163.7H387.8" fill="none" stroke="#444" stroke-width="0.6"/><path d="M264.3 163.5v-1.4M318.4 163.5v-1.4M372.5 163.5v-1.4M257.7 58.12h1.4M257.7 93.25h1.4M257.7 128.38h1.4" stroke="#444" stroke-width="0.7" fill="none"/><text x="253.3" y="27.3" font-size="11.3" text-anchor="end" >0</text><text x="253.3" y="62.42" font-size="11.3" text-anchor="end" >100</text><text x="253.3" y="97.55" font-size="11.3" text-anchor="end" >200</text><text x="253.3" y="132.68" font-size="11.3" text-anchor="end" >300</text><text x="253.3" y="167.8" font-size="11.3" text-anchor="end" >400</text><text x="264.3" y="179.7" font-size="11.3" text-anchor="middle" >39</text><text x="318.4" y="179.7" font-size="11.3" text-anchor="middle" >39.1</text><text x="372.5" y="179.7" font-size="11.3" text-anchor="middle" >39.2</text><rect x="257.7" y="195.4" width="130.1" height="141.2" fill="none" stroke="#6a6a6a" stroke-width="0.75"/><path d="M264.3 336.6v-1.4M264.3 195.4v1.4M318.4 336.6v-1.4M318.4 195.4v1.4M372.5 336.6v-1.4M372.5 195.4v1.4M257.7 230.7h1.4M387.8 230.7h-1.4M257.7 266h1.4M387.8 266h-1.4M257.7 301.3h1.4M387.8 301.3h-1.4" stroke="#6a6a6a" stroke-width="0.7" fill="none"/><text x="253.3" y="199.7" font-size="11.3" text-anchor="end" >0</text><text x="253.3" y="235" font-size="11.3" text-anchor="end" >100</text><text x="253.3" y="270.3" font-size="11.3" text-anchor="end" >200</text><text x="253.3" y="305.6" font-size="11.3" text-anchor="end" >300</text><text x="253.3" y="340.9" font-size="11.3" text-anchor="end" >400</text><text x="264.3" y="352.8" font-size="11.3" text-anchor="middle" >39</text><text x="318.4" y="352.8" font-size="11.3" text-anchor="middle" >39.1</text><text x="372.5" y="352.8" font-size="11.3" text-anchor="middle" >39.2</text><text x="322.75" y="373" font-size="13" text-anchor="middle">Lat (<tspan font-size="9.8" dy="-4.8">o</tspan><tspan dy="4.8">N)</tspan></text><path d="M483.7 23V163.7H613.7" fill="none" stroke="#444" stroke-width="0.6"/><path d="M490.4 163.5v-1.4M544.5 163.5v-1.4M598.6 163.5v-1.4M483.7 58.12h1.4M483.7 93.25h1.4M483.7 128.38h1.4" stroke="#444" stroke-width="0.7" fill="none"/><text x="479.3" y="27.3" font-size="11.3" text-anchor="end" >0</text><text x="479.3" y="62.42" font-size="11.3" text-anchor="end" >100</text><text x="479.3" y="97.55" font-size="11.3" text-anchor="end" >200</text><text x="479.3" y="132.68" font-size="11.3" text-anchor="end" >300</text><text x="479.3" y="167.8" font-size="11.3" text-anchor="end" >400</text><text x="490.4" y="179.7" font-size="11.3" text-anchor="middle" >39</text><text x="544.5" y="179.7" font-size="11.3" text-anchor="middle" >39.1</text><text x="598.6" y="179.7" font-size="11.3" text-anchor="middle" >39.2</text><rect x="483.7" y="195.4" width="130" height="141.2" fill="none" stroke="#6a6a6a" stroke-width="0.75"/><path d="M490.4 336.6v-1.4M490.4 195.4v1.4M544.5 336.6v-1.4M544.5 195.4v1.4M598.6 336.6v-1.4M598.6 195.4v1.4M483.7 230.7h1.4M613.7 230.7h-1.4M483.7 266h1.4M613.7 266h-1.4M483.7 301.3h1.4M613.7 301.3h-1.4" stroke="#6a6a6a" stroke-width="0.7" fill="none"/><text x="479.3" y="199.7" font-size="11.3" text-anchor="end" >0</text><text x="479.3" y="235" font-size="11.3" text-anchor="end" >100</text><text x="479.3" y="270.3" font-size="11.3" text-anchor="end" >200</text><text x="479.3" y="305.6" font-size="11.3" text-anchor="end" >300</text><text x="479.3" y="340.9" font-size="11.3" text-anchor="end" >400</text><text x="490.4" y="352.8" font-size="11.3" text-anchor="middle" >39</text><text x="544.5" y="352.8" font-size="11.3" text-anchor="middle" >39.1</text><text x="598.6" y="352.8" font-size="11.3" text-anchor="middle" >39.2</text><text x="548.7" y="373" font-size="13" text-anchor="middle">Lat (<tspan font-size="9.8" dy="-4.8">o</tspan><tspan dy="4.8">N)</tspan></text><text transform="translate(10.8,93) rotate(-90)" font-size="12.7" text-anchor="middle">Depth (m)</text><text transform="translate(10.8,266) rotate(-90)" font-size="12.7" text-anchor="middle">Depth (m)</text><text x="13" y="12" font-size="14.5" text-anchor="start" >a</text><text x="231" y="12" font-size="14.5" text-anchor="start" >b</text><text x="456.5" y="12.2" font-size="14.5" text-anchor="start" >c</text><text x="12.6" y="184.6" font-size="14.5" text-anchor="start" >d</text><text x="230.5" y="184.6" font-size="14.5" text-anchor="start" >e</text><text x="456.8" y="184.6" font-size="14.5" text-anchor="start" >f</text><rect x="176.3" y="154.68" width="12.5" height="9.12" fill="#0000bf"/><rect x="176.3" y="145.85" width="12.5" height="9.12" fill="#0000ff"/><rect x="176.3" y="137.03" width="12.5" height="9.12" fill="#0040ff"/><rect x="176.3" y="128.2" width="12.5" height="9.12" fill="#0080ff"/><rect x="176.3" y="119.38" width="12.5" height="9.12" fill="#00bfff"/><rect x="176.3" y="110.55" width="12.5" height="9.12" fill="#00ffff"/><rect x="176.3" y="101.73" width="12.5" height="9.12" fill="#40ffbf"/><rect x="176.3" y="92.9" width="12.5" height="9.12" fill="#80ff80"/><rect x="176.3" y="84.08" width="12.5" height="9.12" fill="#bfff40"/><rect x="176.3" y="75.25" width="12.5" height="9.12" fill="#ffff00"/><rect x="176.3" y="66.43" width="12.5" height="9.12" fill="#ffbf00"/><rect x="176.3" y="57.6" width="12.5" height="9.12" fill="#ff8000"/><rect x="176.3" y="48.78" width="12.5" height="9.12" fill="#ff4000"/><rect x="176.3" y="39.95" width="12.5" height="9.12" fill="#ff0000"/><rect x="176.3" y="31.12" width="12.5" height="9.12" fill="#bf0000"/><rect x="176.3" y="22.3" width="12.5" height="9.12" fill="#800000"/><path d="M188.8 163.5h-1.4" stroke="#111" stroke-width="0.7"/><text x="192.4" y="167.9" font-size="11.3" text-anchor="start" >0</text><path d="M188.8 119.38h-1.4" stroke="#111" stroke-width="0.7"/><text x="192.4" y="123.78" font-size="11.3" text-anchor="start" >5</text><path d="M188.8 75.25h-1.4" stroke="#111" stroke-width="0.7"/><text x="192.4" y="79.65" font-size="11.3" text-anchor="start" >10</text><path d="M188.8 31.12h-1.4" stroke="#111" stroke-width="0.7"/><text x="192.4" y="35.52" font-size="11.3" text-anchor="start" >15</text><text x="172.8" y="17.6" font-size="11.3">(<tspan dx="0.6" font-size="10.5">°</tspan><tspan dx="-1.2">C</tspan><tspan dx="1">)</tspan></text><rect x="393.4" y="155.66" width="12.4" height="8.14" fill="#00008c"/><rect x="393.4" y="147.81" width="12.4" height="8.14" fill="#0000c8"/><rect x="393.4" y="139.97" width="12.4" height="8.14" fill="#0000ff"/><rect x="393.4" y="132.12" width="12.4" height="8.14" fill="#0030ff"/><rect x="393.4" y="124.28" width="12.4" height="8.14" fill="#0064ff"/><rect x="393.4" y="116.43" width="12.4" height="8.14" fill="#0098ff"/><rect x="393.4" y="108.59" width="12.4" height="8.14" fill="#00ccff"/><rect x="393.4" y="100.74" width="12.4" height="8.14" fill="#00ffff"/><rect x="393.4" y="92.9" width="12.4" height="8.14" fill="#34ffcb"/><rect x="393.4" y="85.06" width="12.4" height="8.14" fill="#68ff97"/><rect x="393.4" y="77.21" width="12.4" height="8.14" fill="#9cff63"/><rect x="393.4" y="69.37" width="12.4" height="8.14" fill="#d0ff2f"/><rect x="393.4" y="61.52" width="12.4" height="8.14" fill="#ffff00"/><rect x="393.4" y="53.68" width="12.4" height="8.14" fill="#ffcc00"/><rect x="393.4" y="45.83" width="12.4" height="8.14" fill="#ff9800"/><rect x="393.4" y="37.99" width="12.4" height="8.14" fill="#ff6400"/><rect x="393.4" y="30.14" width="12.4" height="8.14" fill="#ff3000"/><rect x="393.4" y="22.3" width="12.4" height="8.14" fill="#ff0000"/><path d="M405.8 30.6h-1.4" stroke="#111" stroke-width="0.7"/><text x="409.6" y="34.9" font-size="11.3" text-anchor="start" >34.5</text><path d="M405.8 70.4h-1.4" stroke="#111" stroke-width="0.7"/><text x="409.6" y="74.7" font-size="11.3" text-anchor="start" >34</text><path d="M405.8 109.7h-1.4" stroke="#111" stroke-width="0.7"/><text x="409.6" y="114" font-size="11.3" text-anchor="start" >33.5</text><path d="M405.8 148.7h-1.4" stroke="#111" stroke-width="0.7"/><text x="409.6" y="153" font-size="11.3" text-anchor="start" >33</text><text x="385.2" y="17.3" font-size="11.3" text-anchor="start" >(psu)</text><rect x="619.3" y="156.46" width="12.4" height="7.34" fill="#0d0dff"/><rect x="619.3" y="149.41" width="12.4" height="7.34" fill="#2626ff"/><rect x="619.3" y="142.37" width="12.4" height="7.34" fill="#4040ff"/><rect x="619.3" y="135.32" width="12.4" height="7.34" fill="#5959ff"/><rect x="619.3" y="128.28" width="12.4" height="7.34" fill="#7373ff"/><rect x="619.3" y="121.23" width="12.4" height="7.34" fill="#8c8cff"/><rect x="619.3" y="114.19" width="12.4" height="7.34" fill="#a6a6ff"/><rect x="619.3" y="107.14" width="12.4" height="7.34" fill="#bfbfff"/><rect x="619.3" y="100.09" width="12.4" height="7.34" fill="#d9d9ff"/><rect x="619.3" y="93.05" width="12.4" height="7.34" fill="#f2f2ff"/><rect x="619.3" y="86" width="12.4" height="7.34" fill="#fff2f2"/><rect x="619.3" y="78.96" width="12.4" height="7.34" fill="#ffd9d9"/><rect x="619.3" y="71.92" width="12.4" height="7.34" fill="#ffbfbf"/><rect x="619.3" y="64.87" width="12.4" height="7.34" fill="#ffa6a6"/><rect x="619.3" y="57.83" width="12.4" height="7.34" fill="#ff8c8c"/><rect x="619.3" y="50.78" width="12.4" height="7.34" fill="#ff7373"/><rect x="619.3" y="43.73" width="12.4" height="7.34" fill="#ff5959"/><rect x="619.3" y="36.69" width="12.4" height="7.34" fill="#ff4040"/><rect x="619.3" y="29.65" width="12.4" height="7.34" fill="#ff2626"/><rect x="619.3" y="22.6" width="12.4" height="7.34" fill="#ff0d0d"/><path d="M631.7 163.5h-1.4" stroke="#111" stroke-width="0.7"/><text x="635.1" y="167.3" font-size="11.3" text-anchor="start" >0</text><path d="M631.7 128.28h-1.4" stroke="#111" stroke-width="0.7"/><text x="635.1" y="132.08" font-size="11.3" text-anchor="start" >0.5</text><path d="M631.7 93.05h-1.4" stroke="#111" stroke-width="0.7"/><text x="635.1" y="96.85" font-size="11.3" text-anchor="start" >1</text><path d="M631.7 57.82h-1.4" stroke="#111" stroke-width="0.7"/><text x="635.1" y="61.62" font-size="11.3" text-anchor="start" >1.5</text><path d="M631.7 22.6h-1.4" stroke="#111" stroke-width="0.7"/><text x="635.1" y="28.1" font-size="11.3" text-anchor="start" >2</text><text x="606.8" y="17.6" font-size="11.3">(m s<tspan font-size="9.6" dy="-4.8" dx="0.4">-1</tspan><tspan dy="4.8">)</tspan></text><rect x="176.3" y="330.18" width="12.5" height="6.72" fill="#2c3498"/><rect x="176.3" y="323.75" width="12.5" height="6.72" fill="#2840a0"/><rect x="176.3" y="317.33" width="12.5" height="6.72" fill="#2458ac"/><rect x="176.3" y="310.91" width="12.5" height="6.72" fill="#2068b8"/><rect x="176.3" y="304.49" width="12.5" height="6.72" fill="#1c78c4"/><rect x="176.3" y="298.06" width="12.5" height="6.72" fill="#1e8cd0"/><rect x="176.3" y="291.64" width="12.5" height="6.72" fill="#3ca4dc"/><rect x="176.3" y="285.22" width="12.5" height="6.72" fill="#6cbce8"/><rect x="176.3" y="278.8" width="12.5" height="6.72" fill="#a0d4f0"/><rect x="176.3" y="272.37" width="12.5" height="6.72" fill="#d4ecfa"/><rect x="176.3" y="265.95" width="12.5" height="6.72" fill="#ffffff"/><rect x="176.3" y="259.53" width="12.5" height="6.72" fill="#ffffff"/><rect x="176.3" y="253.1" width="12.5" height="6.72" fill="#fadcdc"/><rect x="176.3" y="246.68" width="12.5" height="6.72" fill="#f5b0b0"/><rect x="176.3" y="240.26" width="12.5" height="6.72" fill="#f08482"/><rect x="176.3" y="233.84" width="12.5" height="6.72" fill="#f04434"/><rect x="176.3" y="227.41" width="12.5" height="6.72" fill="#ef3a28"/><rect x="176.3" y="220.99" width="12.5" height="6.72" fill="#ee3226"/><rect x="176.3" y="214.57" width="12.5" height="6.72" fill="#e82a28"/><rect x="176.3" y="208.15" width="12.5" height="6.72" fill="#d82026"/><rect x="176.3" y="201.72" width="12.5" height="6.72" fill="#c01a22"/><rect x="176.3" y="195.3" width="12.5" height="6.72" fill="#a8141e"/><rect x="176.3" y="195.3" width="12.5" height="141.3" fill="none" stroke="#777" stroke-width="0.5"/><text x="193.3" y="206.1" font-size="11.3" text-anchor="start" >5</text><text x="193.3" y="270.1" font-size="11.3" text-anchor="start" >0</text><text x="193.1" y="335.1" font-size="11.3" text-anchor="start" >-5</text><text x="148" y="190.3" font-size="11.3">(kg m<tspan font-size="8.8" dy="-4.8" dx="0.6">-4</tspan><tspan dy="4.8">)</tspan><tspan font-size="11.5" dx="0.2">×</tspan><tspan dx="0.3">10</tspan><tspan font-size="8.8" dy="-4.8" dx="0.5">-4</tspan></text><rect x="393.4" y="330.18" width="12.4" height="6.72" fill="#2c3498"/><rect x="393.4" y="323.75" width="12.4" height="6.72" fill="#2840a0"/><rect x="393.4" y="317.33" width="12.4" height="6.72" fill="#2458ac"/><rect x="393.4" y="310.91" width="12.4" height="6.72" fill="#2068b8"/><rect x="393.4" y="304.49" width="12.4" height="6.72" fill="#1c78c4"/><rect x="393.4" y="298.06" width="12.4" height="6.72" fill="#1e8cd0"/><rect x="393.4" y="291.64" width="12.4" height="6.72" fill="#3ca4dc"/><rect x="393.4" y="285.22" width="12.4" height="6.72" fill="#6cbce8"/><rect x="393.4" y="278.8" width="12.4" height="6.72" fill="#a0d4f0"/><rect x="393.4" y="272.37" width="12.4" height="6.72" fill="#d4ecfa"/><rect x="393.4" y="265.95" width="12.4" height="6.72" fill="#ffffff"/><rect x="393.4" y="259.53" width="12.4" height="6.72" fill="#ffffff"/><rect x="393.4" y="253.1" width="12.4" height="6.72" fill="#fadcdc"/><rect x="393.4" y="246.68" width="12.4" height="6.72" fill="#f5b0b0"/><rect x="393.4" y="240.26" width="12.4" height="6.72" fill="#f08482"/><rect x="393.4" y="233.84" width="12.4" height="6.72" fill="#f04434"/><rect x="393.4" y="227.41" width="12.4" height="6.72" fill="#ef3a28"/><rect x="393.4" y="220.99" width="12.4" height="6.72" fill="#ee3226"/><rect x="393.4" y="214.57" width="12.4" height="6.72" fill="#e82a28"/><rect x="393.4" y="208.15" width="12.4" height="6.72" fill="#d82026"/><rect x="393.4" y="201.72" width="12.4" height="6.72" fill="#c01a22"/><rect x="393.4" y="195.3" width="12.4" height="6.72" fill="#a8141e"/><rect x="393.4" y="195.3" width="12.4" height="141.3" fill="none" stroke="#777" stroke-width="0.5"/><text x="410.3" y="206.1" font-size="11.3" text-anchor="start" >5</text><text x="410.3" y="270.1" font-size="11.3" text-anchor="start" >0</text><text x="410.1" y="335.1" font-size="11.3" text-anchor="start" >-5</text><text x="366" y="190.3" font-size="11.3">(kg m<tspan font-size="8.8" dy="-4.8" dx="0.6">-4</tspan><tspan dy="4.8">)</tspan><tspan font-size="11.5" dx="0.2">×</tspan><tspan dx="0.3">10</tspan><tspan font-size="8.8" dy="-4.8" dx="0.5">-4</tspan></text><rect x="619.3" y="330.18" width="12.4" height="6.72" fill="#2c3498"/><rect x="619.3" y="323.75" width="12.4" height="6.72" fill="#2840a0"/><rect x="619.3" y="317.33" width="12.4" height="6.72" fill="#2458ac"/><rect x="619.3" y="310.91" width="12.4" height="6.72" fill="#2068b8"/><rect x="619.3" y="304.49" width="12.4" height="6.72" fill="#1c78c4"/><rect x="619.3" y="298.06" width="12.4" height="6.72" fill="#1e8cd0"/><rect x="619.3" y="291.64" width="12.4" height="6.72" fill="#3ca4dc"/><rect x="619.3" y="285.22" width="12.4" height="6.72" fill="#6cbce8"/><rect x="619.3" y="278.8" width="12.4" height="6.72" fill="#a0d4f0"/><rect x="619.3" y="272.37" width="12.4" height="6.72" fill="#d4ecfa"/><rect x="619.3" y="265.95" width="12.4" height="6.72" fill="#ffffff"/><rect x="619.3" y="259.53" width="12.4" height="6.72" fill="#ffffff"/><rect x="619.3" y="253.1" width="12.4" height="6.72" fill="#fadcdc"/><rect x="619.3" y="246.68" width="12.4" height="6.72" fill="#f5b0b0"/><rect x="619.3" y="240.26" width="12.4" height="6.72" fill="#f08482"/><rect x="619.3" y="233.84" width="12.4" height="6.72" fill="#f04434"/><rect x="619.3" y="227.41" width="12.4" height="6.72" fill="#ef3a28"/><rect x="619.3" y="220.99" width="12.4" height="6.72" fill="#ee3226"/><rect x="619.3" y="214.57" width="12.4" height="6.72" fill="#e82a28"/><rect x="619.3" y="208.15" width="12.4" height="6.72" fill="#d82026"/><rect x="619.3" y="201.72" width="12.4" height="6.72" fill="#c01a22"/><rect x="619.3" y="195.3" width="12.4" height="6.72" fill="#a8141e"/><rect x="619.3" y="195.3" width="12.4" height="141.3" fill="none" stroke="#777" stroke-width="0.5"/><text x="636.2" y="206.1" font-size="11.3" text-anchor="start" >5</text><text x="636.2" y="270.1" font-size="11.3" text-anchor="start" >0</text><text x="636" y="335.1" font-size="11.3" text-anchor="start" >-5</text><text x="591.9" y="190.3" font-size="11.3">(kg m<tspan font-size="8.8" dy="-4.8" dx="0.6">-4</tspan><tspan dy="4.8">)</tspan><tspan font-size="11.5" dx="0.2">×</tspan><tspan dx="0.3">10</tspan><tspan font-size="8.8" dy="-4.8" dx="0.5">-4</tspan></text></svg></body></html>
